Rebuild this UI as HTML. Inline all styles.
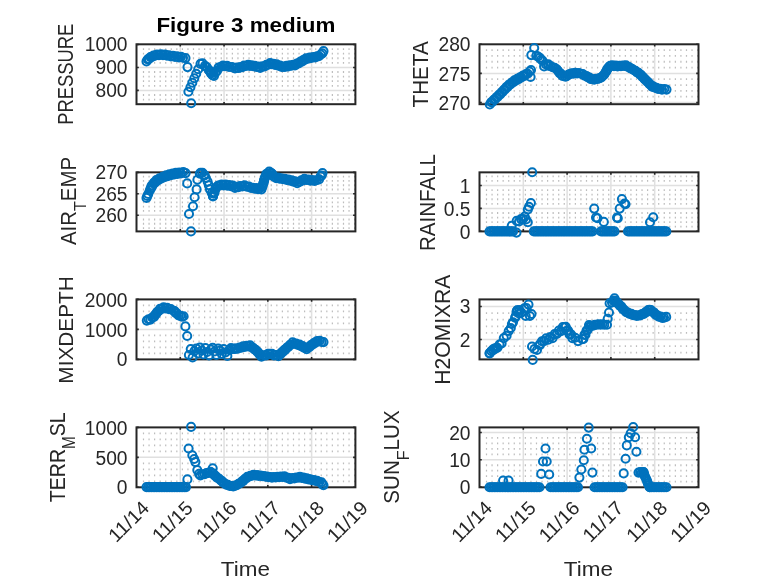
<!DOCTYPE html>
<html><head><meta charset="utf-8"><style>
html,body{margin:0;padding:0;background:#fff;}
svg{display:block;font-family:"Liberation Sans",sans-serif;will-change:transform;}
</style></head><body>
<svg width="778" height="583" viewBox="0 0 778 583">
<rect width="778" height="583" fill="#fff"/>
<g>
<path d="M142.90 94.09h1.2v1.8h-1.2zM142.90 98.69h1.2v1.8h-1.2zM142.90 84.91h1.2v1.8h-1.2zM142.90 80.31h1.2v1.8h-1.2zM142.90 75.72h1.2v1.8h-1.2zM142.90 71.12h1.2v1.8h-1.2zM142.90 61.93h1.2v1.8h-1.2zM142.90 57.34h1.2v1.8h-1.2zM142.90 52.74h1.2v1.8h-1.2zM142.90 48.15h1.2v1.8h-1.2zM148.46 94.09h1.2v1.8h-1.2zM148.46 98.69h1.2v1.8h-1.2zM148.46 84.91h1.2v1.8h-1.2zM148.46 80.31h1.2v1.8h-1.2zM148.46 75.72h1.2v1.8h-1.2zM148.46 71.12h1.2v1.8h-1.2zM148.46 61.93h1.2v1.8h-1.2zM148.46 57.34h1.2v1.8h-1.2zM148.46 52.74h1.2v1.8h-1.2zM148.46 48.15h1.2v1.8h-1.2zM154.01 94.09h1.2v1.8h-1.2zM154.01 98.69h1.2v1.8h-1.2zM154.01 84.91h1.2v1.8h-1.2zM154.01 80.31h1.2v1.8h-1.2zM154.01 75.72h1.2v1.8h-1.2zM154.01 71.12h1.2v1.8h-1.2zM154.01 61.93h1.2v1.8h-1.2zM154.01 57.34h1.2v1.8h-1.2zM154.01 52.74h1.2v1.8h-1.2zM154.01 48.15h1.2v1.8h-1.2zM159.57 94.09h1.2v1.8h-1.2zM159.57 98.69h1.2v1.8h-1.2zM159.57 84.91h1.2v1.8h-1.2zM159.57 80.31h1.2v1.8h-1.2zM159.57 75.72h1.2v1.8h-1.2zM159.57 71.12h1.2v1.8h-1.2zM159.57 61.93h1.2v1.8h-1.2zM159.57 57.34h1.2v1.8h-1.2zM159.57 52.74h1.2v1.8h-1.2zM159.57 48.15h1.2v1.8h-1.2zM165.12 94.09h1.2v1.8h-1.2zM165.12 98.69h1.2v1.8h-1.2zM165.12 84.91h1.2v1.8h-1.2zM165.12 80.31h1.2v1.8h-1.2zM165.12 75.72h1.2v1.8h-1.2zM165.12 71.12h1.2v1.8h-1.2zM165.12 61.93h1.2v1.8h-1.2zM165.12 57.34h1.2v1.8h-1.2zM165.12 52.74h1.2v1.8h-1.2zM165.12 48.15h1.2v1.8h-1.2zM170.68 94.09h1.2v1.8h-1.2zM170.68 98.69h1.2v1.8h-1.2zM170.68 84.91h1.2v1.8h-1.2zM170.68 80.31h1.2v1.8h-1.2zM170.68 75.72h1.2v1.8h-1.2zM170.68 71.12h1.2v1.8h-1.2zM170.68 61.93h1.2v1.8h-1.2zM170.68 57.34h1.2v1.8h-1.2zM170.68 52.74h1.2v1.8h-1.2zM170.68 48.15h1.2v1.8h-1.2zM176.23 94.09h1.2v1.8h-1.2zM176.23 98.69h1.2v1.8h-1.2zM176.23 84.91h1.2v1.8h-1.2zM176.23 80.31h1.2v1.8h-1.2zM176.23 75.72h1.2v1.8h-1.2zM176.23 71.12h1.2v1.8h-1.2zM176.23 61.93h1.2v1.8h-1.2zM176.23 57.34h1.2v1.8h-1.2zM176.23 52.74h1.2v1.8h-1.2zM176.23 48.15h1.2v1.8h-1.2zM181.79 94.09h1.2v1.8h-1.2zM181.79 98.69h1.2v1.8h-1.2zM181.79 84.91h1.2v1.8h-1.2zM181.79 80.31h1.2v1.8h-1.2zM181.79 75.72h1.2v1.8h-1.2zM181.79 71.12h1.2v1.8h-1.2zM181.79 61.93h1.2v1.8h-1.2zM181.79 57.34h1.2v1.8h-1.2zM181.79 52.74h1.2v1.8h-1.2zM181.79 48.15h1.2v1.8h-1.2zM187.34 94.09h1.2v1.8h-1.2zM187.34 98.69h1.2v1.8h-1.2zM187.34 84.91h1.2v1.8h-1.2zM187.34 80.31h1.2v1.8h-1.2zM187.34 75.72h1.2v1.8h-1.2zM187.34 71.12h1.2v1.8h-1.2zM187.34 61.93h1.2v1.8h-1.2zM187.34 57.34h1.2v1.8h-1.2zM187.34 52.74h1.2v1.8h-1.2zM187.34 48.15h1.2v1.8h-1.2zM192.90 94.09h1.2v1.8h-1.2zM192.90 98.69h1.2v1.8h-1.2zM192.90 84.91h1.2v1.8h-1.2zM192.90 80.31h1.2v1.8h-1.2zM192.90 75.72h1.2v1.8h-1.2zM192.90 71.12h1.2v1.8h-1.2zM192.90 61.93h1.2v1.8h-1.2zM192.90 57.34h1.2v1.8h-1.2zM192.90 52.74h1.2v1.8h-1.2zM192.90 48.15h1.2v1.8h-1.2zM198.45 94.09h1.2v1.8h-1.2zM198.45 98.69h1.2v1.8h-1.2zM198.45 84.91h1.2v1.8h-1.2zM198.45 80.31h1.2v1.8h-1.2zM198.45 75.72h1.2v1.8h-1.2zM198.45 71.12h1.2v1.8h-1.2zM198.45 61.93h1.2v1.8h-1.2zM198.45 57.34h1.2v1.8h-1.2zM198.45 52.74h1.2v1.8h-1.2zM198.45 48.15h1.2v1.8h-1.2zM204.01 94.09h1.2v1.8h-1.2zM204.01 98.69h1.2v1.8h-1.2zM204.01 84.91h1.2v1.8h-1.2zM204.01 80.31h1.2v1.8h-1.2zM204.01 75.72h1.2v1.8h-1.2zM204.01 71.12h1.2v1.8h-1.2zM204.01 61.93h1.2v1.8h-1.2zM204.01 57.34h1.2v1.8h-1.2zM204.01 52.74h1.2v1.8h-1.2zM204.01 48.15h1.2v1.8h-1.2zM209.56 94.09h1.2v1.8h-1.2zM209.56 98.69h1.2v1.8h-1.2zM209.56 84.91h1.2v1.8h-1.2zM209.56 80.31h1.2v1.8h-1.2zM209.56 75.72h1.2v1.8h-1.2zM209.56 71.12h1.2v1.8h-1.2zM209.56 61.93h1.2v1.8h-1.2zM209.56 57.34h1.2v1.8h-1.2zM209.56 52.74h1.2v1.8h-1.2zM209.56 48.15h1.2v1.8h-1.2zM215.12 94.09h1.2v1.8h-1.2zM215.12 98.69h1.2v1.8h-1.2zM215.12 84.91h1.2v1.8h-1.2zM215.12 80.31h1.2v1.8h-1.2zM215.12 75.72h1.2v1.8h-1.2zM215.12 71.12h1.2v1.8h-1.2zM215.12 61.93h1.2v1.8h-1.2zM215.12 57.34h1.2v1.8h-1.2zM215.12 52.74h1.2v1.8h-1.2zM215.12 48.15h1.2v1.8h-1.2zM220.67 94.09h1.2v1.8h-1.2zM220.67 98.69h1.2v1.8h-1.2zM220.67 84.91h1.2v1.8h-1.2zM220.67 80.31h1.2v1.8h-1.2zM220.67 75.72h1.2v1.8h-1.2zM220.67 71.12h1.2v1.8h-1.2zM220.67 61.93h1.2v1.8h-1.2zM220.67 57.34h1.2v1.8h-1.2zM220.67 52.74h1.2v1.8h-1.2zM220.67 48.15h1.2v1.8h-1.2zM226.23 94.09h1.2v1.8h-1.2zM226.23 98.69h1.2v1.8h-1.2zM226.23 84.91h1.2v1.8h-1.2zM226.23 80.31h1.2v1.8h-1.2zM226.23 75.72h1.2v1.8h-1.2zM226.23 71.12h1.2v1.8h-1.2zM226.23 61.93h1.2v1.8h-1.2zM226.23 57.34h1.2v1.8h-1.2zM226.23 52.74h1.2v1.8h-1.2zM226.23 48.15h1.2v1.8h-1.2zM231.78 94.09h1.2v1.8h-1.2zM231.78 98.69h1.2v1.8h-1.2zM231.78 84.91h1.2v1.8h-1.2zM231.78 80.31h1.2v1.8h-1.2zM231.78 75.72h1.2v1.8h-1.2zM231.78 71.12h1.2v1.8h-1.2zM231.78 61.93h1.2v1.8h-1.2zM231.78 57.34h1.2v1.8h-1.2zM231.78 52.74h1.2v1.8h-1.2zM231.78 48.15h1.2v1.8h-1.2zM237.34 94.09h1.2v1.8h-1.2zM237.34 98.69h1.2v1.8h-1.2zM237.34 84.91h1.2v1.8h-1.2zM237.34 80.31h1.2v1.8h-1.2zM237.34 75.72h1.2v1.8h-1.2zM237.34 71.12h1.2v1.8h-1.2zM237.34 61.93h1.2v1.8h-1.2zM237.34 57.34h1.2v1.8h-1.2zM237.34 52.74h1.2v1.8h-1.2zM237.34 48.15h1.2v1.8h-1.2zM242.89 94.09h1.2v1.8h-1.2zM242.89 98.69h1.2v1.8h-1.2zM242.89 84.91h1.2v1.8h-1.2zM242.89 80.31h1.2v1.8h-1.2zM242.89 75.72h1.2v1.8h-1.2zM242.89 71.12h1.2v1.8h-1.2zM242.89 61.93h1.2v1.8h-1.2zM242.89 57.34h1.2v1.8h-1.2zM242.89 52.74h1.2v1.8h-1.2zM242.89 48.15h1.2v1.8h-1.2zM248.45 94.09h1.2v1.8h-1.2zM248.45 98.69h1.2v1.8h-1.2zM248.45 84.91h1.2v1.8h-1.2zM248.45 80.31h1.2v1.8h-1.2zM248.45 75.72h1.2v1.8h-1.2zM248.45 71.12h1.2v1.8h-1.2zM248.45 61.93h1.2v1.8h-1.2zM248.45 57.34h1.2v1.8h-1.2zM248.45 52.74h1.2v1.8h-1.2zM248.45 48.15h1.2v1.8h-1.2zM254.00 94.09h1.2v1.8h-1.2zM254.00 98.69h1.2v1.8h-1.2zM254.00 84.91h1.2v1.8h-1.2zM254.00 80.31h1.2v1.8h-1.2zM254.00 75.72h1.2v1.8h-1.2zM254.00 71.12h1.2v1.8h-1.2zM254.00 61.93h1.2v1.8h-1.2zM254.00 57.34h1.2v1.8h-1.2zM254.00 52.74h1.2v1.8h-1.2zM254.00 48.15h1.2v1.8h-1.2zM259.56 94.09h1.2v1.8h-1.2zM259.56 98.69h1.2v1.8h-1.2zM259.56 84.91h1.2v1.8h-1.2zM259.56 80.31h1.2v1.8h-1.2zM259.56 75.72h1.2v1.8h-1.2zM259.56 71.12h1.2v1.8h-1.2zM259.56 61.93h1.2v1.8h-1.2zM259.56 57.34h1.2v1.8h-1.2zM259.56 52.74h1.2v1.8h-1.2zM259.56 48.15h1.2v1.8h-1.2zM265.11 94.09h1.2v1.8h-1.2zM265.11 98.69h1.2v1.8h-1.2zM265.11 84.91h1.2v1.8h-1.2zM265.11 80.31h1.2v1.8h-1.2zM265.11 75.72h1.2v1.8h-1.2zM265.11 71.12h1.2v1.8h-1.2zM265.11 61.93h1.2v1.8h-1.2zM265.11 57.34h1.2v1.8h-1.2zM265.11 52.74h1.2v1.8h-1.2zM265.11 48.15h1.2v1.8h-1.2zM270.67 94.09h1.2v1.8h-1.2zM270.67 98.69h1.2v1.8h-1.2zM270.67 84.91h1.2v1.8h-1.2zM270.67 80.31h1.2v1.8h-1.2zM270.67 75.72h1.2v1.8h-1.2zM270.67 71.12h1.2v1.8h-1.2zM270.67 61.93h1.2v1.8h-1.2zM270.67 57.34h1.2v1.8h-1.2zM270.67 52.74h1.2v1.8h-1.2zM270.67 48.15h1.2v1.8h-1.2zM276.22 94.09h1.2v1.8h-1.2zM276.22 98.69h1.2v1.8h-1.2zM276.22 84.91h1.2v1.8h-1.2zM276.22 80.31h1.2v1.8h-1.2zM276.22 75.72h1.2v1.8h-1.2zM276.22 71.12h1.2v1.8h-1.2zM276.22 61.93h1.2v1.8h-1.2zM276.22 57.34h1.2v1.8h-1.2zM276.22 52.74h1.2v1.8h-1.2zM276.22 48.15h1.2v1.8h-1.2zM281.78 94.09h1.2v1.8h-1.2zM281.78 98.69h1.2v1.8h-1.2zM281.78 84.91h1.2v1.8h-1.2zM281.78 80.31h1.2v1.8h-1.2zM281.78 75.72h1.2v1.8h-1.2zM281.78 71.12h1.2v1.8h-1.2zM281.78 61.93h1.2v1.8h-1.2zM281.78 57.34h1.2v1.8h-1.2zM281.78 52.74h1.2v1.8h-1.2zM281.78 48.15h1.2v1.8h-1.2zM287.33 94.09h1.2v1.8h-1.2zM287.33 98.69h1.2v1.8h-1.2zM287.33 84.91h1.2v1.8h-1.2zM287.33 80.31h1.2v1.8h-1.2zM287.33 75.72h1.2v1.8h-1.2zM287.33 71.12h1.2v1.8h-1.2zM287.33 61.93h1.2v1.8h-1.2zM287.33 57.34h1.2v1.8h-1.2zM287.33 52.74h1.2v1.8h-1.2zM287.33 48.15h1.2v1.8h-1.2zM292.89 94.09h1.2v1.8h-1.2zM292.89 98.69h1.2v1.8h-1.2zM292.89 84.91h1.2v1.8h-1.2zM292.89 80.31h1.2v1.8h-1.2zM292.89 75.72h1.2v1.8h-1.2zM292.89 71.12h1.2v1.8h-1.2zM292.89 61.93h1.2v1.8h-1.2zM292.89 57.34h1.2v1.8h-1.2zM292.89 52.74h1.2v1.8h-1.2zM292.89 48.15h1.2v1.8h-1.2zM298.44 94.09h1.2v1.8h-1.2zM298.44 98.69h1.2v1.8h-1.2zM298.44 84.91h1.2v1.8h-1.2zM298.44 80.31h1.2v1.8h-1.2zM298.44 75.72h1.2v1.8h-1.2zM298.44 71.12h1.2v1.8h-1.2zM298.44 61.93h1.2v1.8h-1.2zM298.44 57.34h1.2v1.8h-1.2zM298.44 52.74h1.2v1.8h-1.2zM298.44 48.15h1.2v1.8h-1.2zM304.00 94.09h1.2v1.8h-1.2zM304.00 98.69h1.2v1.8h-1.2zM304.00 84.91h1.2v1.8h-1.2zM304.00 80.31h1.2v1.8h-1.2zM304.00 75.72h1.2v1.8h-1.2zM304.00 71.12h1.2v1.8h-1.2zM304.00 61.93h1.2v1.8h-1.2zM304.00 57.34h1.2v1.8h-1.2zM304.00 52.74h1.2v1.8h-1.2zM304.00 48.15h1.2v1.8h-1.2zM309.55 94.09h1.2v1.8h-1.2zM309.55 98.69h1.2v1.8h-1.2zM309.55 84.91h1.2v1.8h-1.2zM309.55 80.31h1.2v1.8h-1.2zM309.55 75.72h1.2v1.8h-1.2zM309.55 71.12h1.2v1.8h-1.2zM309.55 61.93h1.2v1.8h-1.2zM309.55 57.34h1.2v1.8h-1.2zM309.55 52.74h1.2v1.8h-1.2zM309.55 48.15h1.2v1.8h-1.2zM315.11 94.09h1.2v1.8h-1.2zM315.11 98.69h1.2v1.8h-1.2zM315.11 84.91h1.2v1.8h-1.2zM315.11 80.31h1.2v1.8h-1.2zM315.11 75.72h1.2v1.8h-1.2zM315.11 71.12h1.2v1.8h-1.2zM315.11 61.93h1.2v1.8h-1.2zM315.11 57.34h1.2v1.8h-1.2zM315.11 52.74h1.2v1.8h-1.2zM315.11 48.15h1.2v1.8h-1.2zM320.66 94.09h1.2v1.8h-1.2zM320.66 98.69h1.2v1.8h-1.2zM320.66 84.91h1.2v1.8h-1.2zM320.66 80.31h1.2v1.8h-1.2zM320.66 75.72h1.2v1.8h-1.2zM320.66 71.12h1.2v1.8h-1.2zM320.66 61.93h1.2v1.8h-1.2zM320.66 57.34h1.2v1.8h-1.2zM320.66 52.74h1.2v1.8h-1.2zM320.66 48.15h1.2v1.8h-1.2zM326.22 94.09h1.2v1.8h-1.2zM326.22 98.69h1.2v1.8h-1.2zM326.22 84.91h1.2v1.8h-1.2zM326.22 80.31h1.2v1.8h-1.2zM326.22 75.72h1.2v1.8h-1.2zM326.22 71.12h1.2v1.8h-1.2zM326.22 61.93h1.2v1.8h-1.2zM326.22 57.34h1.2v1.8h-1.2zM326.22 52.74h1.2v1.8h-1.2zM326.22 48.15h1.2v1.8h-1.2zM331.77 94.09h1.2v1.8h-1.2zM331.77 98.69h1.2v1.8h-1.2zM331.77 84.91h1.2v1.8h-1.2zM331.77 80.31h1.2v1.8h-1.2zM331.77 75.72h1.2v1.8h-1.2zM331.77 71.12h1.2v1.8h-1.2zM331.77 61.93h1.2v1.8h-1.2zM331.77 57.34h1.2v1.8h-1.2zM331.77 52.74h1.2v1.8h-1.2zM331.77 48.15h1.2v1.8h-1.2zM337.33 94.09h1.2v1.8h-1.2zM337.33 98.69h1.2v1.8h-1.2zM337.33 84.91h1.2v1.8h-1.2zM337.33 80.31h1.2v1.8h-1.2zM337.33 75.72h1.2v1.8h-1.2zM337.33 71.12h1.2v1.8h-1.2zM337.33 61.93h1.2v1.8h-1.2zM337.33 57.34h1.2v1.8h-1.2zM337.33 52.74h1.2v1.8h-1.2zM337.33 48.15h1.2v1.8h-1.2zM342.88 94.09h1.2v1.8h-1.2zM342.88 98.69h1.2v1.8h-1.2zM342.88 84.91h1.2v1.8h-1.2zM342.88 80.31h1.2v1.8h-1.2zM342.88 75.72h1.2v1.8h-1.2zM342.88 71.12h1.2v1.8h-1.2zM342.88 61.93h1.2v1.8h-1.2zM342.88 57.34h1.2v1.8h-1.2zM342.88 52.74h1.2v1.8h-1.2zM342.88 48.15h1.2v1.8h-1.2zM348.44 94.09h1.2v1.8h-1.2zM348.44 98.69h1.2v1.8h-1.2zM348.44 84.91h1.2v1.8h-1.2zM348.44 80.31h1.2v1.8h-1.2zM348.44 75.72h1.2v1.8h-1.2zM348.44 71.12h1.2v1.8h-1.2zM348.44 61.93h1.2v1.8h-1.2zM348.44 57.34h1.2v1.8h-1.2zM348.44 52.74h1.2v1.8h-1.2zM348.44 48.15h1.2v1.8h-1.2zM353.99 94.09h1.2v1.8h-1.2zM353.99 98.69h1.2v1.8h-1.2zM353.99 84.91h1.2v1.8h-1.2zM353.99 80.31h1.2v1.8h-1.2zM353.99 75.72h1.2v1.8h-1.2zM353.99 71.12h1.2v1.8h-1.2zM353.99 61.93h1.2v1.8h-1.2zM353.99 57.34h1.2v1.8h-1.2zM353.99 52.74h1.2v1.8h-1.2zM353.99 48.15h1.2v1.8h-1.2z" fill="#262626" fill-opacity="0.3"/>
<path d="M180.28 44.30V104.20M224.06 44.30V104.20M267.84 44.30V104.20M311.62 44.30V104.20M136.50 90.40H355.40M136.50 67.43H355.40" stroke="#e0e0e0" stroke-width="1.5" fill="none"/>
<rect x="136.5" y="44.3" width="218.90" height="59.90" fill="none" stroke="#262626" stroke-width="2.0"/>
<path d="M180.28 44.30v2.3M180.28 104.20v-2.3M224.06 44.30v2.3M224.06 104.20v-2.3M267.84 44.30v2.3M267.84 104.20v-2.3M311.62 44.30v2.3M311.62 104.20v-2.3M136.50 90.40h2.3M355.40 90.40h-2.3M136.50 67.43h2.3M355.40 67.43h-2.3M136.50 44.45h2.3M355.40 44.45h-2.3" stroke="#262626" stroke-width="1.6" fill="none"/>
<path d="M148.97 58.53L149.00 58.50L152.00 56.50L155.00 55.20L159.00 54.80L163.00 54.80L167.00 55.20L171.00 56.00L175.00 56.50L179.00 57.00L182.28 57.25" fill="none" stroke="#0072BD" stroke-width="3.8" stroke-linecap="round" stroke-linejoin="round"/>
<path d="M203.72 64.63L205.00 65.50L207.00 67.80L209.00 70.00L211.00 73.00L212.50 75.50L214.00 75.50L215.50 73.00L217.00 70.50L218.50 68.00L221.00 66.30L225.00 65.70L229.00 66.50L232.00 67.50L235.00 68.00L240.50 67.50L244.00 66.00L248.20 65.20L254.70 66.10L260.20 67.50L264.60 66.10L270.10 63.40L276.70 64.80L283.30 67.00L289.80 65.60L295.00 65.00L300.50 62.00L306.00 58.70L311.50 57.60L317.00 56.80L320.70 54.90L321.28 54.21" fill="none" stroke="#0072BD" stroke-width="3.8" stroke-linecap="round" stroke-linejoin="round"/>
<g fill="none" stroke="#0072BD" stroke-width="2.0"><circle cx="146.50" cy="61.40" r="4.05"/><circle cx="147.75" cy="59.35" r="4.05"/><circle cx="149.00" cy="58.90" r="4.05"/><circle cx="150.50" cy="57.10" r="4.05"/><circle cx="152.00" cy="56.90" r="4.05"/><circle cx="153.50" cy="55.45" r="4.05"/><circle cx="155.00" cy="55.60" r="4.05"/><circle cx="157.00" cy="54.60" r="4.05"/><circle cx="159.00" cy="55.20" r="4.05"/><circle cx="161.00" cy="54.40" r="4.05"/><circle cx="163.00" cy="55.20" r="4.05"/><circle cx="165.00" cy="54.60" r="4.05"/><circle cx="167.00" cy="55.60" r="4.05"/><circle cx="169.00" cy="55.20" r="4.05"/><circle cx="171.00" cy="56.40" r="4.05"/><circle cx="173.00" cy="55.85" r="4.05"/><circle cx="175.00" cy="56.90" r="4.05"/><circle cx="177.00" cy="56.35" r="4.05"/><circle cx="179.00" cy="57.40" r="4.05"/><circle cx="181.00" cy="56.75" r="4.05"/><circle cx="183.00" cy="57.70" r="4.05"/><circle cx="185.50" cy="58.10" r="4.05"/><circle cx="187.50" cy="67.10" r="4.05"/><circle cx="191.20" cy="103.20" r="4.05"/><circle cx="188.40" cy="91.80" r="4.05"/><circle cx="190.40" cy="87.30" r="4.05"/><circle cx="192.30" cy="82.80" r="4.05"/><circle cx="194.30" cy="78.20" r="4.05"/><circle cx="196.20" cy="73.70" r="4.05"/><circle cx="198.20" cy="69.20" r="4.05"/><circle cx="200.50" cy="63.90" r="4.05"/><circle cx="202.50" cy="63.40" r="4.05"/><circle cx="205.00" cy="65.90" r="4.05"/><circle cx="207.00" cy="67.40" r="4.05"/><circle cx="209.00" cy="70.40" r="4.05"/><circle cx="210.00" cy="71.10" r="4.05"/><circle cx="211.00" cy="73.40" r="4.05"/><circle cx="212.50" cy="75.10" r="4.05"/><circle cx="214.00" cy="75.90" r="4.05"/><circle cx="215.50" cy="72.60" r="4.05"/><circle cx="217.00" cy="70.90" r="4.05"/><circle cx="218.50" cy="67.60" r="4.05"/><circle cx="221.00" cy="66.70" r="4.05"/><circle cx="223.00" cy="65.60" r="4.05"/><circle cx="225.00" cy="66.10" r="4.05"/><circle cx="227.00" cy="65.70" r="4.05"/><circle cx="229.00" cy="66.90" r="4.05"/><circle cx="232.00" cy="67.10" r="4.05"/><circle cx="235.00" cy="68.40" r="4.05"/><circle cx="236.83" cy="67.43" r="4.05"/><circle cx="238.67" cy="68.07" r="4.05"/><circle cx="240.50" cy="67.10" r="4.05"/><circle cx="242.25" cy="67.15" r="4.05"/><circle cx="244.00" cy="65.60" r="4.05"/><circle cx="246.10" cy="66.00" r="4.05"/><circle cx="248.20" cy="64.80" r="4.05"/><circle cx="249.82" cy="65.83" r="4.05"/><circle cx="251.45" cy="65.25" r="4.05"/><circle cx="253.07" cy="66.28" r="4.05"/><circle cx="254.70" cy="65.70" r="4.05"/><circle cx="256.53" cy="66.97" r="4.05"/><circle cx="258.37" cy="66.63" r="4.05"/><circle cx="260.20" cy="67.90" r="4.05"/><circle cx="262.40" cy="66.40" r="4.05"/><circle cx="264.60" cy="66.50" r="4.05"/><circle cx="266.43" cy="64.80" r="4.05"/><circle cx="268.27" cy="64.70" r="4.05"/><circle cx="270.10" cy="63.00" r="4.05"/><circle cx="271.75" cy="64.15" r="4.05"/><circle cx="273.40" cy="63.70" r="4.05"/><circle cx="275.05" cy="64.85" r="4.05"/><circle cx="276.70" cy="64.40" r="4.05"/><circle cx="278.35" cy="65.75" r="4.05"/><circle cx="280.00" cy="65.50" r="4.05"/><circle cx="281.65" cy="66.85" r="4.05"/><circle cx="283.30" cy="66.60" r="4.05"/><circle cx="284.93" cy="67.05" r="4.05"/><circle cx="286.55" cy="65.90" r="4.05"/><circle cx="288.18" cy="66.35" r="4.05"/><circle cx="289.80" cy="65.20" r="4.05"/><circle cx="291.53" cy="65.80" r="4.05"/><circle cx="293.27" cy="64.80" r="4.05"/><circle cx="295.00" cy="65.40" r="4.05"/><circle cx="296.83" cy="63.60" r="4.05"/><circle cx="298.67" cy="63.40" r="4.05"/><circle cx="300.50" cy="61.60" r="4.05"/><circle cx="301.88" cy="61.57" r="4.05"/><circle cx="303.25" cy="59.95" r="4.05"/><circle cx="304.62" cy="59.93" r="4.05"/><circle cx="306.00" cy="58.30" r="4.05"/><circle cx="307.83" cy="58.73" r="4.05"/><circle cx="309.67" cy="57.57" r="4.05"/><circle cx="311.50" cy="58.00" r="4.05"/><circle cx="313.33" cy="56.93" r="4.05"/><circle cx="315.17" cy="57.47" r="4.05"/><circle cx="317.00" cy="56.40" r="4.05"/><circle cx="318.85" cy="56.25" r="4.05"/><circle cx="320.70" cy="54.50" r="4.05"/><circle cx="322.30" cy="53.40" r="4.05"/><circle cx="323.50" cy="51.10" r="4.05"/></g>
<text transform="translate(127.50,96.99) scale(0.975,1)" text-anchor="end" font-size="19.7" fill="#262626">800</text>
<text transform="translate(127.50,73.94) scale(0.975,1)" text-anchor="end" font-size="19.7" fill="#262626">900</text>
<text transform="translate(127.50,51.09) scale(0.975,1)" text-anchor="end" font-size="19.7" fill="#262626">1000</text>
</g>
<g>
<path d="M142.90 218.58h1.2v1.8h-1.2zM142.90 222.86h1.2v1.8h-1.2zM142.90 227.14h1.2v1.8h-1.2zM142.90 210.02h1.2v1.8h-1.2zM142.90 205.74h1.2v1.8h-1.2zM142.90 201.46h1.2v1.8h-1.2zM142.90 197.18h1.2v1.8h-1.2zM142.90 188.62h1.2v1.8h-1.2zM142.90 184.34h1.2v1.8h-1.2zM142.90 180.06h1.2v1.8h-1.2zM142.90 175.78h1.2v1.8h-1.2zM148.46 218.58h1.2v1.8h-1.2zM148.46 222.86h1.2v1.8h-1.2zM148.46 227.14h1.2v1.8h-1.2zM148.46 210.02h1.2v1.8h-1.2zM148.46 205.74h1.2v1.8h-1.2zM148.46 201.46h1.2v1.8h-1.2zM148.46 197.18h1.2v1.8h-1.2zM148.46 188.62h1.2v1.8h-1.2zM148.46 184.34h1.2v1.8h-1.2zM148.46 180.06h1.2v1.8h-1.2zM148.46 175.78h1.2v1.8h-1.2zM154.01 218.58h1.2v1.8h-1.2zM154.01 222.86h1.2v1.8h-1.2zM154.01 227.14h1.2v1.8h-1.2zM154.01 210.02h1.2v1.8h-1.2zM154.01 205.74h1.2v1.8h-1.2zM154.01 201.46h1.2v1.8h-1.2zM154.01 197.18h1.2v1.8h-1.2zM154.01 188.62h1.2v1.8h-1.2zM154.01 184.34h1.2v1.8h-1.2zM154.01 180.06h1.2v1.8h-1.2zM154.01 175.78h1.2v1.8h-1.2zM159.57 218.58h1.2v1.8h-1.2zM159.57 222.86h1.2v1.8h-1.2zM159.57 227.14h1.2v1.8h-1.2zM159.57 210.02h1.2v1.8h-1.2zM159.57 205.74h1.2v1.8h-1.2zM159.57 201.46h1.2v1.8h-1.2zM159.57 197.18h1.2v1.8h-1.2zM159.57 188.62h1.2v1.8h-1.2zM159.57 184.34h1.2v1.8h-1.2zM159.57 180.06h1.2v1.8h-1.2zM159.57 175.78h1.2v1.8h-1.2zM165.12 218.58h1.2v1.8h-1.2zM165.12 222.86h1.2v1.8h-1.2zM165.12 227.14h1.2v1.8h-1.2zM165.12 210.02h1.2v1.8h-1.2zM165.12 205.74h1.2v1.8h-1.2zM165.12 201.46h1.2v1.8h-1.2zM165.12 197.18h1.2v1.8h-1.2zM165.12 188.62h1.2v1.8h-1.2zM165.12 184.34h1.2v1.8h-1.2zM165.12 180.06h1.2v1.8h-1.2zM165.12 175.78h1.2v1.8h-1.2zM170.68 218.58h1.2v1.8h-1.2zM170.68 222.86h1.2v1.8h-1.2zM170.68 227.14h1.2v1.8h-1.2zM170.68 210.02h1.2v1.8h-1.2zM170.68 205.74h1.2v1.8h-1.2zM170.68 201.46h1.2v1.8h-1.2zM170.68 197.18h1.2v1.8h-1.2zM170.68 188.62h1.2v1.8h-1.2zM170.68 184.34h1.2v1.8h-1.2zM170.68 180.06h1.2v1.8h-1.2zM170.68 175.78h1.2v1.8h-1.2zM176.23 218.58h1.2v1.8h-1.2zM176.23 222.86h1.2v1.8h-1.2zM176.23 227.14h1.2v1.8h-1.2zM176.23 210.02h1.2v1.8h-1.2zM176.23 205.74h1.2v1.8h-1.2zM176.23 201.46h1.2v1.8h-1.2zM176.23 197.18h1.2v1.8h-1.2zM176.23 188.62h1.2v1.8h-1.2zM176.23 184.34h1.2v1.8h-1.2zM176.23 180.06h1.2v1.8h-1.2zM176.23 175.78h1.2v1.8h-1.2zM181.79 218.58h1.2v1.8h-1.2zM181.79 222.86h1.2v1.8h-1.2zM181.79 227.14h1.2v1.8h-1.2zM181.79 210.02h1.2v1.8h-1.2zM181.79 205.74h1.2v1.8h-1.2zM181.79 201.46h1.2v1.8h-1.2zM181.79 197.18h1.2v1.8h-1.2zM181.79 188.62h1.2v1.8h-1.2zM181.79 184.34h1.2v1.8h-1.2zM181.79 180.06h1.2v1.8h-1.2zM181.79 175.78h1.2v1.8h-1.2zM187.34 218.58h1.2v1.8h-1.2zM187.34 222.86h1.2v1.8h-1.2zM187.34 227.14h1.2v1.8h-1.2zM187.34 210.02h1.2v1.8h-1.2zM187.34 205.74h1.2v1.8h-1.2zM187.34 201.46h1.2v1.8h-1.2zM187.34 197.18h1.2v1.8h-1.2zM187.34 188.62h1.2v1.8h-1.2zM187.34 184.34h1.2v1.8h-1.2zM187.34 180.06h1.2v1.8h-1.2zM187.34 175.78h1.2v1.8h-1.2zM192.90 218.58h1.2v1.8h-1.2zM192.90 222.86h1.2v1.8h-1.2zM192.90 227.14h1.2v1.8h-1.2zM192.90 210.02h1.2v1.8h-1.2zM192.90 205.74h1.2v1.8h-1.2zM192.90 201.46h1.2v1.8h-1.2zM192.90 197.18h1.2v1.8h-1.2zM192.90 188.62h1.2v1.8h-1.2zM192.90 184.34h1.2v1.8h-1.2zM192.90 180.06h1.2v1.8h-1.2zM192.90 175.78h1.2v1.8h-1.2zM198.45 218.58h1.2v1.8h-1.2zM198.45 222.86h1.2v1.8h-1.2zM198.45 227.14h1.2v1.8h-1.2zM198.45 210.02h1.2v1.8h-1.2zM198.45 205.74h1.2v1.8h-1.2zM198.45 201.46h1.2v1.8h-1.2zM198.45 197.18h1.2v1.8h-1.2zM198.45 188.62h1.2v1.8h-1.2zM198.45 184.34h1.2v1.8h-1.2zM198.45 180.06h1.2v1.8h-1.2zM198.45 175.78h1.2v1.8h-1.2zM204.01 218.58h1.2v1.8h-1.2zM204.01 222.86h1.2v1.8h-1.2zM204.01 227.14h1.2v1.8h-1.2zM204.01 210.02h1.2v1.8h-1.2zM204.01 205.74h1.2v1.8h-1.2zM204.01 201.46h1.2v1.8h-1.2zM204.01 197.18h1.2v1.8h-1.2zM204.01 188.62h1.2v1.8h-1.2zM204.01 184.34h1.2v1.8h-1.2zM204.01 180.06h1.2v1.8h-1.2zM204.01 175.78h1.2v1.8h-1.2zM209.56 218.58h1.2v1.8h-1.2zM209.56 222.86h1.2v1.8h-1.2zM209.56 227.14h1.2v1.8h-1.2zM209.56 210.02h1.2v1.8h-1.2zM209.56 205.74h1.2v1.8h-1.2zM209.56 201.46h1.2v1.8h-1.2zM209.56 197.18h1.2v1.8h-1.2zM209.56 188.62h1.2v1.8h-1.2zM209.56 184.34h1.2v1.8h-1.2zM209.56 180.06h1.2v1.8h-1.2zM209.56 175.78h1.2v1.8h-1.2zM215.12 218.58h1.2v1.8h-1.2zM215.12 222.86h1.2v1.8h-1.2zM215.12 227.14h1.2v1.8h-1.2zM215.12 210.02h1.2v1.8h-1.2zM215.12 205.74h1.2v1.8h-1.2zM215.12 201.46h1.2v1.8h-1.2zM215.12 197.18h1.2v1.8h-1.2zM215.12 188.62h1.2v1.8h-1.2zM215.12 184.34h1.2v1.8h-1.2zM215.12 180.06h1.2v1.8h-1.2zM215.12 175.78h1.2v1.8h-1.2zM220.67 218.58h1.2v1.8h-1.2zM220.67 222.86h1.2v1.8h-1.2zM220.67 227.14h1.2v1.8h-1.2zM220.67 210.02h1.2v1.8h-1.2zM220.67 205.74h1.2v1.8h-1.2zM220.67 201.46h1.2v1.8h-1.2zM220.67 197.18h1.2v1.8h-1.2zM220.67 188.62h1.2v1.8h-1.2zM220.67 184.34h1.2v1.8h-1.2zM220.67 180.06h1.2v1.8h-1.2zM220.67 175.78h1.2v1.8h-1.2zM226.23 218.58h1.2v1.8h-1.2zM226.23 222.86h1.2v1.8h-1.2zM226.23 227.14h1.2v1.8h-1.2zM226.23 210.02h1.2v1.8h-1.2zM226.23 205.74h1.2v1.8h-1.2zM226.23 201.46h1.2v1.8h-1.2zM226.23 197.18h1.2v1.8h-1.2zM226.23 188.62h1.2v1.8h-1.2zM226.23 184.34h1.2v1.8h-1.2zM226.23 180.06h1.2v1.8h-1.2zM226.23 175.78h1.2v1.8h-1.2zM231.78 218.58h1.2v1.8h-1.2zM231.78 222.86h1.2v1.8h-1.2zM231.78 227.14h1.2v1.8h-1.2zM231.78 210.02h1.2v1.8h-1.2zM231.78 205.74h1.2v1.8h-1.2zM231.78 201.46h1.2v1.8h-1.2zM231.78 197.18h1.2v1.8h-1.2zM231.78 188.62h1.2v1.8h-1.2zM231.78 184.34h1.2v1.8h-1.2zM231.78 180.06h1.2v1.8h-1.2zM231.78 175.78h1.2v1.8h-1.2zM237.34 218.58h1.2v1.8h-1.2zM237.34 222.86h1.2v1.8h-1.2zM237.34 227.14h1.2v1.8h-1.2zM237.34 210.02h1.2v1.8h-1.2zM237.34 205.74h1.2v1.8h-1.2zM237.34 201.46h1.2v1.8h-1.2zM237.34 197.18h1.2v1.8h-1.2zM237.34 188.62h1.2v1.8h-1.2zM237.34 184.34h1.2v1.8h-1.2zM237.34 180.06h1.2v1.8h-1.2zM237.34 175.78h1.2v1.8h-1.2zM242.89 218.58h1.2v1.8h-1.2zM242.89 222.86h1.2v1.8h-1.2zM242.89 227.14h1.2v1.8h-1.2zM242.89 210.02h1.2v1.8h-1.2zM242.89 205.74h1.2v1.8h-1.2zM242.89 201.46h1.2v1.8h-1.2zM242.89 197.18h1.2v1.8h-1.2zM242.89 188.62h1.2v1.8h-1.2zM242.89 184.34h1.2v1.8h-1.2zM242.89 180.06h1.2v1.8h-1.2zM242.89 175.78h1.2v1.8h-1.2zM248.45 218.58h1.2v1.8h-1.2zM248.45 222.86h1.2v1.8h-1.2zM248.45 227.14h1.2v1.8h-1.2zM248.45 210.02h1.2v1.8h-1.2zM248.45 205.74h1.2v1.8h-1.2zM248.45 201.46h1.2v1.8h-1.2zM248.45 197.18h1.2v1.8h-1.2zM248.45 188.62h1.2v1.8h-1.2zM248.45 184.34h1.2v1.8h-1.2zM248.45 180.06h1.2v1.8h-1.2zM248.45 175.78h1.2v1.8h-1.2zM254.00 218.58h1.2v1.8h-1.2zM254.00 222.86h1.2v1.8h-1.2zM254.00 227.14h1.2v1.8h-1.2zM254.00 210.02h1.2v1.8h-1.2zM254.00 205.74h1.2v1.8h-1.2zM254.00 201.46h1.2v1.8h-1.2zM254.00 197.18h1.2v1.8h-1.2zM254.00 188.62h1.2v1.8h-1.2zM254.00 184.34h1.2v1.8h-1.2zM254.00 180.06h1.2v1.8h-1.2zM254.00 175.78h1.2v1.8h-1.2zM259.56 218.58h1.2v1.8h-1.2zM259.56 222.86h1.2v1.8h-1.2zM259.56 227.14h1.2v1.8h-1.2zM259.56 210.02h1.2v1.8h-1.2zM259.56 205.74h1.2v1.8h-1.2zM259.56 201.46h1.2v1.8h-1.2zM259.56 197.18h1.2v1.8h-1.2zM259.56 188.62h1.2v1.8h-1.2zM259.56 184.34h1.2v1.8h-1.2zM259.56 180.06h1.2v1.8h-1.2zM259.56 175.78h1.2v1.8h-1.2zM265.11 218.58h1.2v1.8h-1.2zM265.11 222.86h1.2v1.8h-1.2zM265.11 227.14h1.2v1.8h-1.2zM265.11 210.02h1.2v1.8h-1.2zM265.11 205.74h1.2v1.8h-1.2zM265.11 201.46h1.2v1.8h-1.2zM265.11 197.18h1.2v1.8h-1.2zM265.11 188.62h1.2v1.8h-1.2zM265.11 184.34h1.2v1.8h-1.2zM265.11 180.06h1.2v1.8h-1.2zM265.11 175.78h1.2v1.8h-1.2zM270.67 218.58h1.2v1.8h-1.2zM270.67 222.86h1.2v1.8h-1.2zM270.67 227.14h1.2v1.8h-1.2zM270.67 210.02h1.2v1.8h-1.2zM270.67 205.74h1.2v1.8h-1.2zM270.67 201.46h1.2v1.8h-1.2zM270.67 197.18h1.2v1.8h-1.2zM270.67 188.62h1.2v1.8h-1.2zM270.67 184.34h1.2v1.8h-1.2zM270.67 180.06h1.2v1.8h-1.2zM270.67 175.78h1.2v1.8h-1.2zM276.22 218.58h1.2v1.8h-1.2zM276.22 222.86h1.2v1.8h-1.2zM276.22 227.14h1.2v1.8h-1.2zM276.22 210.02h1.2v1.8h-1.2zM276.22 205.74h1.2v1.8h-1.2zM276.22 201.46h1.2v1.8h-1.2zM276.22 197.18h1.2v1.8h-1.2zM276.22 188.62h1.2v1.8h-1.2zM276.22 184.34h1.2v1.8h-1.2zM276.22 180.06h1.2v1.8h-1.2zM276.22 175.78h1.2v1.8h-1.2zM281.78 218.58h1.2v1.8h-1.2zM281.78 222.86h1.2v1.8h-1.2zM281.78 227.14h1.2v1.8h-1.2zM281.78 210.02h1.2v1.8h-1.2zM281.78 205.74h1.2v1.8h-1.2zM281.78 201.46h1.2v1.8h-1.2zM281.78 197.18h1.2v1.8h-1.2zM281.78 188.62h1.2v1.8h-1.2zM281.78 184.34h1.2v1.8h-1.2zM281.78 180.06h1.2v1.8h-1.2zM281.78 175.78h1.2v1.8h-1.2zM287.33 218.58h1.2v1.8h-1.2zM287.33 222.86h1.2v1.8h-1.2zM287.33 227.14h1.2v1.8h-1.2zM287.33 210.02h1.2v1.8h-1.2zM287.33 205.74h1.2v1.8h-1.2zM287.33 201.46h1.2v1.8h-1.2zM287.33 197.18h1.2v1.8h-1.2zM287.33 188.62h1.2v1.8h-1.2zM287.33 184.34h1.2v1.8h-1.2zM287.33 180.06h1.2v1.8h-1.2zM287.33 175.78h1.2v1.8h-1.2zM292.89 218.58h1.2v1.8h-1.2zM292.89 222.86h1.2v1.8h-1.2zM292.89 227.14h1.2v1.8h-1.2zM292.89 210.02h1.2v1.8h-1.2zM292.89 205.74h1.2v1.8h-1.2zM292.89 201.46h1.2v1.8h-1.2zM292.89 197.18h1.2v1.8h-1.2zM292.89 188.62h1.2v1.8h-1.2zM292.89 184.34h1.2v1.8h-1.2zM292.89 180.06h1.2v1.8h-1.2zM292.89 175.78h1.2v1.8h-1.2zM298.44 218.58h1.2v1.8h-1.2zM298.44 222.86h1.2v1.8h-1.2zM298.44 227.14h1.2v1.8h-1.2zM298.44 210.02h1.2v1.8h-1.2zM298.44 205.74h1.2v1.8h-1.2zM298.44 201.46h1.2v1.8h-1.2zM298.44 197.18h1.2v1.8h-1.2zM298.44 188.62h1.2v1.8h-1.2zM298.44 184.34h1.2v1.8h-1.2zM298.44 180.06h1.2v1.8h-1.2zM298.44 175.78h1.2v1.8h-1.2zM304.00 218.58h1.2v1.8h-1.2zM304.00 222.86h1.2v1.8h-1.2zM304.00 227.14h1.2v1.8h-1.2zM304.00 210.02h1.2v1.8h-1.2zM304.00 205.74h1.2v1.8h-1.2zM304.00 201.46h1.2v1.8h-1.2zM304.00 197.18h1.2v1.8h-1.2zM304.00 188.62h1.2v1.8h-1.2zM304.00 184.34h1.2v1.8h-1.2zM304.00 180.06h1.2v1.8h-1.2zM304.00 175.78h1.2v1.8h-1.2zM309.55 218.58h1.2v1.8h-1.2zM309.55 222.86h1.2v1.8h-1.2zM309.55 227.14h1.2v1.8h-1.2zM309.55 210.02h1.2v1.8h-1.2zM309.55 205.74h1.2v1.8h-1.2zM309.55 201.46h1.2v1.8h-1.2zM309.55 197.18h1.2v1.8h-1.2zM309.55 188.62h1.2v1.8h-1.2zM309.55 184.34h1.2v1.8h-1.2zM309.55 180.06h1.2v1.8h-1.2zM309.55 175.78h1.2v1.8h-1.2zM315.11 218.58h1.2v1.8h-1.2zM315.11 222.86h1.2v1.8h-1.2zM315.11 227.14h1.2v1.8h-1.2zM315.11 210.02h1.2v1.8h-1.2zM315.11 205.74h1.2v1.8h-1.2zM315.11 201.46h1.2v1.8h-1.2zM315.11 197.18h1.2v1.8h-1.2zM315.11 188.62h1.2v1.8h-1.2zM315.11 184.34h1.2v1.8h-1.2zM315.11 180.06h1.2v1.8h-1.2zM315.11 175.78h1.2v1.8h-1.2zM320.66 218.58h1.2v1.8h-1.2zM320.66 222.86h1.2v1.8h-1.2zM320.66 227.14h1.2v1.8h-1.2zM320.66 210.02h1.2v1.8h-1.2zM320.66 205.74h1.2v1.8h-1.2zM320.66 201.46h1.2v1.8h-1.2zM320.66 197.18h1.2v1.8h-1.2zM320.66 188.62h1.2v1.8h-1.2zM320.66 184.34h1.2v1.8h-1.2zM320.66 180.06h1.2v1.8h-1.2zM320.66 175.78h1.2v1.8h-1.2zM326.22 218.58h1.2v1.8h-1.2zM326.22 222.86h1.2v1.8h-1.2zM326.22 227.14h1.2v1.8h-1.2zM326.22 210.02h1.2v1.8h-1.2zM326.22 205.74h1.2v1.8h-1.2zM326.22 201.46h1.2v1.8h-1.2zM326.22 197.18h1.2v1.8h-1.2zM326.22 188.62h1.2v1.8h-1.2zM326.22 184.34h1.2v1.8h-1.2zM326.22 180.06h1.2v1.8h-1.2zM326.22 175.78h1.2v1.8h-1.2zM331.77 218.58h1.2v1.8h-1.2zM331.77 222.86h1.2v1.8h-1.2zM331.77 227.14h1.2v1.8h-1.2zM331.77 210.02h1.2v1.8h-1.2zM331.77 205.74h1.2v1.8h-1.2zM331.77 201.46h1.2v1.8h-1.2zM331.77 197.18h1.2v1.8h-1.2zM331.77 188.62h1.2v1.8h-1.2zM331.77 184.34h1.2v1.8h-1.2zM331.77 180.06h1.2v1.8h-1.2zM331.77 175.78h1.2v1.8h-1.2zM337.33 218.58h1.2v1.8h-1.2zM337.33 222.86h1.2v1.8h-1.2zM337.33 227.14h1.2v1.8h-1.2zM337.33 210.02h1.2v1.8h-1.2zM337.33 205.74h1.2v1.8h-1.2zM337.33 201.46h1.2v1.8h-1.2zM337.33 197.18h1.2v1.8h-1.2zM337.33 188.62h1.2v1.8h-1.2zM337.33 184.34h1.2v1.8h-1.2zM337.33 180.06h1.2v1.8h-1.2zM337.33 175.78h1.2v1.8h-1.2zM342.88 218.58h1.2v1.8h-1.2zM342.88 222.86h1.2v1.8h-1.2zM342.88 227.14h1.2v1.8h-1.2zM342.88 210.02h1.2v1.8h-1.2zM342.88 205.74h1.2v1.8h-1.2zM342.88 201.46h1.2v1.8h-1.2zM342.88 197.18h1.2v1.8h-1.2zM342.88 188.62h1.2v1.8h-1.2zM342.88 184.34h1.2v1.8h-1.2zM342.88 180.06h1.2v1.8h-1.2zM342.88 175.78h1.2v1.8h-1.2zM348.44 218.58h1.2v1.8h-1.2zM348.44 222.86h1.2v1.8h-1.2zM348.44 227.14h1.2v1.8h-1.2zM348.44 210.02h1.2v1.8h-1.2zM348.44 205.74h1.2v1.8h-1.2zM348.44 201.46h1.2v1.8h-1.2zM348.44 197.18h1.2v1.8h-1.2zM348.44 188.62h1.2v1.8h-1.2zM348.44 184.34h1.2v1.8h-1.2zM348.44 180.06h1.2v1.8h-1.2zM348.44 175.78h1.2v1.8h-1.2zM353.99 218.58h1.2v1.8h-1.2zM353.99 222.86h1.2v1.8h-1.2zM353.99 227.14h1.2v1.8h-1.2zM353.99 210.02h1.2v1.8h-1.2zM353.99 205.74h1.2v1.8h-1.2zM353.99 201.46h1.2v1.8h-1.2zM353.99 197.18h1.2v1.8h-1.2zM353.99 188.62h1.2v1.8h-1.2zM353.99 184.34h1.2v1.8h-1.2zM353.99 180.06h1.2v1.8h-1.2zM353.99 175.78h1.2v1.8h-1.2z" fill="#262626" fill-opacity="0.3"/>
<path d="M180.28 172.35V231.40M224.06 172.35V231.40M267.84 172.35V231.40M311.62 172.35V231.40M136.50 215.20H355.40M136.50 193.80H355.40" stroke="#e0e0e0" stroke-width="1.5" fill="none"/>
<rect x="136.5" y="172.35" width="218.90" height="59.05" fill="none" stroke="#262626" stroke-width="2.0"/>
<path d="M180.28 172.35v2.3M180.28 231.40v-2.3M224.06 172.35v2.3M224.06 231.40v-2.3M267.84 172.35v2.3M267.84 231.40v-2.3M311.62 172.35v2.3M311.62 231.40v-2.3M136.50 215.20h2.3M355.40 215.20h-2.3M136.50 193.80h2.3M355.40 193.80h-2.3M136.50 172.40h2.3M355.40 172.40h-2.3" stroke="#262626" stroke-width="1.6" fill="none"/>
<path d="M152.35 185.03L152.50 184.80L156.30 180.70L161.00 178.00L166.10 176.00L171.00 174.50L175.90 173.50L181.00 172.80L182.11 172.73" fill="none" stroke="#0072BD" stroke-width="4.2" stroke-linecap="round" stroke-linejoin="round"/>
<path d="M202.50 173.75h0.01" fill="none" stroke="#0072BD" stroke-width="3.8" stroke-linecap="round" stroke-linejoin="round"/>
<path d="M214.23 192.72L214.50 192.00L216.00 187.50L219.60 185.00L225.60 185.00L232.80 186.00L235.00 187.50L240.00 186.50L244.60 185.80L249.00 187.00L253.00 188.20L261.40 189.10L263.20 184.00L264.40 179.20L266.20 174.40L269.20 172.00L271.00 172.50L274.60 177.40L283.00 178.90L290.20 180.40L295.00 181.60L297.20 182.80L304.40 179.20L310.40 180.40L316.40 180.70L319.00 179.00L320.60 176.80L320.75 176.53" fill="none" stroke="#0072BD" stroke-width="3.8" stroke-linecap="round" stroke-linejoin="round"/>
<g fill="none" stroke="#0072BD" stroke-width="2.0"><circle cx="150.50" cy="188.60" r="4.05"/><circle cx="151.50" cy="185.80" r="4.05"/><circle cx="152.50" cy="185.40" r="4.05"/><circle cx="153.77" cy="182.83" r="4.05"/><circle cx="155.03" cy="182.67" r="4.05"/><circle cx="156.30" cy="180.10" r="4.05"/><circle cx="157.87" cy="180.40" r="4.05"/><circle cx="159.43" cy="178.30" r="4.05"/><circle cx="161.00" cy="178.60" r="4.05"/><circle cx="162.70" cy="176.73" r="4.05"/><circle cx="164.40" cy="177.27" r="4.05"/><circle cx="166.10" cy="175.40" r="4.05"/><circle cx="167.73" cy="176.10" r="4.05"/><circle cx="169.37" cy="174.40" r="4.05"/><circle cx="171.00" cy="175.10" r="4.05"/><circle cx="172.63" cy="173.57" r="4.05"/><circle cx="174.27" cy="174.43" r="4.05"/><circle cx="175.90" cy="172.90" r="4.05"/><circle cx="177.60" cy="173.87" r="4.05"/><circle cx="179.30" cy="172.43" r="4.05"/><circle cx="181.00" cy="173.40" r="4.05"/><circle cx="183.30" cy="172.05" r="4.05"/><circle cx="185.60" cy="173.10" r="4.05"/><circle cx="146.50" cy="197.90" r="4.05"/><circle cx="147.35" cy="195.95" r="4.05"/><circle cx="148.20" cy="194.00" r="4.05"/><circle cx="149.80" cy="190.50" r="4.05"/><circle cx="151.50" cy="187.50" r="4.05"/><circle cx="187.20" cy="183.40" r="4.05"/><circle cx="189.00" cy="214.00" r="4.05"/><circle cx="191.00" cy="231.40" r="4.05"/><circle cx="193.00" cy="206.20" r="4.05"/><circle cx="194.60" cy="197.20" r="4.05"/><circle cx="196.60" cy="189.40" r="4.05"/><circle cx="197.40" cy="179.80" r="4.05"/><circle cx="199.80" cy="173.80" r="4.05"/><circle cx="200.50" cy="172.90" r="4.05"/><circle cx="202.50" cy="172.80" r="4.05"/><circle cx="204.50" cy="175.40" r="4.05"/><circle cx="204.50" cy="175.00" r="4.05"/><circle cx="205.80" cy="178.00" r="4.05"/><circle cx="207.60" cy="181.60" r="4.05"/><circle cx="208.80" cy="185.20" r="4.05"/><circle cx="210.00" cy="189.40" r="4.05"/><circle cx="211.80" cy="193.00" r="4.05"/><circle cx="213.00" cy="196.00" r="4.05"/><circle cx="213.00" cy="196.40" r="4.05"/><circle cx="213.75" cy="193.60" r="4.05"/><circle cx="214.50" cy="192.40" r="4.05"/><circle cx="215.25" cy="189.35" r="4.05"/><circle cx="216.00" cy="187.90" r="4.05"/><circle cx="217.80" cy="185.85" r="4.05"/><circle cx="219.60" cy="185.40" r="4.05"/><circle cx="221.60" cy="184.60" r="4.05"/><circle cx="223.60" cy="185.40" r="4.05"/><circle cx="225.60" cy="184.60" r="4.05"/><circle cx="227.40" cy="185.65" r="4.05"/><circle cx="229.20" cy="185.10" r="4.05"/><circle cx="231.00" cy="186.15" r="4.05"/><circle cx="232.80" cy="185.60" r="4.05"/><circle cx="235.00" cy="187.90" r="4.05"/><circle cx="236.67" cy="186.77" r="4.05"/><circle cx="238.33" cy="187.23" r="4.05"/><circle cx="240.00" cy="186.10" r="4.05"/><circle cx="242.30" cy="186.55" r="4.05"/><circle cx="244.60" cy="185.40" r="4.05"/><circle cx="246.80" cy="186.80" r="4.05"/><circle cx="249.00" cy="186.60" r="4.05"/><circle cx="251.00" cy="188.00" r="4.05"/><circle cx="253.00" cy="187.80" r="4.05"/><circle cx="254.68" cy="188.78" r="4.05"/><circle cx="256.36" cy="188.16" r="4.05"/><circle cx="258.04" cy="189.14" r="4.05"/><circle cx="259.72" cy="188.52" r="4.05"/><circle cx="261.40" cy="189.50" r="4.05"/><circle cx="262.00" cy="187.00" r="4.05"/><circle cx="262.60" cy="186.10" r="4.05"/><circle cx="263.20" cy="183.60" r="4.05"/><circle cx="263.60" cy="182.80" r="4.05"/><circle cx="264.00" cy="180.40" r="4.05"/><circle cx="264.40" cy="179.60" r="4.05"/><circle cx="265.00" cy="177.20" r="4.05"/><circle cx="265.60" cy="176.40" r="4.05"/><circle cx="266.20" cy="174.00" r="4.05"/><circle cx="267.70" cy="173.60" r="4.05"/><circle cx="269.20" cy="171.60" r="4.05"/><circle cx="271.00" cy="172.90" r="4.05"/><circle cx="272.20" cy="173.73" r="4.05"/><circle cx="273.40" cy="176.17" r="4.05"/><circle cx="274.60" cy="177.00" r="4.05"/><circle cx="276.28" cy="178.10" r="4.05"/><circle cx="277.96" cy="177.60" r="4.05"/><circle cx="279.64" cy="178.70" r="4.05"/><circle cx="281.32" cy="178.20" r="4.05"/><circle cx="283.00" cy="179.30" r="4.05"/><circle cx="284.80" cy="178.88" r="4.05"/><circle cx="286.60" cy="180.05" r="4.05"/><circle cx="288.40" cy="179.62" r="4.05"/><circle cx="290.20" cy="180.80" r="4.05"/><circle cx="291.80" cy="180.40" r="4.05"/><circle cx="293.40" cy="181.60" r="4.05"/><circle cx="295.00" cy="181.20" r="4.05"/><circle cx="297.20" cy="183.20" r="4.05"/><circle cx="298.64" cy="181.68" r="4.05"/><circle cx="300.08" cy="181.76" r="4.05"/><circle cx="301.52" cy="180.24" r="4.05"/><circle cx="302.96" cy="180.32" r="4.05"/><circle cx="304.40" cy="178.80" r="4.05"/><circle cx="306.40" cy="180.00" r="4.05"/><circle cx="308.40" cy="179.60" r="4.05"/><circle cx="310.40" cy="180.80" r="4.05"/><circle cx="312.40" cy="180.10" r="4.05"/><circle cx="314.40" cy="181.00" r="4.05"/><circle cx="316.40" cy="180.30" r="4.05"/><circle cx="319.00" cy="179.40" r="4.05"/><circle cx="320.60" cy="176.40" r="4.05"/><circle cx="321.55" cy="175.55" r="4.05"/><circle cx="322.50" cy="173.10" r="4.05"/></g>
<text transform="translate(127.50,222.09) scale(0.975,1)" text-anchor="end" font-size="19.7" fill="#262626">260</text>
<text transform="translate(127.50,201.09) scale(0.975,1)" text-anchor="end" font-size="19.7" fill="#262626">265</text>
<text transform="translate(127.50,178.90) scale(0.975,1)" text-anchor="end" font-size="19.7" fill="#262626">270</text>
</g>
<g>
<path d="M142.90 352.50h1.2v1.8h-1.2zM142.90 346.50h1.2v1.8h-1.2zM142.90 340.50h1.2v1.8h-1.2zM142.90 334.50h1.2v1.8h-1.2zM142.90 322.50h1.2v1.8h-1.2zM142.90 316.50h1.2v1.8h-1.2zM142.90 310.50h1.2v1.8h-1.2zM142.90 304.50h1.2v1.8h-1.2zM148.46 352.50h1.2v1.8h-1.2zM148.46 346.50h1.2v1.8h-1.2zM148.46 340.50h1.2v1.8h-1.2zM148.46 334.50h1.2v1.8h-1.2zM148.46 322.50h1.2v1.8h-1.2zM148.46 316.50h1.2v1.8h-1.2zM148.46 310.50h1.2v1.8h-1.2zM148.46 304.50h1.2v1.8h-1.2zM154.01 352.50h1.2v1.8h-1.2zM154.01 346.50h1.2v1.8h-1.2zM154.01 340.50h1.2v1.8h-1.2zM154.01 334.50h1.2v1.8h-1.2zM154.01 322.50h1.2v1.8h-1.2zM154.01 316.50h1.2v1.8h-1.2zM154.01 310.50h1.2v1.8h-1.2zM154.01 304.50h1.2v1.8h-1.2zM159.57 352.50h1.2v1.8h-1.2zM159.57 346.50h1.2v1.8h-1.2zM159.57 340.50h1.2v1.8h-1.2zM159.57 334.50h1.2v1.8h-1.2zM159.57 322.50h1.2v1.8h-1.2zM159.57 316.50h1.2v1.8h-1.2zM159.57 310.50h1.2v1.8h-1.2zM159.57 304.50h1.2v1.8h-1.2zM165.12 352.50h1.2v1.8h-1.2zM165.12 346.50h1.2v1.8h-1.2zM165.12 340.50h1.2v1.8h-1.2zM165.12 334.50h1.2v1.8h-1.2zM165.12 322.50h1.2v1.8h-1.2zM165.12 316.50h1.2v1.8h-1.2zM165.12 310.50h1.2v1.8h-1.2zM165.12 304.50h1.2v1.8h-1.2zM170.68 352.50h1.2v1.8h-1.2zM170.68 346.50h1.2v1.8h-1.2zM170.68 340.50h1.2v1.8h-1.2zM170.68 334.50h1.2v1.8h-1.2zM170.68 322.50h1.2v1.8h-1.2zM170.68 316.50h1.2v1.8h-1.2zM170.68 310.50h1.2v1.8h-1.2zM170.68 304.50h1.2v1.8h-1.2zM176.23 352.50h1.2v1.8h-1.2zM176.23 346.50h1.2v1.8h-1.2zM176.23 340.50h1.2v1.8h-1.2zM176.23 334.50h1.2v1.8h-1.2zM176.23 322.50h1.2v1.8h-1.2zM176.23 316.50h1.2v1.8h-1.2zM176.23 310.50h1.2v1.8h-1.2zM176.23 304.50h1.2v1.8h-1.2zM181.79 352.50h1.2v1.8h-1.2zM181.79 346.50h1.2v1.8h-1.2zM181.79 340.50h1.2v1.8h-1.2zM181.79 334.50h1.2v1.8h-1.2zM181.79 322.50h1.2v1.8h-1.2zM181.79 316.50h1.2v1.8h-1.2zM181.79 310.50h1.2v1.8h-1.2zM181.79 304.50h1.2v1.8h-1.2zM187.34 352.50h1.2v1.8h-1.2zM187.34 346.50h1.2v1.8h-1.2zM187.34 340.50h1.2v1.8h-1.2zM187.34 334.50h1.2v1.8h-1.2zM187.34 322.50h1.2v1.8h-1.2zM187.34 316.50h1.2v1.8h-1.2zM187.34 310.50h1.2v1.8h-1.2zM187.34 304.50h1.2v1.8h-1.2zM192.90 352.50h1.2v1.8h-1.2zM192.90 346.50h1.2v1.8h-1.2zM192.90 340.50h1.2v1.8h-1.2zM192.90 334.50h1.2v1.8h-1.2zM192.90 322.50h1.2v1.8h-1.2zM192.90 316.50h1.2v1.8h-1.2zM192.90 310.50h1.2v1.8h-1.2zM192.90 304.50h1.2v1.8h-1.2zM198.45 352.50h1.2v1.8h-1.2zM198.45 346.50h1.2v1.8h-1.2zM198.45 340.50h1.2v1.8h-1.2zM198.45 334.50h1.2v1.8h-1.2zM198.45 322.50h1.2v1.8h-1.2zM198.45 316.50h1.2v1.8h-1.2zM198.45 310.50h1.2v1.8h-1.2zM198.45 304.50h1.2v1.8h-1.2zM204.01 352.50h1.2v1.8h-1.2zM204.01 346.50h1.2v1.8h-1.2zM204.01 340.50h1.2v1.8h-1.2zM204.01 334.50h1.2v1.8h-1.2zM204.01 322.50h1.2v1.8h-1.2zM204.01 316.50h1.2v1.8h-1.2zM204.01 310.50h1.2v1.8h-1.2zM204.01 304.50h1.2v1.8h-1.2zM209.56 352.50h1.2v1.8h-1.2zM209.56 346.50h1.2v1.8h-1.2zM209.56 340.50h1.2v1.8h-1.2zM209.56 334.50h1.2v1.8h-1.2zM209.56 322.50h1.2v1.8h-1.2zM209.56 316.50h1.2v1.8h-1.2zM209.56 310.50h1.2v1.8h-1.2zM209.56 304.50h1.2v1.8h-1.2zM215.12 352.50h1.2v1.8h-1.2zM215.12 346.50h1.2v1.8h-1.2zM215.12 340.50h1.2v1.8h-1.2zM215.12 334.50h1.2v1.8h-1.2zM215.12 322.50h1.2v1.8h-1.2zM215.12 316.50h1.2v1.8h-1.2zM215.12 310.50h1.2v1.8h-1.2zM215.12 304.50h1.2v1.8h-1.2zM220.67 352.50h1.2v1.8h-1.2zM220.67 346.50h1.2v1.8h-1.2zM220.67 340.50h1.2v1.8h-1.2zM220.67 334.50h1.2v1.8h-1.2zM220.67 322.50h1.2v1.8h-1.2zM220.67 316.50h1.2v1.8h-1.2zM220.67 310.50h1.2v1.8h-1.2zM220.67 304.50h1.2v1.8h-1.2zM226.23 352.50h1.2v1.8h-1.2zM226.23 346.50h1.2v1.8h-1.2zM226.23 340.50h1.2v1.8h-1.2zM226.23 334.50h1.2v1.8h-1.2zM226.23 322.50h1.2v1.8h-1.2zM226.23 316.50h1.2v1.8h-1.2zM226.23 310.50h1.2v1.8h-1.2zM226.23 304.50h1.2v1.8h-1.2zM231.78 352.50h1.2v1.8h-1.2zM231.78 346.50h1.2v1.8h-1.2zM231.78 340.50h1.2v1.8h-1.2zM231.78 334.50h1.2v1.8h-1.2zM231.78 322.50h1.2v1.8h-1.2zM231.78 316.50h1.2v1.8h-1.2zM231.78 310.50h1.2v1.8h-1.2zM231.78 304.50h1.2v1.8h-1.2zM237.34 352.50h1.2v1.8h-1.2zM237.34 346.50h1.2v1.8h-1.2zM237.34 340.50h1.2v1.8h-1.2zM237.34 334.50h1.2v1.8h-1.2zM237.34 322.50h1.2v1.8h-1.2zM237.34 316.50h1.2v1.8h-1.2zM237.34 310.50h1.2v1.8h-1.2zM237.34 304.50h1.2v1.8h-1.2zM242.89 352.50h1.2v1.8h-1.2zM242.89 346.50h1.2v1.8h-1.2zM242.89 340.50h1.2v1.8h-1.2zM242.89 334.50h1.2v1.8h-1.2zM242.89 322.50h1.2v1.8h-1.2zM242.89 316.50h1.2v1.8h-1.2zM242.89 310.50h1.2v1.8h-1.2zM242.89 304.50h1.2v1.8h-1.2zM248.45 352.50h1.2v1.8h-1.2zM248.45 346.50h1.2v1.8h-1.2zM248.45 340.50h1.2v1.8h-1.2zM248.45 334.50h1.2v1.8h-1.2zM248.45 322.50h1.2v1.8h-1.2zM248.45 316.50h1.2v1.8h-1.2zM248.45 310.50h1.2v1.8h-1.2zM248.45 304.50h1.2v1.8h-1.2zM254.00 352.50h1.2v1.8h-1.2zM254.00 346.50h1.2v1.8h-1.2zM254.00 340.50h1.2v1.8h-1.2zM254.00 334.50h1.2v1.8h-1.2zM254.00 322.50h1.2v1.8h-1.2zM254.00 316.50h1.2v1.8h-1.2zM254.00 310.50h1.2v1.8h-1.2zM254.00 304.50h1.2v1.8h-1.2zM259.56 352.50h1.2v1.8h-1.2zM259.56 346.50h1.2v1.8h-1.2zM259.56 340.50h1.2v1.8h-1.2zM259.56 334.50h1.2v1.8h-1.2zM259.56 322.50h1.2v1.8h-1.2zM259.56 316.50h1.2v1.8h-1.2zM259.56 310.50h1.2v1.8h-1.2zM259.56 304.50h1.2v1.8h-1.2zM265.11 352.50h1.2v1.8h-1.2zM265.11 346.50h1.2v1.8h-1.2zM265.11 340.50h1.2v1.8h-1.2zM265.11 334.50h1.2v1.8h-1.2zM265.11 322.50h1.2v1.8h-1.2zM265.11 316.50h1.2v1.8h-1.2zM265.11 310.50h1.2v1.8h-1.2zM265.11 304.50h1.2v1.8h-1.2zM270.67 352.50h1.2v1.8h-1.2zM270.67 346.50h1.2v1.8h-1.2zM270.67 340.50h1.2v1.8h-1.2zM270.67 334.50h1.2v1.8h-1.2zM270.67 322.50h1.2v1.8h-1.2zM270.67 316.50h1.2v1.8h-1.2zM270.67 310.50h1.2v1.8h-1.2zM270.67 304.50h1.2v1.8h-1.2zM276.22 352.50h1.2v1.8h-1.2zM276.22 346.50h1.2v1.8h-1.2zM276.22 340.50h1.2v1.8h-1.2zM276.22 334.50h1.2v1.8h-1.2zM276.22 322.50h1.2v1.8h-1.2zM276.22 316.50h1.2v1.8h-1.2zM276.22 310.50h1.2v1.8h-1.2zM276.22 304.50h1.2v1.8h-1.2zM281.78 352.50h1.2v1.8h-1.2zM281.78 346.50h1.2v1.8h-1.2zM281.78 340.50h1.2v1.8h-1.2zM281.78 334.50h1.2v1.8h-1.2zM281.78 322.50h1.2v1.8h-1.2zM281.78 316.50h1.2v1.8h-1.2zM281.78 310.50h1.2v1.8h-1.2zM281.78 304.50h1.2v1.8h-1.2zM287.33 352.50h1.2v1.8h-1.2zM287.33 346.50h1.2v1.8h-1.2zM287.33 340.50h1.2v1.8h-1.2zM287.33 334.50h1.2v1.8h-1.2zM287.33 322.50h1.2v1.8h-1.2zM287.33 316.50h1.2v1.8h-1.2zM287.33 310.50h1.2v1.8h-1.2zM287.33 304.50h1.2v1.8h-1.2zM292.89 352.50h1.2v1.8h-1.2zM292.89 346.50h1.2v1.8h-1.2zM292.89 340.50h1.2v1.8h-1.2zM292.89 334.50h1.2v1.8h-1.2zM292.89 322.50h1.2v1.8h-1.2zM292.89 316.50h1.2v1.8h-1.2zM292.89 310.50h1.2v1.8h-1.2zM292.89 304.50h1.2v1.8h-1.2zM298.44 352.50h1.2v1.8h-1.2zM298.44 346.50h1.2v1.8h-1.2zM298.44 340.50h1.2v1.8h-1.2zM298.44 334.50h1.2v1.8h-1.2zM298.44 322.50h1.2v1.8h-1.2zM298.44 316.50h1.2v1.8h-1.2zM298.44 310.50h1.2v1.8h-1.2zM298.44 304.50h1.2v1.8h-1.2zM304.00 352.50h1.2v1.8h-1.2zM304.00 346.50h1.2v1.8h-1.2zM304.00 340.50h1.2v1.8h-1.2zM304.00 334.50h1.2v1.8h-1.2zM304.00 322.50h1.2v1.8h-1.2zM304.00 316.50h1.2v1.8h-1.2zM304.00 310.50h1.2v1.8h-1.2zM304.00 304.50h1.2v1.8h-1.2zM309.55 352.50h1.2v1.8h-1.2zM309.55 346.50h1.2v1.8h-1.2zM309.55 340.50h1.2v1.8h-1.2zM309.55 334.50h1.2v1.8h-1.2zM309.55 322.50h1.2v1.8h-1.2zM309.55 316.50h1.2v1.8h-1.2zM309.55 310.50h1.2v1.8h-1.2zM309.55 304.50h1.2v1.8h-1.2zM315.11 352.50h1.2v1.8h-1.2zM315.11 346.50h1.2v1.8h-1.2zM315.11 340.50h1.2v1.8h-1.2zM315.11 334.50h1.2v1.8h-1.2zM315.11 322.50h1.2v1.8h-1.2zM315.11 316.50h1.2v1.8h-1.2zM315.11 310.50h1.2v1.8h-1.2zM315.11 304.50h1.2v1.8h-1.2zM320.66 352.50h1.2v1.8h-1.2zM320.66 346.50h1.2v1.8h-1.2zM320.66 340.50h1.2v1.8h-1.2zM320.66 334.50h1.2v1.8h-1.2zM320.66 322.50h1.2v1.8h-1.2zM320.66 316.50h1.2v1.8h-1.2zM320.66 310.50h1.2v1.8h-1.2zM320.66 304.50h1.2v1.8h-1.2zM326.22 352.50h1.2v1.8h-1.2zM326.22 346.50h1.2v1.8h-1.2zM326.22 340.50h1.2v1.8h-1.2zM326.22 334.50h1.2v1.8h-1.2zM326.22 322.50h1.2v1.8h-1.2zM326.22 316.50h1.2v1.8h-1.2zM326.22 310.50h1.2v1.8h-1.2zM326.22 304.50h1.2v1.8h-1.2zM331.77 352.50h1.2v1.8h-1.2zM331.77 346.50h1.2v1.8h-1.2zM331.77 340.50h1.2v1.8h-1.2zM331.77 334.50h1.2v1.8h-1.2zM331.77 322.50h1.2v1.8h-1.2zM331.77 316.50h1.2v1.8h-1.2zM331.77 310.50h1.2v1.8h-1.2zM331.77 304.50h1.2v1.8h-1.2zM337.33 352.50h1.2v1.8h-1.2zM337.33 346.50h1.2v1.8h-1.2zM337.33 340.50h1.2v1.8h-1.2zM337.33 334.50h1.2v1.8h-1.2zM337.33 322.50h1.2v1.8h-1.2zM337.33 316.50h1.2v1.8h-1.2zM337.33 310.50h1.2v1.8h-1.2zM337.33 304.50h1.2v1.8h-1.2zM342.88 352.50h1.2v1.8h-1.2zM342.88 346.50h1.2v1.8h-1.2zM342.88 340.50h1.2v1.8h-1.2zM342.88 334.50h1.2v1.8h-1.2zM342.88 322.50h1.2v1.8h-1.2zM342.88 316.50h1.2v1.8h-1.2zM342.88 310.50h1.2v1.8h-1.2zM342.88 304.50h1.2v1.8h-1.2zM348.44 352.50h1.2v1.8h-1.2zM348.44 346.50h1.2v1.8h-1.2zM348.44 340.50h1.2v1.8h-1.2zM348.44 334.50h1.2v1.8h-1.2zM348.44 322.50h1.2v1.8h-1.2zM348.44 316.50h1.2v1.8h-1.2zM348.44 310.50h1.2v1.8h-1.2zM348.44 304.50h1.2v1.8h-1.2zM353.99 352.50h1.2v1.8h-1.2zM353.99 346.50h1.2v1.8h-1.2zM353.99 340.50h1.2v1.8h-1.2zM353.99 334.50h1.2v1.8h-1.2zM353.99 322.50h1.2v1.8h-1.2zM353.99 316.50h1.2v1.8h-1.2zM353.99 310.50h1.2v1.8h-1.2zM353.99 304.50h1.2v1.8h-1.2z" fill="#262626" fill-opacity="0.3"/>
<path d="M180.28 299.40V359.40M224.06 299.40V359.40M267.84 299.40V359.40M311.62 299.40V359.40M136.50 329.40H355.40" stroke="#e0e0e0" stroke-width="1.5" fill="none"/>
<rect x="136.5" y="299.4" width="218.90" height="60.00" fill="none" stroke="#262626" stroke-width="2.0"/>
<path d="M180.28 299.40v2.3M180.28 359.40v-2.3M224.06 299.40v2.3M224.06 359.40v-2.3M267.84 299.40v2.3M267.84 359.40v-2.3M311.62 299.40v2.3M311.62 359.40v-2.3M136.50 359.40h2.3M355.40 359.40h-2.3M136.50 329.40h2.3M355.40 329.40h-2.3M136.50 299.40h2.3M355.40 299.40h-2.3" stroke="#262626" stroke-width="1.6" fill="none"/>
<path d="M150.17 319.26L150.40 319.20L154.00 316.50L157.00 312.50L160.00 309.20L163.60 307.80L167.20 308.30L170.80 309.50L173.50 310.30L176.80 313.80L180.17 316.05" fill="none" stroke="#0072BD" stroke-width="3.8" stroke-linecap="round" stroke-linejoin="round"/>
<path d="M193.00 351.50L230.00 351.00" fill="none" stroke="#0072BD" stroke-width="4.0" stroke-linecap="round" stroke-linejoin="round"/>
<path d="M237.98 348.31L243.00 346.80L250.10 345.70L257.20 351.40L261.50 356.30L266.00 355.00L270.00 353.50L274.00 355.00L278.40 355.70L285.50 349.20L292.60 342.80L299.60 345.00L306.70 348.90L312.40 344.30L318.00 340.70L320.27 341.22" fill="none" stroke="#0072BD" stroke-width="3.8" stroke-linecap="round" stroke-linejoin="round"/>
<g fill="none" stroke="#0072BD" stroke-width="2.0"><circle cx="146.80" cy="320.60" r="4.05"/><circle cx="148.60" cy="319.30" r="4.05"/><circle cx="150.40" cy="319.60" r="4.05"/><circle cx="152.20" cy="317.45" r="4.05"/><circle cx="154.00" cy="316.90" r="4.05"/><circle cx="155.00" cy="314.77" r="4.05"/><circle cx="156.00" cy="314.23" r="4.05"/><circle cx="157.00" cy="312.10" r="4.05"/><circle cx="158.50" cy="311.25" r="4.05"/><circle cx="160.00" cy="308.80" r="4.05"/><circle cx="161.80" cy="308.90" r="4.05"/><circle cx="163.60" cy="307.40" r="4.05"/><circle cx="165.40" cy="308.45" r="4.05"/><circle cx="167.20" cy="307.90" r="4.05"/><circle cx="169.00" cy="309.30" r="4.05"/><circle cx="170.80" cy="309.10" r="4.05"/><circle cx="173.50" cy="310.70" r="4.05"/><circle cx="174.60" cy="311.07" r="4.05"/><circle cx="175.70" cy="313.03" r="4.05"/><circle cx="176.80" cy="313.40" r="4.05"/><circle cx="178.60" cy="315.40" r="4.05"/><circle cx="180.40" cy="315.80" r="4.05"/><circle cx="182.00" cy="316.80" r="4.05"/><circle cx="183.60" cy="316.20" r="4.05"/><circle cx="185.40" cy="326.40" r="4.05"/><circle cx="187.20" cy="336.00" r="4.05"/><circle cx="188.90" cy="355.00" r="4.05"/><circle cx="190.73" cy="349.00" r="4.05"/><circle cx="192.56" cy="357.50" r="4.05"/><circle cx="194.39" cy="351.00" r="4.05"/><circle cx="196.22" cy="348.50" r="4.05"/><circle cx="198.05" cy="353.50" r="4.05"/><circle cx="199.88" cy="347.50" r="4.05"/><circle cx="201.71" cy="350.50" r="4.05"/><circle cx="203.54" cy="354.50" r="4.05"/><circle cx="205.37" cy="348.00" r="4.05"/><circle cx="207.20" cy="352.00" r="4.05"/><circle cx="209.03" cy="355.50" r="4.05"/><circle cx="210.86" cy="349.50" r="4.05"/><circle cx="212.69" cy="347.80" r="4.05"/><circle cx="214.52" cy="351.50" r="4.05"/><circle cx="216.35" cy="355.00" r="4.05"/><circle cx="218.18" cy="348.50" r="4.05"/><circle cx="220.01" cy="350.50" r="4.05"/><circle cx="221.84" cy="354.00" r="4.05"/><circle cx="223.67" cy="349.00" r="4.05"/><circle cx="225.50" cy="352.50" r="4.05"/><circle cx="227.33" cy="356.00" r="4.05"/><circle cx="229.16" cy="350.00" r="4.05"/><circle cx="230.99" cy="348.00" r="4.05"/><circle cx="232.82" cy="349.00" r="4.05"/><circle cx="234.65" cy="348.60" r="4.05"/><circle cx="234.60" cy="349.00" r="4.05"/><circle cx="236.00" cy="348.50" r="4.05"/><circle cx="237.75" cy="348.77" r="4.05"/><circle cx="239.50" cy="347.45" r="4.05"/><circle cx="241.25" cy="347.72" r="4.05"/><circle cx="243.00" cy="346.40" r="4.05"/><circle cx="244.78" cy="346.92" r="4.05"/><circle cx="246.55" cy="345.85" r="4.05"/><circle cx="248.32" cy="346.38" r="4.05"/><circle cx="250.10" cy="345.30" r="4.05"/><circle cx="251.52" cy="347.24" r="4.05"/><circle cx="252.94" cy="347.58" r="4.05"/><circle cx="254.36" cy="349.52" r="4.05"/><circle cx="255.78" cy="349.86" r="4.05"/><circle cx="257.20" cy="351.80" r="4.05"/><circle cx="258.27" cy="352.23" r="4.05"/><circle cx="259.35" cy="354.25" r="4.05"/><circle cx="260.43" cy="354.68" r="4.05"/><circle cx="261.50" cy="356.70" r="4.05"/><circle cx="263.75" cy="355.25" r="4.05"/><circle cx="266.00" cy="355.40" r="4.05"/><circle cx="268.00" cy="353.85" r="4.05"/><circle cx="270.00" cy="353.90" r="4.05"/><circle cx="272.00" cy="353.85" r="4.05"/><circle cx="274.00" cy="355.40" r="4.05"/><circle cx="276.20" cy="354.95" r="4.05"/><circle cx="278.40" cy="356.10" r="4.05"/><circle cx="279.58" cy="354.22" r="4.05"/><circle cx="280.77" cy="353.93" r="4.05"/><circle cx="281.95" cy="352.05" r="4.05"/><circle cx="283.13" cy="351.77" r="4.05"/><circle cx="284.32" cy="349.88" r="4.05"/><circle cx="285.50" cy="349.60" r="4.05"/><circle cx="286.92" cy="347.52" r="4.05"/><circle cx="288.34" cy="347.04" r="4.05"/><circle cx="289.76" cy="344.96" r="4.05"/><circle cx="291.18" cy="344.48" r="4.05"/><circle cx="292.60" cy="342.40" r="4.05"/><circle cx="294.35" cy="343.75" r="4.05"/><circle cx="296.10" cy="343.50" r="4.05"/><circle cx="297.85" cy="344.85" r="4.05"/><circle cx="299.60" cy="344.60" r="4.05"/><circle cx="301.02" cy="346.18" r="4.05"/><circle cx="302.44" cy="346.16" r="4.05"/><circle cx="303.86" cy="347.74" r="4.05"/><circle cx="305.28" cy="347.72" r="4.05"/><circle cx="306.70" cy="349.30" r="4.05"/><circle cx="308.12" cy="347.35" r="4.05"/><circle cx="309.55" cy="347.00" r="4.05"/><circle cx="310.97" cy="345.05" r="4.05"/><circle cx="312.40" cy="344.70" r="4.05"/><circle cx="313.80" cy="343.00" r="4.05"/><circle cx="315.20" cy="342.90" r="4.05"/><circle cx="316.60" cy="341.20" r="4.05"/><circle cx="318.00" cy="341.10" r="4.05"/><circle cx="319.75" cy="340.70" r="4.05"/><circle cx="321.50" cy="341.90" r="4.05"/><circle cx="323.50" cy="342.10" r="4.05"/></g>
<text transform="translate(127.50,365.89) scale(0.975,1)" text-anchor="end" font-size="19.7" fill="#262626">0</text>
<text transform="translate(127.50,337.09) scale(0.975,1)" text-anchor="end" font-size="19.7" fill="#262626">1000</text>
<text transform="translate(127.50,307.00) scale(0.975,1)" text-anchor="end" font-size="19.7" fill="#262626">2000</text>
</g>
<g>
<path d="M142.90 480.41h1.2v1.8h-1.2zM142.90 474.42h1.2v1.8h-1.2zM142.90 468.43h1.2v1.8h-1.2zM142.90 462.44h1.2v1.8h-1.2zM142.90 450.46h1.2v1.8h-1.2zM142.90 444.47h1.2v1.8h-1.2zM142.90 438.48h1.2v1.8h-1.2zM142.90 432.49h1.2v1.8h-1.2zM148.46 480.41h1.2v1.8h-1.2zM148.46 474.42h1.2v1.8h-1.2zM148.46 468.43h1.2v1.8h-1.2zM148.46 462.44h1.2v1.8h-1.2zM148.46 450.46h1.2v1.8h-1.2zM148.46 444.47h1.2v1.8h-1.2zM148.46 438.48h1.2v1.8h-1.2zM148.46 432.49h1.2v1.8h-1.2zM154.01 480.41h1.2v1.8h-1.2zM154.01 474.42h1.2v1.8h-1.2zM154.01 468.43h1.2v1.8h-1.2zM154.01 462.44h1.2v1.8h-1.2zM154.01 450.46h1.2v1.8h-1.2zM154.01 444.47h1.2v1.8h-1.2zM154.01 438.48h1.2v1.8h-1.2zM154.01 432.49h1.2v1.8h-1.2zM159.57 480.41h1.2v1.8h-1.2zM159.57 474.42h1.2v1.8h-1.2zM159.57 468.43h1.2v1.8h-1.2zM159.57 462.44h1.2v1.8h-1.2zM159.57 450.46h1.2v1.8h-1.2zM159.57 444.47h1.2v1.8h-1.2zM159.57 438.48h1.2v1.8h-1.2zM159.57 432.49h1.2v1.8h-1.2zM165.12 480.41h1.2v1.8h-1.2zM165.12 474.42h1.2v1.8h-1.2zM165.12 468.43h1.2v1.8h-1.2zM165.12 462.44h1.2v1.8h-1.2zM165.12 450.46h1.2v1.8h-1.2zM165.12 444.47h1.2v1.8h-1.2zM165.12 438.48h1.2v1.8h-1.2zM165.12 432.49h1.2v1.8h-1.2zM170.68 480.41h1.2v1.8h-1.2zM170.68 474.42h1.2v1.8h-1.2zM170.68 468.43h1.2v1.8h-1.2zM170.68 462.44h1.2v1.8h-1.2zM170.68 450.46h1.2v1.8h-1.2zM170.68 444.47h1.2v1.8h-1.2zM170.68 438.48h1.2v1.8h-1.2zM170.68 432.49h1.2v1.8h-1.2zM176.23 480.41h1.2v1.8h-1.2zM176.23 474.42h1.2v1.8h-1.2zM176.23 468.43h1.2v1.8h-1.2zM176.23 462.44h1.2v1.8h-1.2zM176.23 450.46h1.2v1.8h-1.2zM176.23 444.47h1.2v1.8h-1.2zM176.23 438.48h1.2v1.8h-1.2zM176.23 432.49h1.2v1.8h-1.2zM181.79 480.41h1.2v1.8h-1.2zM181.79 474.42h1.2v1.8h-1.2zM181.79 468.43h1.2v1.8h-1.2zM181.79 462.44h1.2v1.8h-1.2zM181.79 450.46h1.2v1.8h-1.2zM181.79 444.47h1.2v1.8h-1.2zM181.79 438.48h1.2v1.8h-1.2zM181.79 432.49h1.2v1.8h-1.2zM187.34 480.41h1.2v1.8h-1.2zM187.34 474.42h1.2v1.8h-1.2zM187.34 468.43h1.2v1.8h-1.2zM187.34 462.44h1.2v1.8h-1.2zM187.34 450.46h1.2v1.8h-1.2zM187.34 444.47h1.2v1.8h-1.2zM187.34 438.48h1.2v1.8h-1.2zM187.34 432.49h1.2v1.8h-1.2zM192.90 480.41h1.2v1.8h-1.2zM192.90 474.42h1.2v1.8h-1.2zM192.90 468.43h1.2v1.8h-1.2zM192.90 462.44h1.2v1.8h-1.2zM192.90 450.46h1.2v1.8h-1.2zM192.90 444.47h1.2v1.8h-1.2zM192.90 438.48h1.2v1.8h-1.2zM192.90 432.49h1.2v1.8h-1.2zM198.45 480.41h1.2v1.8h-1.2zM198.45 474.42h1.2v1.8h-1.2zM198.45 468.43h1.2v1.8h-1.2zM198.45 462.44h1.2v1.8h-1.2zM198.45 450.46h1.2v1.8h-1.2zM198.45 444.47h1.2v1.8h-1.2zM198.45 438.48h1.2v1.8h-1.2zM198.45 432.49h1.2v1.8h-1.2zM204.01 480.41h1.2v1.8h-1.2zM204.01 474.42h1.2v1.8h-1.2zM204.01 468.43h1.2v1.8h-1.2zM204.01 462.44h1.2v1.8h-1.2zM204.01 450.46h1.2v1.8h-1.2zM204.01 444.47h1.2v1.8h-1.2zM204.01 438.48h1.2v1.8h-1.2zM204.01 432.49h1.2v1.8h-1.2zM209.56 480.41h1.2v1.8h-1.2zM209.56 474.42h1.2v1.8h-1.2zM209.56 468.43h1.2v1.8h-1.2zM209.56 462.44h1.2v1.8h-1.2zM209.56 450.46h1.2v1.8h-1.2zM209.56 444.47h1.2v1.8h-1.2zM209.56 438.48h1.2v1.8h-1.2zM209.56 432.49h1.2v1.8h-1.2zM215.12 480.41h1.2v1.8h-1.2zM215.12 474.42h1.2v1.8h-1.2zM215.12 468.43h1.2v1.8h-1.2zM215.12 462.44h1.2v1.8h-1.2zM215.12 450.46h1.2v1.8h-1.2zM215.12 444.47h1.2v1.8h-1.2zM215.12 438.48h1.2v1.8h-1.2zM215.12 432.49h1.2v1.8h-1.2zM220.67 480.41h1.2v1.8h-1.2zM220.67 474.42h1.2v1.8h-1.2zM220.67 468.43h1.2v1.8h-1.2zM220.67 462.44h1.2v1.8h-1.2zM220.67 450.46h1.2v1.8h-1.2zM220.67 444.47h1.2v1.8h-1.2zM220.67 438.48h1.2v1.8h-1.2zM220.67 432.49h1.2v1.8h-1.2zM226.23 480.41h1.2v1.8h-1.2zM226.23 474.42h1.2v1.8h-1.2zM226.23 468.43h1.2v1.8h-1.2zM226.23 462.44h1.2v1.8h-1.2zM226.23 450.46h1.2v1.8h-1.2zM226.23 444.47h1.2v1.8h-1.2zM226.23 438.48h1.2v1.8h-1.2zM226.23 432.49h1.2v1.8h-1.2zM231.78 480.41h1.2v1.8h-1.2zM231.78 474.42h1.2v1.8h-1.2zM231.78 468.43h1.2v1.8h-1.2zM231.78 462.44h1.2v1.8h-1.2zM231.78 450.46h1.2v1.8h-1.2zM231.78 444.47h1.2v1.8h-1.2zM231.78 438.48h1.2v1.8h-1.2zM231.78 432.49h1.2v1.8h-1.2zM237.34 480.41h1.2v1.8h-1.2zM237.34 474.42h1.2v1.8h-1.2zM237.34 468.43h1.2v1.8h-1.2zM237.34 462.44h1.2v1.8h-1.2zM237.34 450.46h1.2v1.8h-1.2zM237.34 444.47h1.2v1.8h-1.2zM237.34 438.48h1.2v1.8h-1.2zM237.34 432.49h1.2v1.8h-1.2zM242.89 480.41h1.2v1.8h-1.2zM242.89 474.42h1.2v1.8h-1.2zM242.89 468.43h1.2v1.8h-1.2zM242.89 462.44h1.2v1.8h-1.2zM242.89 450.46h1.2v1.8h-1.2zM242.89 444.47h1.2v1.8h-1.2zM242.89 438.48h1.2v1.8h-1.2zM242.89 432.49h1.2v1.8h-1.2zM248.45 480.41h1.2v1.8h-1.2zM248.45 474.42h1.2v1.8h-1.2zM248.45 468.43h1.2v1.8h-1.2zM248.45 462.44h1.2v1.8h-1.2zM248.45 450.46h1.2v1.8h-1.2zM248.45 444.47h1.2v1.8h-1.2zM248.45 438.48h1.2v1.8h-1.2zM248.45 432.49h1.2v1.8h-1.2zM254.00 480.41h1.2v1.8h-1.2zM254.00 474.42h1.2v1.8h-1.2zM254.00 468.43h1.2v1.8h-1.2zM254.00 462.44h1.2v1.8h-1.2zM254.00 450.46h1.2v1.8h-1.2zM254.00 444.47h1.2v1.8h-1.2zM254.00 438.48h1.2v1.8h-1.2zM254.00 432.49h1.2v1.8h-1.2zM259.56 480.41h1.2v1.8h-1.2zM259.56 474.42h1.2v1.8h-1.2zM259.56 468.43h1.2v1.8h-1.2zM259.56 462.44h1.2v1.8h-1.2zM259.56 450.46h1.2v1.8h-1.2zM259.56 444.47h1.2v1.8h-1.2zM259.56 438.48h1.2v1.8h-1.2zM259.56 432.49h1.2v1.8h-1.2zM265.11 480.41h1.2v1.8h-1.2zM265.11 474.42h1.2v1.8h-1.2zM265.11 468.43h1.2v1.8h-1.2zM265.11 462.44h1.2v1.8h-1.2zM265.11 450.46h1.2v1.8h-1.2zM265.11 444.47h1.2v1.8h-1.2zM265.11 438.48h1.2v1.8h-1.2zM265.11 432.49h1.2v1.8h-1.2zM270.67 480.41h1.2v1.8h-1.2zM270.67 474.42h1.2v1.8h-1.2zM270.67 468.43h1.2v1.8h-1.2zM270.67 462.44h1.2v1.8h-1.2zM270.67 450.46h1.2v1.8h-1.2zM270.67 444.47h1.2v1.8h-1.2zM270.67 438.48h1.2v1.8h-1.2zM270.67 432.49h1.2v1.8h-1.2zM276.22 480.41h1.2v1.8h-1.2zM276.22 474.42h1.2v1.8h-1.2zM276.22 468.43h1.2v1.8h-1.2zM276.22 462.44h1.2v1.8h-1.2zM276.22 450.46h1.2v1.8h-1.2zM276.22 444.47h1.2v1.8h-1.2zM276.22 438.48h1.2v1.8h-1.2zM276.22 432.49h1.2v1.8h-1.2zM281.78 480.41h1.2v1.8h-1.2zM281.78 474.42h1.2v1.8h-1.2zM281.78 468.43h1.2v1.8h-1.2zM281.78 462.44h1.2v1.8h-1.2zM281.78 450.46h1.2v1.8h-1.2zM281.78 444.47h1.2v1.8h-1.2zM281.78 438.48h1.2v1.8h-1.2zM281.78 432.49h1.2v1.8h-1.2zM287.33 480.41h1.2v1.8h-1.2zM287.33 474.42h1.2v1.8h-1.2zM287.33 468.43h1.2v1.8h-1.2zM287.33 462.44h1.2v1.8h-1.2zM287.33 450.46h1.2v1.8h-1.2zM287.33 444.47h1.2v1.8h-1.2zM287.33 438.48h1.2v1.8h-1.2zM287.33 432.49h1.2v1.8h-1.2zM292.89 480.41h1.2v1.8h-1.2zM292.89 474.42h1.2v1.8h-1.2zM292.89 468.43h1.2v1.8h-1.2zM292.89 462.44h1.2v1.8h-1.2zM292.89 450.46h1.2v1.8h-1.2zM292.89 444.47h1.2v1.8h-1.2zM292.89 438.48h1.2v1.8h-1.2zM292.89 432.49h1.2v1.8h-1.2zM298.44 480.41h1.2v1.8h-1.2zM298.44 474.42h1.2v1.8h-1.2zM298.44 468.43h1.2v1.8h-1.2zM298.44 462.44h1.2v1.8h-1.2zM298.44 450.46h1.2v1.8h-1.2zM298.44 444.47h1.2v1.8h-1.2zM298.44 438.48h1.2v1.8h-1.2zM298.44 432.49h1.2v1.8h-1.2zM304.00 480.41h1.2v1.8h-1.2zM304.00 474.42h1.2v1.8h-1.2zM304.00 468.43h1.2v1.8h-1.2zM304.00 462.44h1.2v1.8h-1.2zM304.00 450.46h1.2v1.8h-1.2zM304.00 444.47h1.2v1.8h-1.2zM304.00 438.48h1.2v1.8h-1.2zM304.00 432.49h1.2v1.8h-1.2zM309.55 480.41h1.2v1.8h-1.2zM309.55 474.42h1.2v1.8h-1.2zM309.55 468.43h1.2v1.8h-1.2zM309.55 462.44h1.2v1.8h-1.2zM309.55 450.46h1.2v1.8h-1.2zM309.55 444.47h1.2v1.8h-1.2zM309.55 438.48h1.2v1.8h-1.2zM309.55 432.49h1.2v1.8h-1.2zM315.11 480.41h1.2v1.8h-1.2zM315.11 474.42h1.2v1.8h-1.2zM315.11 468.43h1.2v1.8h-1.2zM315.11 462.44h1.2v1.8h-1.2zM315.11 450.46h1.2v1.8h-1.2zM315.11 444.47h1.2v1.8h-1.2zM315.11 438.48h1.2v1.8h-1.2zM315.11 432.49h1.2v1.8h-1.2zM320.66 480.41h1.2v1.8h-1.2zM320.66 474.42h1.2v1.8h-1.2zM320.66 468.43h1.2v1.8h-1.2zM320.66 462.44h1.2v1.8h-1.2zM320.66 450.46h1.2v1.8h-1.2zM320.66 444.47h1.2v1.8h-1.2zM320.66 438.48h1.2v1.8h-1.2zM320.66 432.49h1.2v1.8h-1.2zM326.22 480.41h1.2v1.8h-1.2zM326.22 474.42h1.2v1.8h-1.2zM326.22 468.43h1.2v1.8h-1.2zM326.22 462.44h1.2v1.8h-1.2zM326.22 450.46h1.2v1.8h-1.2zM326.22 444.47h1.2v1.8h-1.2zM326.22 438.48h1.2v1.8h-1.2zM326.22 432.49h1.2v1.8h-1.2zM331.77 480.41h1.2v1.8h-1.2zM331.77 474.42h1.2v1.8h-1.2zM331.77 468.43h1.2v1.8h-1.2zM331.77 462.44h1.2v1.8h-1.2zM331.77 450.46h1.2v1.8h-1.2zM331.77 444.47h1.2v1.8h-1.2zM331.77 438.48h1.2v1.8h-1.2zM331.77 432.49h1.2v1.8h-1.2zM337.33 480.41h1.2v1.8h-1.2zM337.33 474.42h1.2v1.8h-1.2zM337.33 468.43h1.2v1.8h-1.2zM337.33 462.44h1.2v1.8h-1.2zM337.33 450.46h1.2v1.8h-1.2zM337.33 444.47h1.2v1.8h-1.2zM337.33 438.48h1.2v1.8h-1.2zM337.33 432.49h1.2v1.8h-1.2zM342.88 480.41h1.2v1.8h-1.2zM342.88 474.42h1.2v1.8h-1.2zM342.88 468.43h1.2v1.8h-1.2zM342.88 462.44h1.2v1.8h-1.2zM342.88 450.46h1.2v1.8h-1.2zM342.88 444.47h1.2v1.8h-1.2zM342.88 438.48h1.2v1.8h-1.2zM342.88 432.49h1.2v1.8h-1.2zM348.44 480.41h1.2v1.8h-1.2zM348.44 474.42h1.2v1.8h-1.2zM348.44 468.43h1.2v1.8h-1.2zM348.44 462.44h1.2v1.8h-1.2zM348.44 450.46h1.2v1.8h-1.2zM348.44 444.47h1.2v1.8h-1.2zM348.44 438.48h1.2v1.8h-1.2zM348.44 432.49h1.2v1.8h-1.2zM353.99 480.41h1.2v1.8h-1.2zM353.99 474.42h1.2v1.8h-1.2zM353.99 468.43h1.2v1.8h-1.2zM353.99 462.44h1.2v1.8h-1.2zM353.99 450.46h1.2v1.8h-1.2zM353.99 444.47h1.2v1.8h-1.2zM353.99 438.48h1.2v1.8h-1.2zM353.99 432.49h1.2v1.8h-1.2z" fill="#262626" fill-opacity="0.3"/>
<path d="M180.28 427.40V487.30M224.06 427.40V487.30M267.84 427.40V487.30M311.62 427.40V487.30M136.50 457.35H355.40" stroke="#e0e0e0" stroke-width="1.5" fill="none"/>
<rect x="136.5" y="427.4" width="218.90" height="59.90" fill="none" stroke="#262626" stroke-width="2.0"/>
<path d="M180.28 427.40v2.3M180.28 487.30v-2.3M224.06 427.40v2.3M224.06 487.30v-2.3M267.84 427.40v2.3M267.84 487.30v-2.3M311.62 427.40v2.3M311.62 487.30v-2.3M136.50 487.30h2.3M355.40 487.30h-2.3M136.50 457.35h2.3M355.40 457.35h-2.3M136.50 427.40h2.3M355.40 427.40h-2.3" stroke="#262626" stroke-width="1.6" fill="none"/>
<path d="M150.00 487.10L182.50 487.10" fill="none" stroke="#0072BD" stroke-width="3.0" stroke-linecap="round" stroke-linejoin="round"/>
<path d="M203.77 474.16L204.70 473.90L208.40 472.60L210.50 472.00L213.30 473.90L217.00 477.50L220.80 480.20L224.50 483.50L227.90 485.20L231.50 486.30L235.00 485.90L238.50 484.00L242.00 481.70L247.30 477.00L253.50 475.00L262.20 476.00L272.00 477.50L284.40 476.60L290.00 478.80L294.30 478.10L299.90 477.20L308.50 479.10L317.20 481.00L321.50 482.50L321.60 482.66" fill="none" stroke="#0072BD" stroke-width="3.6" stroke-linecap="round" stroke-linejoin="round"/>
<g fill="none" stroke="#0072BD" stroke-width="2.0"><circle cx="146.50" cy="487.10" r="4.05"/><circle cx="148.15" cy="487.10" r="4.05"/><circle cx="149.79" cy="487.10" r="4.05"/><circle cx="151.44" cy="487.10" r="4.05"/><circle cx="153.08" cy="487.10" r="4.05"/><circle cx="154.73" cy="487.10" r="4.05"/><circle cx="156.38" cy="487.10" r="4.05"/><circle cx="158.02" cy="487.10" r="4.05"/><circle cx="159.67" cy="487.10" r="4.05"/><circle cx="161.31" cy="487.10" r="4.05"/><circle cx="162.96" cy="487.10" r="4.05"/><circle cx="164.60" cy="487.10" r="4.05"/><circle cx="166.25" cy="487.10" r="4.05"/><circle cx="167.90" cy="487.10" r="4.05"/><circle cx="169.54" cy="487.10" r="4.05"/><circle cx="171.19" cy="487.10" r="4.05"/><circle cx="172.83" cy="487.10" r="4.05"/><circle cx="174.48" cy="487.10" r="4.05"/><circle cx="176.12" cy="487.10" r="4.05"/><circle cx="177.77" cy="487.10" r="4.05"/><circle cx="179.42" cy="487.10" r="4.05"/><circle cx="181.06" cy="487.10" r="4.05"/><circle cx="182.71" cy="487.10" r="4.05"/><circle cx="184.35" cy="487.10" r="4.05"/><circle cx="186.00" cy="487.10" r="4.05"/><circle cx="187.40" cy="479.40" r="4.05"/><circle cx="188.60" cy="448.50" r="4.05"/><circle cx="191.10" cy="426.90" r="4.05"/><circle cx="192.30" cy="455.30" r="4.05"/><circle cx="194.20" cy="459.00" r="4.05"/><circle cx="195.40" cy="462.10" r="4.05"/><circle cx="197.30" cy="470.10" r="4.05"/><circle cx="199.10" cy="473.90" r="4.05"/><circle cx="212.70" cy="468.30" r="4.05"/><circle cx="200.40" cy="475.40" r="4.05"/><circle cx="202.55" cy="474.20" r="4.05"/><circle cx="204.70" cy="474.20" r="4.05"/><circle cx="206.55" cy="472.95" r="4.05"/><circle cx="208.40" cy="472.90" r="4.05"/><circle cx="210.50" cy="471.70" r="4.05"/><circle cx="211.90" cy="473.25" r="4.05"/><circle cx="213.30" cy="473.60" r="4.05"/><circle cx="214.53" cy="475.40" r="4.05"/><circle cx="215.77" cy="476.00" r="4.05"/><circle cx="217.00" cy="477.80" r="4.05"/><circle cx="218.90" cy="478.55" r="4.05"/><circle cx="220.80" cy="480.50" r="4.05"/><circle cx="222.03" cy="481.00" r="4.05"/><circle cx="223.27" cy="482.70" r="4.05"/><circle cx="224.50" cy="483.20" r="4.05"/><circle cx="226.20" cy="484.65" r="4.05"/><circle cx="227.90" cy="484.90" r="4.05"/><circle cx="229.70" cy="486.05" r="4.05"/><circle cx="231.50" cy="486.00" r="4.05"/><circle cx="233.25" cy="486.40" r="4.05"/><circle cx="235.00" cy="485.60" r="4.05"/><circle cx="236.75" cy="485.25" r="4.05"/><circle cx="238.50" cy="483.70" r="4.05"/><circle cx="240.25" cy="483.15" r="4.05"/><circle cx="242.00" cy="481.40" r="4.05"/><circle cx="243.32" cy="480.82" r="4.05"/><circle cx="244.65" cy="479.05" r="4.05"/><circle cx="245.98" cy="478.48" r="4.05"/><circle cx="247.30" cy="476.70" r="4.05"/><circle cx="248.85" cy="476.80" r="4.05"/><circle cx="250.40" cy="475.70" r="4.05"/><circle cx="251.95" cy="475.80" r="4.05"/><circle cx="253.50" cy="474.70" r="4.05"/><circle cx="255.24" cy="475.50" r="4.05"/><circle cx="256.98" cy="475.10" r="4.05"/><circle cx="258.72" cy="475.90" r="4.05"/><circle cx="260.46" cy="475.50" r="4.05"/><circle cx="262.20" cy="476.30" r="4.05"/><circle cx="263.83" cy="475.95" r="4.05"/><circle cx="265.47" cy="476.80" r="4.05"/><circle cx="267.10" cy="476.45" r="4.05"/><circle cx="268.73" cy="477.30" r="4.05"/><circle cx="270.37" cy="476.95" r="4.05"/><circle cx="272.00" cy="477.80" r="4.05"/><circle cx="273.77" cy="477.07" r="4.05"/><circle cx="275.54" cy="477.54" r="4.05"/><circle cx="277.31" cy="476.81" r="4.05"/><circle cx="279.09" cy="477.29" r="4.05"/><circle cx="280.86" cy="476.56" r="4.05"/><circle cx="282.63" cy="477.03" r="4.05"/><circle cx="284.40" cy="476.30" r="4.05"/><circle cx="286.27" cy="477.63" r="4.05"/><circle cx="288.13" cy="477.77" r="4.05"/><circle cx="290.00" cy="479.10" r="4.05"/><circle cx="292.15" cy="478.15" r="4.05"/><circle cx="294.30" cy="478.40" r="4.05"/><circle cx="296.17" cy="477.50" r="4.05"/><circle cx="298.03" cy="477.80" r="4.05"/><circle cx="299.90" cy="476.90" r="4.05"/><circle cx="301.62" cy="477.88" r="4.05"/><circle cx="303.34" cy="477.66" r="4.05"/><circle cx="305.06" cy="478.64" r="4.05"/><circle cx="306.78" cy="478.42" r="4.05"/><circle cx="308.50" cy="479.40" r="4.05"/><circle cx="310.24" cy="479.18" r="4.05"/><circle cx="311.98" cy="480.16" r="4.05"/><circle cx="313.72" cy="479.94" r="4.05"/><circle cx="315.46" cy="480.92" r="4.05"/><circle cx="317.20" cy="480.70" r="4.05"/><circle cx="319.35" cy="482.05" r="4.05"/><circle cx="321.50" cy="482.20" r="4.05"/><circle cx="322.50" cy="484.35" r="4.05"/><circle cx="323.50" cy="485.30" r="4.05"/></g>
<text transform="translate(127.50,493.89) scale(0.975,1)" text-anchor="end" font-size="19.7" fill="#262626">0</text>
<text transform="translate(127.50,465.19) scale(0.975,1)" text-anchor="end" font-size="19.7" fill="#262626">500</text>
<text transform="translate(127.50,435.09) scale(0.975,1)" text-anchor="end" font-size="19.7" fill="#262626">1000</text>
</g>
<g>
<path d="M485.90 95.78h1.2v1.8h-1.2zM485.90 89.96h1.2v1.8h-1.2zM485.90 84.14h1.2v1.8h-1.2zM485.90 78.32h1.2v1.8h-1.2zM485.90 66.68h1.2v1.8h-1.2zM485.90 60.86h1.2v1.8h-1.2zM485.90 55.04h1.2v1.8h-1.2zM485.90 49.22h1.2v1.8h-1.2zM491.45 95.78h1.2v1.8h-1.2zM491.45 89.96h1.2v1.8h-1.2zM491.45 84.14h1.2v1.8h-1.2zM491.45 78.32h1.2v1.8h-1.2zM491.45 66.68h1.2v1.8h-1.2zM491.45 60.86h1.2v1.8h-1.2zM491.45 55.04h1.2v1.8h-1.2zM491.45 49.22h1.2v1.8h-1.2zM497.01 95.78h1.2v1.8h-1.2zM497.01 89.96h1.2v1.8h-1.2zM497.01 84.14h1.2v1.8h-1.2zM497.01 78.32h1.2v1.8h-1.2zM497.01 66.68h1.2v1.8h-1.2zM497.01 60.86h1.2v1.8h-1.2zM497.01 55.04h1.2v1.8h-1.2zM497.01 49.22h1.2v1.8h-1.2zM502.56 95.78h1.2v1.8h-1.2zM502.56 89.96h1.2v1.8h-1.2zM502.56 84.14h1.2v1.8h-1.2zM502.56 78.32h1.2v1.8h-1.2zM502.56 66.68h1.2v1.8h-1.2zM502.56 60.86h1.2v1.8h-1.2zM502.56 55.04h1.2v1.8h-1.2zM502.56 49.22h1.2v1.8h-1.2zM508.12 95.78h1.2v1.8h-1.2zM508.12 89.96h1.2v1.8h-1.2zM508.12 84.14h1.2v1.8h-1.2zM508.12 78.32h1.2v1.8h-1.2zM508.12 66.68h1.2v1.8h-1.2zM508.12 60.86h1.2v1.8h-1.2zM508.12 55.04h1.2v1.8h-1.2zM508.12 49.22h1.2v1.8h-1.2zM513.67 95.78h1.2v1.8h-1.2zM513.67 89.96h1.2v1.8h-1.2zM513.67 84.14h1.2v1.8h-1.2zM513.67 78.32h1.2v1.8h-1.2zM513.67 66.68h1.2v1.8h-1.2zM513.67 60.86h1.2v1.8h-1.2zM513.67 55.04h1.2v1.8h-1.2zM513.67 49.22h1.2v1.8h-1.2zM519.23 95.78h1.2v1.8h-1.2zM519.23 89.96h1.2v1.8h-1.2zM519.23 84.14h1.2v1.8h-1.2zM519.23 78.32h1.2v1.8h-1.2zM519.23 66.68h1.2v1.8h-1.2zM519.23 60.86h1.2v1.8h-1.2zM519.23 55.04h1.2v1.8h-1.2zM519.23 49.22h1.2v1.8h-1.2zM524.78 95.78h1.2v1.8h-1.2zM524.78 89.96h1.2v1.8h-1.2zM524.78 84.14h1.2v1.8h-1.2zM524.78 78.32h1.2v1.8h-1.2zM524.78 66.68h1.2v1.8h-1.2zM524.78 60.86h1.2v1.8h-1.2zM524.78 55.04h1.2v1.8h-1.2zM524.78 49.22h1.2v1.8h-1.2zM530.34 95.78h1.2v1.8h-1.2zM530.34 89.96h1.2v1.8h-1.2zM530.34 84.14h1.2v1.8h-1.2zM530.34 78.32h1.2v1.8h-1.2zM530.34 66.68h1.2v1.8h-1.2zM530.34 60.86h1.2v1.8h-1.2zM530.34 55.04h1.2v1.8h-1.2zM530.34 49.22h1.2v1.8h-1.2zM535.89 95.78h1.2v1.8h-1.2zM535.89 89.96h1.2v1.8h-1.2zM535.89 84.14h1.2v1.8h-1.2zM535.89 78.32h1.2v1.8h-1.2zM535.89 66.68h1.2v1.8h-1.2zM535.89 60.86h1.2v1.8h-1.2zM535.89 55.04h1.2v1.8h-1.2zM535.89 49.22h1.2v1.8h-1.2zM541.45 95.78h1.2v1.8h-1.2zM541.45 89.96h1.2v1.8h-1.2zM541.45 84.14h1.2v1.8h-1.2zM541.45 78.32h1.2v1.8h-1.2zM541.45 66.68h1.2v1.8h-1.2zM541.45 60.86h1.2v1.8h-1.2zM541.45 55.04h1.2v1.8h-1.2zM541.45 49.22h1.2v1.8h-1.2zM547.00 95.78h1.2v1.8h-1.2zM547.00 89.96h1.2v1.8h-1.2zM547.00 84.14h1.2v1.8h-1.2zM547.00 78.32h1.2v1.8h-1.2zM547.00 66.68h1.2v1.8h-1.2zM547.00 60.86h1.2v1.8h-1.2zM547.00 55.04h1.2v1.8h-1.2zM547.00 49.22h1.2v1.8h-1.2zM552.56 95.78h1.2v1.8h-1.2zM552.56 89.96h1.2v1.8h-1.2zM552.56 84.14h1.2v1.8h-1.2zM552.56 78.32h1.2v1.8h-1.2zM552.56 66.68h1.2v1.8h-1.2zM552.56 60.86h1.2v1.8h-1.2zM552.56 55.04h1.2v1.8h-1.2zM552.56 49.22h1.2v1.8h-1.2zM558.11 95.78h1.2v1.8h-1.2zM558.11 89.96h1.2v1.8h-1.2zM558.11 84.14h1.2v1.8h-1.2zM558.11 78.32h1.2v1.8h-1.2zM558.11 66.68h1.2v1.8h-1.2zM558.11 60.86h1.2v1.8h-1.2zM558.11 55.04h1.2v1.8h-1.2zM558.11 49.22h1.2v1.8h-1.2zM563.67 95.78h1.2v1.8h-1.2zM563.67 89.96h1.2v1.8h-1.2zM563.67 84.14h1.2v1.8h-1.2zM563.67 78.32h1.2v1.8h-1.2zM563.67 66.68h1.2v1.8h-1.2zM563.67 60.86h1.2v1.8h-1.2zM563.67 55.04h1.2v1.8h-1.2zM563.67 49.22h1.2v1.8h-1.2zM569.22 95.78h1.2v1.8h-1.2zM569.22 89.96h1.2v1.8h-1.2zM569.22 84.14h1.2v1.8h-1.2zM569.22 78.32h1.2v1.8h-1.2zM569.22 66.68h1.2v1.8h-1.2zM569.22 60.86h1.2v1.8h-1.2zM569.22 55.04h1.2v1.8h-1.2zM569.22 49.22h1.2v1.8h-1.2zM574.78 95.78h1.2v1.8h-1.2zM574.78 89.96h1.2v1.8h-1.2zM574.78 84.14h1.2v1.8h-1.2zM574.78 78.32h1.2v1.8h-1.2zM574.78 66.68h1.2v1.8h-1.2zM574.78 60.86h1.2v1.8h-1.2zM574.78 55.04h1.2v1.8h-1.2zM574.78 49.22h1.2v1.8h-1.2zM580.33 95.78h1.2v1.8h-1.2zM580.33 89.96h1.2v1.8h-1.2zM580.33 84.14h1.2v1.8h-1.2zM580.33 78.32h1.2v1.8h-1.2zM580.33 66.68h1.2v1.8h-1.2zM580.33 60.86h1.2v1.8h-1.2zM580.33 55.04h1.2v1.8h-1.2zM580.33 49.22h1.2v1.8h-1.2zM585.89 95.78h1.2v1.8h-1.2zM585.89 89.96h1.2v1.8h-1.2zM585.89 84.14h1.2v1.8h-1.2zM585.89 78.32h1.2v1.8h-1.2zM585.89 66.68h1.2v1.8h-1.2zM585.89 60.86h1.2v1.8h-1.2zM585.89 55.04h1.2v1.8h-1.2zM585.89 49.22h1.2v1.8h-1.2zM591.44 95.78h1.2v1.8h-1.2zM591.44 89.96h1.2v1.8h-1.2zM591.44 84.14h1.2v1.8h-1.2zM591.44 78.32h1.2v1.8h-1.2zM591.44 66.68h1.2v1.8h-1.2zM591.44 60.86h1.2v1.8h-1.2zM591.44 55.04h1.2v1.8h-1.2zM591.44 49.22h1.2v1.8h-1.2zM597.00 95.78h1.2v1.8h-1.2zM597.00 89.96h1.2v1.8h-1.2zM597.00 84.14h1.2v1.8h-1.2zM597.00 78.32h1.2v1.8h-1.2zM597.00 66.68h1.2v1.8h-1.2zM597.00 60.86h1.2v1.8h-1.2zM597.00 55.04h1.2v1.8h-1.2zM597.00 49.22h1.2v1.8h-1.2zM602.55 95.78h1.2v1.8h-1.2zM602.55 89.96h1.2v1.8h-1.2zM602.55 84.14h1.2v1.8h-1.2zM602.55 78.32h1.2v1.8h-1.2zM602.55 66.68h1.2v1.8h-1.2zM602.55 60.86h1.2v1.8h-1.2zM602.55 55.04h1.2v1.8h-1.2zM602.55 49.22h1.2v1.8h-1.2zM608.11 95.78h1.2v1.8h-1.2zM608.11 89.96h1.2v1.8h-1.2zM608.11 84.14h1.2v1.8h-1.2zM608.11 78.32h1.2v1.8h-1.2zM608.11 66.68h1.2v1.8h-1.2zM608.11 60.86h1.2v1.8h-1.2zM608.11 55.04h1.2v1.8h-1.2zM608.11 49.22h1.2v1.8h-1.2zM613.66 95.78h1.2v1.8h-1.2zM613.66 89.96h1.2v1.8h-1.2zM613.66 84.14h1.2v1.8h-1.2zM613.66 78.32h1.2v1.8h-1.2zM613.66 66.68h1.2v1.8h-1.2zM613.66 60.86h1.2v1.8h-1.2zM613.66 55.04h1.2v1.8h-1.2zM613.66 49.22h1.2v1.8h-1.2zM619.22 95.78h1.2v1.8h-1.2zM619.22 89.96h1.2v1.8h-1.2zM619.22 84.14h1.2v1.8h-1.2zM619.22 78.32h1.2v1.8h-1.2zM619.22 66.68h1.2v1.8h-1.2zM619.22 60.86h1.2v1.8h-1.2zM619.22 55.04h1.2v1.8h-1.2zM619.22 49.22h1.2v1.8h-1.2zM624.77 95.78h1.2v1.8h-1.2zM624.77 89.96h1.2v1.8h-1.2zM624.77 84.14h1.2v1.8h-1.2zM624.77 78.32h1.2v1.8h-1.2zM624.77 66.68h1.2v1.8h-1.2zM624.77 60.86h1.2v1.8h-1.2zM624.77 55.04h1.2v1.8h-1.2zM624.77 49.22h1.2v1.8h-1.2zM630.33 95.78h1.2v1.8h-1.2zM630.33 89.96h1.2v1.8h-1.2zM630.33 84.14h1.2v1.8h-1.2zM630.33 78.32h1.2v1.8h-1.2zM630.33 66.68h1.2v1.8h-1.2zM630.33 60.86h1.2v1.8h-1.2zM630.33 55.04h1.2v1.8h-1.2zM630.33 49.22h1.2v1.8h-1.2zM635.88 95.78h1.2v1.8h-1.2zM635.88 89.96h1.2v1.8h-1.2zM635.88 84.14h1.2v1.8h-1.2zM635.88 78.32h1.2v1.8h-1.2zM635.88 66.68h1.2v1.8h-1.2zM635.88 60.86h1.2v1.8h-1.2zM635.88 55.04h1.2v1.8h-1.2zM635.88 49.22h1.2v1.8h-1.2zM641.44 95.78h1.2v1.8h-1.2zM641.44 89.96h1.2v1.8h-1.2zM641.44 84.14h1.2v1.8h-1.2zM641.44 78.32h1.2v1.8h-1.2zM641.44 66.68h1.2v1.8h-1.2zM641.44 60.86h1.2v1.8h-1.2zM641.44 55.04h1.2v1.8h-1.2zM641.44 49.22h1.2v1.8h-1.2zM646.99 95.78h1.2v1.8h-1.2zM646.99 89.96h1.2v1.8h-1.2zM646.99 84.14h1.2v1.8h-1.2zM646.99 78.32h1.2v1.8h-1.2zM646.99 66.68h1.2v1.8h-1.2zM646.99 60.86h1.2v1.8h-1.2zM646.99 55.04h1.2v1.8h-1.2zM646.99 49.22h1.2v1.8h-1.2zM652.55 95.78h1.2v1.8h-1.2zM652.55 89.96h1.2v1.8h-1.2zM652.55 84.14h1.2v1.8h-1.2zM652.55 78.32h1.2v1.8h-1.2zM652.55 66.68h1.2v1.8h-1.2zM652.55 60.86h1.2v1.8h-1.2zM652.55 55.04h1.2v1.8h-1.2zM652.55 49.22h1.2v1.8h-1.2zM658.10 95.78h1.2v1.8h-1.2zM658.10 89.96h1.2v1.8h-1.2zM658.10 84.14h1.2v1.8h-1.2zM658.10 78.32h1.2v1.8h-1.2zM658.10 66.68h1.2v1.8h-1.2zM658.10 60.86h1.2v1.8h-1.2zM658.10 55.04h1.2v1.8h-1.2zM658.10 49.22h1.2v1.8h-1.2zM663.66 95.78h1.2v1.8h-1.2zM663.66 89.96h1.2v1.8h-1.2zM663.66 84.14h1.2v1.8h-1.2zM663.66 78.32h1.2v1.8h-1.2zM663.66 66.68h1.2v1.8h-1.2zM663.66 60.86h1.2v1.8h-1.2zM663.66 55.04h1.2v1.8h-1.2zM663.66 49.22h1.2v1.8h-1.2zM669.21 95.78h1.2v1.8h-1.2zM669.21 89.96h1.2v1.8h-1.2zM669.21 84.14h1.2v1.8h-1.2zM669.21 78.32h1.2v1.8h-1.2zM669.21 66.68h1.2v1.8h-1.2zM669.21 60.86h1.2v1.8h-1.2zM669.21 55.04h1.2v1.8h-1.2zM669.21 49.22h1.2v1.8h-1.2zM674.77 95.78h1.2v1.8h-1.2zM674.77 89.96h1.2v1.8h-1.2zM674.77 84.14h1.2v1.8h-1.2zM674.77 78.32h1.2v1.8h-1.2zM674.77 66.68h1.2v1.8h-1.2zM674.77 60.86h1.2v1.8h-1.2zM674.77 55.04h1.2v1.8h-1.2zM674.77 49.22h1.2v1.8h-1.2zM680.32 95.78h1.2v1.8h-1.2zM680.32 89.96h1.2v1.8h-1.2zM680.32 84.14h1.2v1.8h-1.2zM680.32 78.32h1.2v1.8h-1.2zM680.32 66.68h1.2v1.8h-1.2zM680.32 60.86h1.2v1.8h-1.2zM680.32 55.04h1.2v1.8h-1.2zM680.32 49.22h1.2v1.8h-1.2zM685.88 95.78h1.2v1.8h-1.2zM685.88 89.96h1.2v1.8h-1.2zM685.88 84.14h1.2v1.8h-1.2zM685.88 78.32h1.2v1.8h-1.2zM685.88 66.68h1.2v1.8h-1.2zM685.88 60.86h1.2v1.8h-1.2zM685.88 55.04h1.2v1.8h-1.2zM685.88 49.22h1.2v1.8h-1.2zM691.43 95.78h1.2v1.8h-1.2zM691.43 89.96h1.2v1.8h-1.2zM691.43 84.14h1.2v1.8h-1.2zM691.43 78.32h1.2v1.8h-1.2zM691.43 66.68h1.2v1.8h-1.2zM691.43 60.86h1.2v1.8h-1.2zM691.43 55.04h1.2v1.8h-1.2zM691.43 49.22h1.2v1.8h-1.2zM696.99 95.78h1.2v1.8h-1.2zM696.99 89.96h1.2v1.8h-1.2zM696.99 84.14h1.2v1.8h-1.2zM696.99 78.32h1.2v1.8h-1.2zM696.99 66.68h1.2v1.8h-1.2zM696.99 60.86h1.2v1.8h-1.2zM696.99 55.04h1.2v1.8h-1.2zM696.99 49.22h1.2v1.8h-1.2z" fill="#262626" fill-opacity="0.3"/>
<path d="M523.30 44.30V104.20M567.10 44.30V104.20M610.90 44.30V104.20M654.70 44.30V104.20M479.50 102.50H698.50M479.50 73.40H698.50" stroke="#e0e0e0" stroke-width="1.5" fill="none"/>
<rect x="479.5" y="44.3" width="219.00" height="59.90" fill="none" stroke="#262626" stroke-width="2.0"/>
<path d="M523.30 44.30v2.3M523.30 104.20v-2.3M567.10 44.30v2.3M567.10 104.20v-2.3M610.90 44.30v2.3M610.90 104.20v-2.3M654.70 44.30v2.3M654.70 104.20v-2.3M479.50 102.50h2.3M698.50 102.50h-2.3M479.50 73.40h2.3M698.50 73.40h-2.3M479.50 44.30h2.3M698.50 44.30h-2.3" stroke="#262626" stroke-width="1.6" fill="none"/>
<path d="M551.60 66.68L552.50 67.00L556.80 69.00L558.20 71.40L562.50 75.60L565.30 77.00L569.50 74.00L575.20 73.00L580.80 73.50L586.50 76.30L592.40 79.60L599.60 78.40L603.00 76.00L605.60 72.40L608.00 68.00L610.40 65.50L617.60 66.10L626.00 65.50L632.00 69.10L634.00 70.00L640.00 74.20L646.00 80.30L652.00 86.30L658.00 88.70L662.00 89.30L663.00 89.30" fill="none" stroke="#0072BD" stroke-width="3.6" stroke-linecap="round" stroke-linejoin="round"/>
<g fill="none" stroke="#0072BD" stroke-width="2.0"><circle cx="489.80" cy="104.50" r="4.05"/><circle cx="491.10" cy="102.25" r="4.05"/><circle cx="492.40" cy="102.00" r="4.05"/><circle cx="493.70" cy="99.75" r="4.05"/><circle cx="495.00" cy="99.50" r="4.05"/><circle cx="496.30" cy="97.25" r="4.05"/><circle cx="497.60" cy="97.00" r="4.05"/><circle cx="498.90" cy="94.75" r="4.05"/><circle cx="500.20" cy="94.50" r="4.05"/><circle cx="501.40" cy="92.25" r="4.05"/><circle cx="502.60" cy="92.00" r="4.05"/><circle cx="503.80" cy="89.75" r="4.05"/><circle cx="505.00" cy="89.50" r="4.05"/><circle cx="506.33" cy="87.17" r="4.05"/><circle cx="507.67" cy="86.83" r="4.05"/><circle cx="509.00" cy="84.50" r="4.05"/><circle cx="510.35" cy="84.47" r="4.05"/><circle cx="511.70" cy="82.45" r="4.05"/><circle cx="513.05" cy="82.43" r="4.05"/><circle cx="514.40" cy="80.40" r="4.05"/><circle cx="515.80" cy="80.62" r="4.05"/><circle cx="517.20" cy="78.84" r="4.05"/><circle cx="518.60" cy="79.06" r="4.05"/><circle cx="520.00" cy="77.28" r="4.05"/><circle cx="521.40" cy="77.50" r="4.05"/><circle cx="522.93" cy="75.67" r="4.05"/><circle cx="524.47" cy="75.83" r="4.05"/><circle cx="526.00" cy="74.00" r="4.05"/><circle cx="527.75" cy="73.75" r="4.05"/><circle cx="529.50" cy="71.50" r="4.05"/><circle cx="531.00" cy="70.00" r="4.05"/><circle cx="530.60" cy="77.00" r="4.05"/><circle cx="531.30" cy="55.10" r="4.05"/><circle cx="534.20" cy="48.00" r="4.05"/><circle cx="536.30" cy="55.80" r="4.05"/><circle cx="538.00" cy="56.50" r="4.05"/><circle cx="539.80" cy="57.90" r="4.05"/><circle cx="541.20" cy="59.50" r="4.05"/><circle cx="542.60" cy="60.80" r="4.05"/><circle cx="544.10" cy="66.40" r="4.05"/><circle cx="546.00" cy="64.50" r="4.05"/><circle cx="548.30" cy="64.30" r="4.05"/><circle cx="548.30" cy="65.80" r="4.05"/><circle cx="550.40" cy="65.95" r="4.05"/><circle cx="552.50" cy="67.30" r="4.05"/><circle cx="554.65" cy="67.70" r="4.05"/><circle cx="556.80" cy="69.30" r="4.05"/><circle cx="558.20" cy="71.10" r="4.05"/><circle cx="559.63" cy="73.10" r="4.05"/><circle cx="561.07" cy="73.90" r="4.05"/><circle cx="562.50" cy="75.90" r="4.05"/><circle cx="565.30" cy="76.70" r="4.05"/><circle cx="566.70" cy="76.30" r="4.05"/><circle cx="568.10" cy="74.70" r="4.05"/><circle cx="569.50" cy="74.30" r="4.05"/><circle cx="571.40" cy="73.37" r="4.05"/><circle cx="573.30" cy="73.63" r="4.05"/><circle cx="575.20" cy="72.70" r="4.05"/><circle cx="577.07" cy="73.47" r="4.05"/><circle cx="578.93" cy="73.03" r="4.05"/><circle cx="580.80" cy="73.80" r="4.05"/><circle cx="582.70" cy="74.13" r="4.05"/><circle cx="584.60" cy="75.67" r="4.05"/><circle cx="586.50" cy="76.00" r="4.05"/><circle cx="587.98" cy="77.42" r="4.05"/><circle cx="589.45" cy="77.65" r="4.05"/><circle cx="590.92" cy="79.07" r="4.05"/><circle cx="592.40" cy="79.30" r="4.05"/><circle cx="594.20" cy="79.60" r="4.05"/><circle cx="596.00" cy="78.70" r="4.05"/><circle cx="597.80" cy="79.00" r="4.05"/><circle cx="599.60" cy="78.10" r="4.05"/><circle cx="601.30" cy="77.50" r="4.05"/><circle cx="603.00" cy="75.70" r="4.05"/><circle cx="604.30" cy="74.50" r="4.05"/><circle cx="605.60" cy="72.10" r="4.05"/><circle cx="606.40" cy="71.23" r="4.05"/><circle cx="607.20" cy="69.17" r="4.05"/><circle cx="608.00" cy="68.30" r="4.05"/><circle cx="609.20" cy="66.45" r="4.05"/><circle cx="610.40" cy="65.80" r="4.05"/><circle cx="612.20" cy="65.35" r="4.05"/><circle cx="614.00" cy="66.10" r="4.05"/><circle cx="615.80" cy="65.65" r="4.05"/><circle cx="617.60" cy="66.40" r="4.05"/><circle cx="619.28" cy="65.68" r="4.05"/><circle cx="620.96" cy="66.16" r="4.05"/><circle cx="622.64" cy="65.44" r="4.05"/><circle cx="624.32" cy="65.92" r="4.05"/><circle cx="626.00" cy="65.20" r="4.05"/><circle cx="627.50" cy="66.70" r="4.05"/><circle cx="629.00" cy="67.00" r="4.05"/><circle cx="630.50" cy="68.50" r="4.05"/><circle cx="632.00" cy="68.80" r="4.05"/><circle cx="634.00" cy="70.30" r="4.05"/><circle cx="635.50" cy="70.75" r="4.05"/><circle cx="637.00" cy="72.40" r="4.05"/><circle cx="638.50" cy="72.85" r="4.05"/><circle cx="640.00" cy="74.50" r="4.05"/><circle cx="641.20" cy="75.12" r="4.05"/><circle cx="642.40" cy="76.94" r="4.05"/><circle cx="643.60" cy="77.56" r="4.05"/><circle cx="644.80" cy="79.38" r="4.05"/><circle cx="646.00" cy="80.00" r="4.05"/><circle cx="647.20" cy="81.80" r="4.05"/><circle cx="648.40" cy="82.40" r="4.05"/><circle cx="649.60" cy="84.20" r="4.05"/><circle cx="650.80" cy="84.80" r="4.05"/><circle cx="652.00" cy="86.60" r="4.05"/><circle cx="653.50" cy="86.60" r="4.05"/><circle cx="655.00" cy="87.80" r="4.05"/><circle cx="656.50" cy="87.80" r="4.05"/><circle cx="658.00" cy="89.00" r="4.05"/><circle cx="660.00" cy="88.70" r="4.05"/><circle cx="662.00" cy="89.60" r="4.05"/><circle cx="664.25" cy="89.00" r="4.05"/><circle cx="666.50" cy="89.60" r="4.05"/></g>
<text transform="translate(470.50,109.69) scale(0.975,1)" text-anchor="end" font-size="19.7" fill="#262626">270</text>
<text transform="translate(470.50,81.09) scale(0.975,1)" text-anchor="end" font-size="19.7" fill="#262626">275</text>
<text transform="translate(470.50,51.09) scale(0.975,1)" text-anchor="end" font-size="19.7" fill="#262626">280</text>
</g>
<g>
<path d="M485.90 225.82h1.2v1.8h-1.2zM485.90 221.24h1.2v1.8h-1.2zM485.90 216.66h1.2v1.8h-1.2zM485.90 212.08h1.2v1.8h-1.2zM485.90 202.92h1.2v1.8h-1.2zM485.90 198.34h1.2v1.8h-1.2zM485.90 193.76h1.2v1.8h-1.2zM485.90 189.18h1.2v1.8h-1.2zM485.90 180.02h1.2v1.8h-1.2zM485.90 175.44h1.2v1.8h-1.2zM491.45 225.82h1.2v1.8h-1.2zM491.45 221.24h1.2v1.8h-1.2zM491.45 216.66h1.2v1.8h-1.2zM491.45 212.08h1.2v1.8h-1.2zM491.45 202.92h1.2v1.8h-1.2zM491.45 198.34h1.2v1.8h-1.2zM491.45 193.76h1.2v1.8h-1.2zM491.45 189.18h1.2v1.8h-1.2zM491.45 180.02h1.2v1.8h-1.2zM491.45 175.44h1.2v1.8h-1.2zM497.01 225.82h1.2v1.8h-1.2zM497.01 221.24h1.2v1.8h-1.2zM497.01 216.66h1.2v1.8h-1.2zM497.01 212.08h1.2v1.8h-1.2zM497.01 202.92h1.2v1.8h-1.2zM497.01 198.34h1.2v1.8h-1.2zM497.01 193.76h1.2v1.8h-1.2zM497.01 189.18h1.2v1.8h-1.2zM497.01 180.02h1.2v1.8h-1.2zM497.01 175.44h1.2v1.8h-1.2zM502.56 225.82h1.2v1.8h-1.2zM502.56 221.24h1.2v1.8h-1.2zM502.56 216.66h1.2v1.8h-1.2zM502.56 212.08h1.2v1.8h-1.2zM502.56 202.92h1.2v1.8h-1.2zM502.56 198.34h1.2v1.8h-1.2zM502.56 193.76h1.2v1.8h-1.2zM502.56 189.18h1.2v1.8h-1.2zM502.56 180.02h1.2v1.8h-1.2zM502.56 175.44h1.2v1.8h-1.2zM508.12 225.82h1.2v1.8h-1.2zM508.12 221.24h1.2v1.8h-1.2zM508.12 216.66h1.2v1.8h-1.2zM508.12 212.08h1.2v1.8h-1.2zM508.12 202.92h1.2v1.8h-1.2zM508.12 198.34h1.2v1.8h-1.2zM508.12 193.76h1.2v1.8h-1.2zM508.12 189.18h1.2v1.8h-1.2zM508.12 180.02h1.2v1.8h-1.2zM508.12 175.44h1.2v1.8h-1.2zM513.67 225.82h1.2v1.8h-1.2zM513.67 221.24h1.2v1.8h-1.2zM513.67 216.66h1.2v1.8h-1.2zM513.67 212.08h1.2v1.8h-1.2zM513.67 202.92h1.2v1.8h-1.2zM513.67 198.34h1.2v1.8h-1.2zM513.67 193.76h1.2v1.8h-1.2zM513.67 189.18h1.2v1.8h-1.2zM513.67 180.02h1.2v1.8h-1.2zM513.67 175.44h1.2v1.8h-1.2zM519.23 225.82h1.2v1.8h-1.2zM519.23 221.24h1.2v1.8h-1.2zM519.23 216.66h1.2v1.8h-1.2zM519.23 212.08h1.2v1.8h-1.2zM519.23 202.92h1.2v1.8h-1.2zM519.23 198.34h1.2v1.8h-1.2zM519.23 193.76h1.2v1.8h-1.2zM519.23 189.18h1.2v1.8h-1.2zM519.23 180.02h1.2v1.8h-1.2zM519.23 175.44h1.2v1.8h-1.2zM524.78 225.82h1.2v1.8h-1.2zM524.78 221.24h1.2v1.8h-1.2zM524.78 216.66h1.2v1.8h-1.2zM524.78 212.08h1.2v1.8h-1.2zM524.78 202.92h1.2v1.8h-1.2zM524.78 198.34h1.2v1.8h-1.2zM524.78 193.76h1.2v1.8h-1.2zM524.78 189.18h1.2v1.8h-1.2zM524.78 180.02h1.2v1.8h-1.2zM524.78 175.44h1.2v1.8h-1.2zM530.34 225.82h1.2v1.8h-1.2zM530.34 221.24h1.2v1.8h-1.2zM530.34 216.66h1.2v1.8h-1.2zM530.34 212.08h1.2v1.8h-1.2zM530.34 202.92h1.2v1.8h-1.2zM530.34 198.34h1.2v1.8h-1.2zM530.34 193.76h1.2v1.8h-1.2zM530.34 189.18h1.2v1.8h-1.2zM530.34 180.02h1.2v1.8h-1.2zM530.34 175.44h1.2v1.8h-1.2zM535.89 225.82h1.2v1.8h-1.2zM535.89 221.24h1.2v1.8h-1.2zM535.89 216.66h1.2v1.8h-1.2zM535.89 212.08h1.2v1.8h-1.2zM535.89 202.92h1.2v1.8h-1.2zM535.89 198.34h1.2v1.8h-1.2zM535.89 193.76h1.2v1.8h-1.2zM535.89 189.18h1.2v1.8h-1.2zM535.89 180.02h1.2v1.8h-1.2zM535.89 175.44h1.2v1.8h-1.2zM541.45 225.82h1.2v1.8h-1.2zM541.45 221.24h1.2v1.8h-1.2zM541.45 216.66h1.2v1.8h-1.2zM541.45 212.08h1.2v1.8h-1.2zM541.45 202.92h1.2v1.8h-1.2zM541.45 198.34h1.2v1.8h-1.2zM541.45 193.76h1.2v1.8h-1.2zM541.45 189.18h1.2v1.8h-1.2zM541.45 180.02h1.2v1.8h-1.2zM541.45 175.44h1.2v1.8h-1.2zM547.00 225.82h1.2v1.8h-1.2zM547.00 221.24h1.2v1.8h-1.2zM547.00 216.66h1.2v1.8h-1.2zM547.00 212.08h1.2v1.8h-1.2zM547.00 202.92h1.2v1.8h-1.2zM547.00 198.34h1.2v1.8h-1.2zM547.00 193.76h1.2v1.8h-1.2zM547.00 189.18h1.2v1.8h-1.2zM547.00 180.02h1.2v1.8h-1.2zM547.00 175.44h1.2v1.8h-1.2zM552.56 225.82h1.2v1.8h-1.2zM552.56 221.24h1.2v1.8h-1.2zM552.56 216.66h1.2v1.8h-1.2zM552.56 212.08h1.2v1.8h-1.2zM552.56 202.92h1.2v1.8h-1.2zM552.56 198.34h1.2v1.8h-1.2zM552.56 193.76h1.2v1.8h-1.2zM552.56 189.18h1.2v1.8h-1.2zM552.56 180.02h1.2v1.8h-1.2zM552.56 175.44h1.2v1.8h-1.2zM558.11 225.82h1.2v1.8h-1.2zM558.11 221.24h1.2v1.8h-1.2zM558.11 216.66h1.2v1.8h-1.2zM558.11 212.08h1.2v1.8h-1.2zM558.11 202.92h1.2v1.8h-1.2zM558.11 198.34h1.2v1.8h-1.2zM558.11 193.76h1.2v1.8h-1.2zM558.11 189.18h1.2v1.8h-1.2zM558.11 180.02h1.2v1.8h-1.2zM558.11 175.44h1.2v1.8h-1.2zM563.67 225.82h1.2v1.8h-1.2zM563.67 221.24h1.2v1.8h-1.2zM563.67 216.66h1.2v1.8h-1.2zM563.67 212.08h1.2v1.8h-1.2zM563.67 202.92h1.2v1.8h-1.2zM563.67 198.34h1.2v1.8h-1.2zM563.67 193.76h1.2v1.8h-1.2zM563.67 189.18h1.2v1.8h-1.2zM563.67 180.02h1.2v1.8h-1.2zM563.67 175.44h1.2v1.8h-1.2zM569.22 225.82h1.2v1.8h-1.2zM569.22 221.24h1.2v1.8h-1.2zM569.22 216.66h1.2v1.8h-1.2zM569.22 212.08h1.2v1.8h-1.2zM569.22 202.92h1.2v1.8h-1.2zM569.22 198.34h1.2v1.8h-1.2zM569.22 193.76h1.2v1.8h-1.2zM569.22 189.18h1.2v1.8h-1.2zM569.22 180.02h1.2v1.8h-1.2zM569.22 175.44h1.2v1.8h-1.2zM574.78 225.82h1.2v1.8h-1.2zM574.78 221.24h1.2v1.8h-1.2zM574.78 216.66h1.2v1.8h-1.2zM574.78 212.08h1.2v1.8h-1.2zM574.78 202.92h1.2v1.8h-1.2zM574.78 198.34h1.2v1.8h-1.2zM574.78 193.76h1.2v1.8h-1.2zM574.78 189.18h1.2v1.8h-1.2zM574.78 180.02h1.2v1.8h-1.2zM574.78 175.44h1.2v1.8h-1.2zM580.33 225.82h1.2v1.8h-1.2zM580.33 221.24h1.2v1.8h-1.2zM580.33 216.66h1.2v1.8h-1.2zM580.33 212.08h1.2v1.8h-1.2zM580.33 202.92h1.2v1.8h-1.2zM580.33 198.34h1.2v1.8h-1.2zM580.33 193.76h1.2v1.8h-1.2zM580.33 189.18h1.2v1.8h-1.2zM580.33 180.02h1.2v1.8h-1.2zM580.33 175.44h1.2v1.8h-1.2zM585.89 225.82h1.2v1.8h-1.2zM585.89 221.24h1.2v1.8h-1.2zM585.89 216.66h1.2v1.8h-1.2zM585.89 212.08h1.2v1.8h-1.2zM585.89 202.92h1.2v1.8h-1.2zM585.89 198.34h1.2v1.8h-1.2zM585.89 193.76h1.2v1.8h-1.2zM585.89 189.18h1.2v1.8h-1.2zM585.89 180.02h1.2v1.8h-1.2zM585.89 175.44h1.2v1.8h-1.2zM591.44 225.82h1.2v1.8h-1.2zM591.44 221.24h1.2v1.8h-1.2zM591.44 216.66h1.2v1.8h-1.2zM591.44 212.08h1.2v1.8h-1.2zM591.44 202.92h1.2v1.8h-1.2zM591.44 198.34h1.2v1.8h-1.2zM591.44 193.76h1.2v1.8h-1.2zM591.44 189.18h1.2v1.8h-1.2zM591.44 180.02h1.2v1.8h-1.2zM591.44 175.44h1.2v1.8h-1.2zM597.00 225.82h1.2v1.8h-1.2zM597.00 221.24h1.2v1.8h-1.2zM597.00 216.66h1.2v1.8h-1.2zM597.00 212.08h1.2v1.8h-1.2zM597.00 202.92h1.2v1.8h-1.2zM597.00 198.34h1.2v1.8h-1.2zM597.00 193.76h1.2v1.8h-1.2zM597.00 189.18h1.2v1.8h-1.2zM597.00 180.02h1.2v1.8h-1.2zM597.00 175.44h1.2v1.8h-1.2zM602.55 225.82h1.2v1.8h-1.2zM602.55 221.24h1.2v1.8h-1.2zM602.55 216.66h1.2v1.8h-1.2zM602.55 212.08h1.2v1.8h-1.2zM602.55 202.92h1.2v1.8h-1.2zM602.55 198.34h1.2v1.8h-1.2zM602.55 193.76h1.2v1.8h-1.2zM602.55 189.18h1.2v1.8h-1.2zM602.55 180.02h1.2v1.8h-1.2zM602.55 175.44h1.2v1.8h-1.2zM608.11 225.82h1.2v1.8h-1.2zM608.11 221.24h1.2v1.8h-1.2zM608.11 216.66h1.2v1.8h-1.2zM608.11 212.08h1.2v1.8h-1.2zM608.11 202.92h1.2v1.8h-1.2zM608.11 198.34h1.2v1.8h-1.2zM608.11 193.76h1.2v1.8h-1.2zM608.11 189.18h1.2v1.8h-1.2zM608.11 180.02h1.2v1.8h-1.2zM608.11 175.44h1.2v1.8h-1.2zM613.66 225.82h1.2v1.8h-1.2zM613.66 221.24h1.2v1.8h-1.2zM613.66 216.66h1.2v1.8h-1.2zM613.66 212.08h1.2v1.8h-1.2zM613.66 202.92h1.2v1.8h-1.2zM613.66 198.34h1.2v1.8h-1.2zM613.66 193.76h1.2v1.8h-1.2zM613.66 189.18h1.2v1.8h-1.2zM613.66 180.02h1.2v1.8h-1.2zM613.66 175.44h1.2v1.8h-1.2zM619.22 225.82h1.2v1.8h-1.2zM619.22 221.24h1.2v1.8h-1.2zM619.22 216.66h1.2v1.8h-1.2zM619.22 212.08h1.2v1.8h-1.2zM619.22 202.92h1.2v1.8h-1.2zM619.22 198.34h1.2v1.8h-1.2zM619.22 193.76h1.2v1.8h-1.2zM619.22 189.18h1.2v1.8h-1.2zM619.22 180.02h1.2v1.8h-1.2zM619.22 175.44h1.2v1.8h-1.2zM624.77 225.82h1.2v1.8h-1.2zM624.77 221.24h1.2v1.8h-1.2zM624.77 216.66h1.2v1.8h-1.2zM624.77 212.08h1.2v1.8h-1.2zM624.77 202.92h1.2v1.8h-1.2zM624.77 198.34h1.2v1.8h-1.2zM624.77 193.76h1.2v1.8h-1.2zM624.77 189.18h1.2v1.8h-1.2zM624.77 180.02h1.2v1.8h-1.2zM624.77 175.44h1.2v1.8h-1.2zM630.33 225.82h1.2v1.8h-1.2zM630.33 221.24h1.2v1.8h-1.2zM630.33 216.66h1.2v1.8h-1.2zM630.33 212.08h1.2v1.8h-1.2zM630.33 202.92h1.2v1.8h-1.2zM630.33 198.34h1.2v1.8h-1.2zM630.33 193.76h1.2v1.8h-1.2zM630.33 189.18h1.2v1.8h-1.2zM630.33 180.02h1.2v1.8h-1.2zM630.33 175.44h1.2v1.8h-1.2zM635.88 225.82h1.2v1.8h-1.2zM635.88 221.24h1.2v1.8h-1.2zM635.88 216.66h1.2v1.8h-1.2zM635.88 212.08h1.2v1.8h-1.2zM635.88 202.92h1.2v1.8h-1.2zM635.88 198.34h1.2v1.8h-1.2zM635.88 193.76h1.2v1.8h-1.2zM635.88 189.18h1.2v1.8h-1.2zM635.88 180.02h1.2v1.8h-1.2zM635.88 175.44h1.2v1.8h-1.2zM641.44 225.82h1.2v1.8h-1.2zM641.44 221.24h1.2v1.8h-1.2zM641.44 216.66h1.2v1.8h-1.2zM641.44 212.08h1.2v1.8h-1.2zM641.44 202.92h1.2v1.8h-1.2zM641.44 198.34h1.2v1.8h-1.2zM641.44 193.76h1.2v1.8h-1.2zM641.44 189.18h1.2v1.8h-1.2zM641.44 180.02h1.2v1.8h-1.2zM641.44 175.44h1.2v1.8h-1.2zM646.99 225.82h1.2v1.8h-1.2zM646.99 221.24h1.2v1.8h-1.2zM646.99 216.66h1.2v1.8h-1.2zM646.99 212.08h1.2v1.8h-1.2zM646.99 202.92h1.2v1.8h-1.2zM646.99 198.34h1.2v1.8h-1.2zM646.99 193.76h1.2v1.8h-1.2zM646.99 189.18h1.2v1.8h-1.2zM646.99 180.02h1.2v1.8h-1.2zM646.99 175.44h1.2v1.8h-1.2zM652.55 225.82h1.2v1.8h-1.2zM652.55 221.24h1.2v1.8h-1.2zM652.55 216.66h1.2v1.8h-1.2zM652.55 212.08h1.2v1.8h-1.2zM652.55 202.92h1.2v1.8h-1.2zM652.55 198.34h1.2v1.8h-1.2zM652.55 193.76h1.2v1.8h-1.2zM652.55 189.18h1.2v1.8h-1.2zM652.55 180.02h1.2v1.8h-1.2zM652.55 175.44h1.2v1.8h-1.2zM658.10 225.82h1.2v1.8h-1.2zM658.10 221.24h1.2v1.8h-1.2zM658.10 216.66h1.2v1.8h-1.2zM658.10 212.08h1.2v1.8h-1.2zM658.10 202.92h1.2v1.8h-1.2zM658.10 198.34h1.2v1.8h-1.2zM658.10 193.76h1.2v1.8h-1.2zM658.10 189.18h1.2v1.8h-1.2zM658.10 180.02h1.2v1.8h-1.2zM658.10 175.44h1.2v1.8h-1.2zM663.66 225.82h1.2v1.8h-1.2zM663.66 221.24h1.2v1.8h-1.2zM663.66 216.66h1.2v1.8h-1.2zM663.66 212.08h1.2v1.8h-1.2zM663.66 202.92h1.2v1.8h-1.2zM663.66 198.34h1.2v1.8h-1.2zM663.66 193.76h1.2v1.8h-1.2zM663.66 189.18h1.2v1.8h-1.2zM663.66 180.02h1.2v1.8h-1.2zM663.66 175.44h1.2v1.8h-1.2zM669.21 225.82h1.2v1.8h-1.2zM669.21 221.24h1.2v1.8h-1.2zM669.21 216.66h1.2v1.8h-1.2zM669.21 212.08h1.2v1.8h-1.2zM669.21 202.92h1.2v1.8h-1.2zM669.21 198.34h1.2v1.8h-1.2zM669.21 193.76h1.2v1.8h-1.2zM669.21 189.18h1.2v1.8h-1.2zM669.21 180.02h1.2v1.8h-1.2zM669.21 175.44h1.2v1.8h-1.2zM674.77 225.82h1.2v1.8h-1.2zM674.77 221.24h1.2v1.8h-1.2zM674.77 216.66h1.2v1.8h-1.2zM674.77 212.08h1.2v1.8h-1.2zM674.77 202.92h1.2v1.8h-1.2zM674.77 198.34h1.2v1.8h-1.2zM674.77 193.76h1.2v1.8h-1.2zM674.77 189.18h1.2v1.8h-1.2zM674.77 180.02h1.2v1.8h-1.2zM674.77 175.44h1.2v1.8h-1.2zM680.32 225.82h1.2v1.8h-1.2zM680.32 221.24h1.2v1.8h-1.2zM680.32 216.66h1.2v1.8h-1.2zM680.32 212.08h1.2v1.8h-1.2zM680.32 202.92h1.2v1.8h-1.2zM680.32 198.34h1.2v1.8h-1.2zM680.32 193.76h1.2v1.8h-1.2zM680.32 189.18h1.2v1.8h-1.2zM680.32 180.02h1.2v1.8h-1.2zM680.32 175.44h1.2v1.8h-1.2zM685.88 225.82h1.2v1.8h-1.2zM685.88 221.24h1.2v1.8h-1.2zM685.88 216.66h1.2v1.8h-1.2zM685.88 212.08h1.2v1.8h-1.2zM685.88 202.92h1.2v1.8h-1.2zM685.88 198.34h1.2v1.8h-1.2zM685.88 193.76h1.2v1.8h-1.2zM685.88 189.18h1.2v1.8h-1.2zM685.88 180.02h1.2v1.8h-1.2zM685.88 175.44h1.2v1.8h-1.2zM691.43 225.82h1.2v1.8h-1.2zM691.43 221.24h1.2v1.8h-1.2zM691.43 216.66h1.2v1.8h-1.2zM691.43 212.08h1.2v1.8h-1.2zM691.43 202.92h1.2v1.8h-1.2zM691.43 198.34h1.2v1.8h-1.2zM691.43 193.76h1.2v1.8h-1.2zM691.43 189.18h1.2v1.8h-1.2zM691.43 180.02h1.2v1.8h-1.2zM691.43 175.44h1.2v1.8h-1.2zM696.99 225.82h1.2v1.8h-1.2zM696.99 221.24h1.2v1.8h-1.2zM696.99 216.66h1.2v1.8h-1.2zM696.99 212.08h1.2v1.8h-1.2zM696.99 202.92h1.2v1.8h-1.2zM696.99 198.34h1.2v1.8h-1.2zM696.99 193.76h1.2v1.8h-1.2zM696.99 189.18h1.2v1.8h-1.2zM696.99 180.02h1.2v1.8h-1.2zM696.99 175.44h1.2v1.8h-1.2z" fill="#262626" fill-opacity="0.3"/>
<path d="M523.30 172.35V231.40M567.10 172.35V231.40M610.90 172.35V231.40M654.70 172.35V231.40M479.50 208.40H698.50M479.50 185.50H698.50" stroke="#e0e0e0" stroke-width="1.5" fill="none"/>
<rect x="479.5" y="172.35" width="219.00" height="59.05" fill="none" stroke="#262626" stroke-width="2.0"/>
<path d="M523.30 172.35v2.3M523.30 231.40v-2.3M567.10 172.35v2.3M567.10 231.40v-2.3M610.90 172.35v2.3M610.90 231.40v-2.3M654.70 172.35v2.3M654.70 231.40v-2.3M479.50 231.30h2.3M698.50 231.30h-2.3M479.50 208.40h2.3M698.50 208.40h-2.3M479.50 185.50h2.3M698.50 185.50h-2.3" stroke="#262626" stroke-width="1.6" fill="none"/>
<path d="M493.00 231.40L509.50 231.40" fill="none" stroke="#0072BD" stroke-width="3.0" stroke-linecap="round" stroke-linejoin="round"/>
<path d="M537.30 231.40L589.00 231.40" fill="none" stroke="#0072BD" stroke-width="3.0" stroke-linecap="round" stroke-linejoin="round"/>
<path d="M604.50 231.40L611.00 231.40" fill="none" stroke="#0072BD" stroke-width="3.0" stroke-linecap="round" stroke-linejoin="round"/>
<path d="M631.50 231.40L662.80 231.40" fill="none" stroke="#0072BD" stroke-width="3.0" stroke-linecap="round" stroke-linejoin="round"/>
<g fill="none" stroke="#0072BD" stroke-width="2.0"><circle cx="489.50" cy="231.40" r="4.05"/><circle cx="491.18" cy="231.40" r="4.05"/><circle cx="492.86" cy="231.40" r="4.05"/><circle cx="494.54" cy="231.40" r="4.05"/><circle cx="496.21" cy="231.40" r="4.05"/><circle cx="497.89" cy="231.40" r="4.05"/><circle cx="499.57" cy="231.40" r="4.05"/><circle cx="501.25" cy="231.40" r="4.05"/><circle cx="502.93" cy="231.40" r="4.05"/><circle cx="504.61" cy="231.40" r="4.05"/><circle cx="506.29" cy="231.40" r="4.05"/><circle cx="507.96" cy="231.40" r="4.05"/><circle cx="509.64" cy="231.40" r="4.05"/><circle cx="511.32" cy="231.40" r="4.05"/><circle cx="513.00" cy="231.40" r="4.05"/><circle cx="533.80" cy="231.40" r="4.05"/><circle cx="535.43" cy="231.40" r="4.05"/><circle cx="537.06" cy="231.40" r="4.05"/><circle cx="538.69" cy="231.40" r="4.05"/><circle cx="540.32" cy="231.40" r="4.05"/><circle cx="541.95" cy="231.40" r="4.05"/><circle cx="543.58" cy="231.40" r="4.05"/><circle cx="545.21" cy="231.40" r="4.05"/><circle cx="546.84" cy="231.40" r="4.05"/><circle cx="548.47" cy="231.40" r="4.05"/><circle cx="550.11" cy="231.40" r="4.05"/><circle cx="551.74" cy="231.40" r="4.05"/><circle cx="553.37" cy="231.40" r="4.05"/><circle cx="555.00" cy="231.40" r="4.05"/><circle cx="556.63" cy="231.40" r="4.05"/><circle cx="558.26" cy="231.40" r="4.05"/><circle cx="559.89" cy="231.40" r="4.05"/><circle cx="561.52" cy="231.40" r="4.05"/><circle cx="563.15" cy="231.40" r="4.05"/><circle cx="564.78" cy="231.40" r="4.05"/><circle cx="566.41" cy="231.40" r="4.05"/><circle cx="568.04" cy="231.40" r="4.05"/><circle cx="569.67" cy="231.40" r="4.05"/><circle cx="571.30" cy="231.40" r="4.05"/><circle cx="572.93" cy="231.40" r="4.05"/><circle cx="574.56" cy="231.40" r="4.05"/><circle cx="576.19" cy="231.40" r="4.05"/><circle cx="577.83" cy="231.40" r="4.05"/><circle cx="579.46" cy="231.40" r="4.05"/><circle cx="581.09" cy="231.40" r="4.05"/><circle cx="582.72" cy="231.40" r="4.05"/><circle cx="584.35" cy="231.40" r="4.05"/><circle cx="585.98" cy="231.40" r="4.05"/><circle cx="587.61" cy="231.40" r="4.05"/><circle cx="589.24" cy="231.40" r="4.05"/><circle cx="590.87" cy="231.40" r="4.05"/><circle cx="592.50" cy="231.40" r="4.05"/><circle cx="601.00" cy="231.40" r="4.05"/><circle cx="602.69" cy="231.40" r="4.05"/><circle cx="604.38" cy="231.40" r="4.05"/><circle cx="606.06" cy="231.40" r="4.05"/><circle cx="607.75" cy="231.40" r="4.05"/><circle cx="609.44" cy="231.40" r="4.05"/><circle cx="611.12" cy="231.40" r="4.05"/><circle cx="612.81" cy="231.40" r="4.05"/><circle cx="614.50" cy="231.40" r="4.05"/><circle cx="628.00" cy="231.40" r="4.05"/><circle cx="629.67" cy="231.40" r="4.05"/><circle cx="631.33" cy="231.40" r="4.05"/><circle cx="633.00" cy="231.40" r="4.05"/><circle cx="634.66" cy="231.40" r="4.05"/><circle cx="636.33" cy="231.40" r="4.05"/><circle cx="637.99" cy="231.40" r="4.05"/><circle cx="639.66" cy="231.40" r="4.05"/><circle cx="641.32" cy="231.40" r="4.05"/><circle cx="642.99" cy="231.40" r="4.05"/><circle cx="644.65" cy="231.40" r="4.05"/><circle cx="646.32" cy="231.40" r="4.05"/><circle cx="647.98" cy="231.40" r="4.05"/><circle cx="649.65" cy="231.40" r="4.05"/><circle cx="651.31" cy="231.40" r="4.05"/><circle cx="652.98" cy="231.40" r="4.05"/><circle cx="654.64" cy="231.40" r="4.05"/><circle cx="656.31" cy="231.40" r="4.05"/><circle cx="657.97" cy="231.40" r="4.05"/><circle cx="659.64" cy="231.40" r="4.05"/><circle cx="661.30" cy="231.40" r="4.05"/><circle cx="662.97" cy="231.40" r="4.05"/><circle cx="664.63" cy="231.40" r="4.05"/><circle cx="666.30" cy="231.40" r="4.05"/><circle cx="516.50" cy="232.60" r="4.05"/><circle cx="519.00" cy="221.50" r="4.05"/><circle cx="523.00" cy="219.00" r="4.05"/><circle cx="526.00" cy="219.50" r="4.05"/><circle cx="511.70" cy="225.90" r="4.05"/><circle cx="516.70" cy="220.90" r="4.05"/><circle cx="521.00" cy="219.10" r="4.05"/><circle cx="524.70" cy="216.60" r="4.05"/><circle cx="527.80" cy="222.20" r="4.05"/><circle cx="527.80" cy="209.50" r="4.05"/><circle cx="529.00" cy="206.70" r="4.05"/><circle cx="530.90" cy="203.00" r="4.05"/><circle cx="532.20" cy="172.20" r="4.05"/><circle cx="594.20" cy="208.60" r="4.05"/><circle cx="596.00" cy="217.50" r="4.05"/><circle cx="597.50" cy="218.30" r="4.05"/><circle cx="603.80" cy="221.90" r="4.05"/><circle cx="617.00" cy="217.50" r="4.05"/><circle cx="617.80" cy="218.30" r="4.05"/><circle cx="619.70" cy="208.60" r="4.05"/><circle cx="621.90" cy="199.10" r="4.05"/><circle cx="624.50" cy="203.50" r="4.05"/><circle cx="625.50" cy="204.20" r="4.05"/><circle cx="650.00" cy="222.20" r="4.05"/><circle cx="653.20" cy="217.20" r="4.05"/></g>
<text transform="translate(470.50,239.00) scale(0.975,1)" text-anchor="end" font-size="19.7" fill="#262626">0</text>
<text transform="translate(470.50,216.09) scale(0.975,1)" text-anchor="end" font-size="19.7" fill="#262626">0.5</text>
<text transform="translate(470.50,193.00) scale(0.975,1)" text-anchor="end" font-size="19.7" fill="#262626">1</text>
</g>
<g>
<path d="M485.90 345.20h1.2v1.8h-1.2zM485.90 351.80h1.2v1.8h-1.2zM485.90 332.00h1.2v1.8h-1.2zM485.90 325.40h1.2v1.8h-1.2zM485.90 318.80h1.2v1.8h-1.2zM485.90 312.20h1.2v1.8h-1.2zM491.45 345.20h1.2v1.8h-1.2zM491.45 351.80h1.2v1.8h-1.2zM491.45 332.00h1.2v1.8h-1.2zM491.45 325.40h1.2v1.8h-1.2zM491.45 318.80h1.2v1.8h-1.2zM491.45 312.20h1.2v1.8h-1.2zM497.01 345.20h1.2v1.8h-1.2zM497.01 351.80h1.2v1.8h-1.2zM497.01 332.00h1.2v1.8h-1.2zM497.01 325.40h1.2v1.8h-1.2zM497.01 318.80h1.2v1.8h-1.2zM497.01 312.20h1.2v1.8h-1.2zM502.56 345.20h1.2v1.8h-1.2zM502.56 351.80h1.2v1.8h-1.2zM502.56 332.00h1.2v1.8h-1.2zM502.56 325.40h1.2v1.8h-1.2zM502.56 318.80h1.2v1.8h-1.2zM502.56 312.20h1.2v1.8h-1.2zM508.12 345.20h1.2v1.8h-1.2zM508.12 351.80h1.2v1.8h-1.2zM508.12 332.00h1.2v1.8h-1.2zM508.12 325.40h1.2v1.8h-1.2zM508.12 318.80h1.2v1.8h-1.2zM508.12 312.20h1.2v1.8h-1.2zM513.67 345.20h1.2v1.8h-1.2zM513.67 351.80h1.2v1.8h-1.2zM513.67 332.00h1.2v1.8h-1.2zM513.67 325.40h1.2v1.8h-1.2zM513.67 318.80h1.2v1.8h-1.2zM513.67 312.20h1.2v1.8h-1.2zM519.23 345.20h1.2v1.8h-1.2zM519.23 351.80h1.2v1.8h-1.2zM519.23 332.00h1.2v1.8h-1.2zM519.23 325.40h1.2v1.8h-1.2zM519.23 318.80h1.2v1.8h-1.2zM519.23 312.20h1.2v1.8h-1.2zM524.78 345.20h1.2v1.8h-1.2zM524.78 351.80h1.2v1.8h-1.2zM524.78 332.00h1.2v1.8h-1.2zM524.78 325.40h1.2v1.8h-1.2zM524.78 318.80h1.2v1.8h-1.2zM524.78 312.20h1.2v1.8h-1.2zM530.34 345.20h1.2v1.8h-1.2zM530.34 351.80h1.2v1.8h-1.2zM530.34 332.00h1.2v1.8h-1.2zM530.34 325.40h1.2v1.8h-1.2zM530.34 318.80h1.2v1.8h-1.2zM530.34 312.20h1.2v1.8h-1.2zM535.89 345.20h1.2v1.8h-1.2zM535.89 351.80h1.2v1.8h-1.2zM535.89 332.00h1.2v1.8h-1.2zM535.89 325.40h1.2v1.8h-1.2zM535.89 318.80h1.2v1.8h-1.2zM535.89 312.20h1.2v1.8h-1.2zM541.45 345.20h1.2v1.8h-1.2zM541.45 351.80h1.2v1.8h-1.2zM541.45 332.00h1.2v1.8h-1.2zM541.45 325.40h1.2v1.8h-1.2zM541.45 318.80h1.2v1.8h-1.2zM541.45 312.20h1.2v1.8h-1.2zM547.00 345.20h1.2v1.8h-1.2zM547.00 351.80h1.2v1.8h-1.2zM547.00 332.00h1.2v1.8h-1.2zM547.00 325.40h1.2v1.8h-1.2zM547.00 318.80h1.2v1.8h-1.2zM547.00 312.20h1.2v1.8h-1.2zM552.56 345.20h1.2v1.8h-1.2zM552.56 351.80h1.2v1.8h-1.2zM552.56 332.00h1.2v1.8h-1.2zM552.56 325.40h1.2v1.8h-1.2zM552.56 318.80h1.2v1.8h-1.2zM552.56 312.20h1.2v1.8h-1.2zM558.11 345.20h1.2v1.8h-1.2zM558.11 351.80h1.2v1.8h-1.2zM558.11 332.00h1.2v1.8h-1.2zM558.11 325.40h1.2v1.8h-1.2zM558.11 318.80h1.2v1.8h-1.2zM558.11 312.20h1.2v1.8h-1.2zM563.67 345.20h1.2v1.8h-1.2zM563.67 351.80h1.2v1.8h-1.2zM563.67 332.00h1.2v1.8h-1.2zM563.67 325.40h1.2v1.8h-1.2zM563.67 318.80h1.2v1.8h-1.2zM563.67 312.20h1.2v1.8h-1.2zM569.22 345.20h1.2v1.8h-1.2zM569.22 351.80h1.2v1.8h-1.2zM569.22 332.00h1.2v1.8h-1.2zM569.22 325.40h1.2v1.8h-1.2zM569.22 318.80h1.2v1.8h-1.2zM569.22 312.20h1.2v1.8h-1.2zM574.78 345.20h1.2v1.8h-1.2zM574.78 351.80h1.2v1.8h-1.2zM574.78 332.00h1.2v1.8h-1.2zM574.78 325.40h1.2v1.8h-1.2zM574.78 318.80h1.2v1.8h-1.2zM574.78 312.20h1.2v1.8h-1.2zM580.33 345.20h1.2v1.8h-1.2zM580.33 351.80h1.2v1.8h-1.2zM580.33 332.00h1.2v1.8h-1.2zM580.33 325.40h1.2v1.8h-1.2zM580.33 318.80h1.2v1.8h-1.2zM580.33 312.20h1.2v1.8h-1.2zM585.89 345.20h1.2v1.8h-1.2zM585.89 351.80h1.2v1.8h-1.2zM585.89 332.00h1.2v1.8h-1.2zM585.89 325.40h1.2v1.8h-1.2zM585.89 318.80h1.2v1.8h-1.2zM585.89 312.20h1.2v1.8h-1.2zM591.44 345.20h1.2v1.8h-1.2zM591.44 351.80h1.2v1.8h-1.2zM591.44 332.00h1.2v1.8h-1.2zM591.44 325.40h1.2v1.8h-1.2zM591.44 318.80h1.2v1.8h-1.2zM591.44 312.20h1.2v1.8h-1.2zM597.00 345.20h1.2v1.8h-1.2zM597.00 351.80h1.2v1.8h-1.2zM597.00 332.00h1.2v1.8h-1.2zM597.00 325.40h1.2v1.8h-1.2zM597.00 318.80h1.2v1.8h-1.2zM597.00 312.20h1.2v1.8h-1.2zM602.55 345.20h1.2v1.8h-1.2zM602.55 351.80h1.2v1.8h-1.2zM602.55 332.00h1.2v1.8h-1.2zM602.55 325.40h1.2v1.8h-1.2zM602.55 318.80h1.2v1.8h-1.2zM602.55 312.20h1.2v1.8h-1.2zM608.11 345.20h1.2v1.8h-1.2zM608.11 351.80h1.2v1.8h-1.2zM608.11 332.00h1.2v1.8h-1.2zM608.11 325.40h1.2v1.8h-1.2zM608.11 318.80h1.2v1.8h-1.2zM608.11 312.20h1.2v1.8h-1.2zM613.66 345.20h1.2v1.8h-1.2zM613.66 351.80h1.2v1.8h-1.2zM613.66 332.00h1.2v1.8h-1.2zM613.66 325.40h1.2v1.8h-1.2zM613.66 318.80h1.2v1.8h-1.2zM613.66 312.20h1.2v1.8h-1.2zM619.22 345.20h1.2v1.8h-1.2zM619.22 351.80h1.2v1.8h-1.2zM619.22 332.00h1.2v1.8h-1.2zM619.22 325.40h1.2v1.8h-1.2zM619.22 318.80h1.2v1.8h-1.2zM619.22 312.20h1.2v1.8h-1.2zM624.77 345.20h1.2v1.8h-1.2zM624.77 351.80h1.2v1.8h-1.2zM624.77 332.00h1.2v1.8h-1.2zM624.77 325.40h1.2v1.8h-1.2zM624.77 318.80h1.2v1.8h-1.2zM624.77 312.20h1.2v1.8h-1.2zM630.33 345.20h1.2v1.8h-1.2zM630.33 351.80h1.2v1.8h-1.2zM630.33 332.00h1.2v1.8h-1.2zM630.33 325.40h1.2v1.8h-1.2zM630.33 318.80h1.2v1.8h-1.2zM630.33 312.20h1.2v1.8h-1.2zM635.88 345.20h1.2v1.8h-1.2zM635.88 351.80h1.2v1.8h-1.2zM635.88 332.00h1.2v1.8h-1.2zM635.88 325.40h1.2v1.8h-1.2zM635.88 318.80h1.2v1.8h-1.2zM635.88 312.20h1.2v1.8h-1.2zM641.44 345.20h1.2v1.8h-1.2zM641.44 351.80h1.2v1.8h-1.2zM641.44 332.00h1.2v1.8h-1.2zM641.44 325.40h1.2v1.8h-1.2zM641.44 318.80h1.2v1.8h-1.2zM641.44 312.20h1.2v1.8h-1.2zM646.99 345.20h1.2v1.8h-1.2zM646.99 351.80h1.2v1.8h-1.2zM646.99 332.00h1.2v1.8h-1.2zM646.99 325.40h1.2v1.8h-1.2zM646.99 318.80h1.2v1.8h-1.2zM646.99 312.20h1.2v1.8h-1.2zM652.55 345.20h1.2v1.8h-1.2zM652.55 351.80h1.2v1.8h-1.2zM652.55 332.00h1.2v1.8h-1.2zM652.55 325.40h1.2v1.8h-1.2zM652.55 318.80h1.2v1.8h-1.2zM652.55 312.20h1.2v1.8h-1.2zM658.10 345.20h1.2v1.8h-1.2zM658.10 351.80h1.2v1.8h-1.2zM658.10 332.00h1.2v1.8h-1.2zM658.10 325.40h1.2v1.8h-1.2zM658.10 318.80h1.2v1.8h-1.2zM658.10 312.20h1.2v1.8h-1.2zM663.66 345.20h1.2v1.8h-1.2zM663.66 351.80h1.2v1.8h-1.2zM663.66 332.00h1.2v1.8h-1.2zM663.66 325.40h1.2v1.8h-1.2zM663.66 318.80h1.2v1.8h-1.2zM663.66 312.20h1.2v1.8h-1.2zM669.21 345.20h1.2v1.8h-1.2zM669.21 351.80h1.2v1.8h-1.2zM669.21 332.00h1.2v1.8h-1.2zM669.21 325.40h1.2v1.8h-1.2zM669.21 318.80h1.2v1.8h-1.2zM669.21 312.20h1.2v1.8h-1.2zM674.77 345.20h1.2v1.8h-1.2zM674.77 351.80h1.2v1.8h-1.2zM674.77 332.00h1.2v1.8h-1.2zM674.77 325.40h1.2v1.8h-1.2zM674.77 318.80h1.2v1.8h-1.2zM674.77 312.20h1.2v1.8h-1.2zM680.32 345.20h1.2v1.8h-1.2zM680.32 351.80h1.2v1.8h-1.2zM680.32 332.00h1.2v1.8h-1.2zM680.32 325.40h1.2v1.8h-1.2zM680.32 318.80h1.2v1.8h-1.2zM680.32 312.20h1.2v1.8h-1.2zM685.88 345.20h1.2v1.8h-1.2zM685.88 351.80h1.2v1.8h-1.2zM685.88 332.00h1.2v1.8h-1.2zM685.88 325.40h1.2v1.8h-1.2zM685.88 318.80h1.2v1.8h-1.2zM685.88 312.20h1.2v1.8h-1.2zM691.43 345.20h1.2v1.8h-1.2zM691.43 351.80h1.2v1.8h-1.2zM691.43 332.00h1.2v1.8h-1.2zM691.43 325.40h1.2v1.8h-1.2zM691.43 318.80h1.2v1.8h-1.2zM691.43 312.20h1.2v1.8h-1.2zM696.99 345.20h1.2v1.8h-1.2zM696.99 351.80h1.2v1.8h-1.2zM696.99 332.00h1.2v1.8h-1.2zM696.99 325.40h1.2v1.8h-1.2zM696.99 318.80h1.2v1.8h-1.2zM696.99 312.20h1.2v1.8h-1.2z" fill="#262626" fill-opacity="0.3"/>
<path d="M523.30 299.40V359.40M567.10 299.40V359.40M610.90 299.40V359.40M654.70 299.40V359.40M479.50 339.50H698.50M479.50 306.50H698.50" stroke="#e0e0e0" stroke-width="1.5" fill="none"/>
<rect x="479.5" y="299.4" width="219.00" height="60.00" fill="none" stroke="#262626" stroke-width="2.0"/>
<path d="M523.30 299.40v2.3M523.30 359.40v-2.3M567.10 299.40v2.3M567.10 359.40v-2.3M610.90 299.40v2.3M610.90 359.40v-2.3M654.70 299.40v2.3M654.70 359.40v-2.3M479.50 339.50h2.3M698.50 339.50h-2.3M479.50 306.50h2.3M698.50 306.50h-2.3" stroke="#262626" stroke-width="1.6" fill="none"/>
<path d="M492.33 350.61L493.10 350.00L493.21 349.92" fill="none" stroke="#0072BD" stroke-width="3.6" stroke-linecap="round" stroke-linejoin="round"/>
<path d="M592.78 325.59L596.80 324.50L603.54 324.50" fill="none" stroke="#0072BD" stroke-width="3.6" stroke-linecap="round" stroke-linejoin="round"/>
<path d="M615.10 300.60L618.50 304.00L621.50 307.00L624.40 310.50L628.00 313.00L631.40 314.30L635.00 315.50L638.50 315.80L642.00 314.50L645.60 312.50L649.50 309.50L652.50 311.50L656.90 315.50L660.50 317.00L663.19 317.77" fill="none" stroke="#0072BD" stroke-width="3.8" stroke-linecap="round" stroke-linejoin="round"/>
<g fill="none" stroke="#0072BD" stroke-width="2.0"><circle cx="489.60" cy="353.10" r="4.05"/><circle cx="491.35" cy="351.10" r="4.05"/><circle cx="493.10" cy="350.30" r="4.05"/><circle cx="494.55" cy="348.60" r="4.05"/><circle cx="496.00" cy="348.10" r="4.05"/><circle cx="489.60" cy="353.40" r="4.05"/><circle cx="493.10" cy="349.40" r="4.05"/><circle cx="497.40" cy="347.80" r="4.05"/><circle cx="499.50" cy="344.45" r="4.05"/><circle cx="501.60" cy="343.50" r="4.05"/><circle cx="503.80" cy="338.10" r="4.05"/><circle cx="506.60" cy="335.70" r="4.05"/><circle cx="508.70" cy="331.00" r="4.05"/><circle cx="510.80" cy="328.00" r="4.05"/><circle cx="511.90" cy="323.95" r="4.05"/><circle cx="513.00" cy="322.30" r="4.05"/><circle cx="515.10" cy="317.60" r="4.05"/><circle cx="515.80" cy="315.97" r="4.05"/><circle cx="516.50" cy="311.93" r="4.05"/><circle cx="517.20" cy="310.30" r="4.05"/><circle cx="517.20" cy="310.50" r="4.05"/><circle cx="519.30" cy="309.95" r="4.05"/><circle cx="521.40" cy="312.60" r="4.05"/><circle cx="524.30" cy="308.20" r="4.05"/><circle cx="526.40" cy="308.00" r="4.05"/><circle cx="528.50" cy="304.60" r="4.05"/><circle cx="519.00" cy="313.50" r="4.05"/><circle cx="525.70" cy="316.00" r="4.05"/><circle cx="529.90" cy="316.00" r="4.05"/><circle cx="531.50" cy="314.00" r="4.05"/><circle cx="532.70" cy="359.90" r="4.05"/><circle cx="532.00" cy="346.50" r="4.05"/><circle cx="534.50" cy="349.00" r="4.05"/><circle cx="537.00" cy="350.00" r="4.05"/><circle cx="539.80" cy="344.30" r="4.05"/><circle cx="539.80" cy="345.30" r="4.05"/><circle cx="541.90" cy="341.20" r="4.05"/><circle cx="544.00" cy="341.10" r="4.05"/><circle cx="546.15" cy="338.40" r="4.05"/><circle cx="548.30" cy="339.70" r="4.05"/><circle cx="550.40" cy="337.00" r="4.05"/><circle cx="552.50" cy="338.30" r="4.05"/><circle cx="554.65" cy="334.15" r="4.05"/><circle cx="556.80" cy="334.00" r="4.05"/><circle cx="558.90" cy="330.60" r="4.05"/><circle cx="561.00" cy="331.20" r="4.05"/><circle cx="562.80" cy="327.10" r="4.05"/><circle cx="564.60" cy="327.00" r="4.05"/><circle cx="565.77" cy="326.87" r="4.05"/><circle cx="566.93" cy="330.73" r="4.05"/><circle cx="568.10" cy="330.60" r="4.05"/><circle cx="569.53" cy="334.50" r="4.05"/><circle cx="570.97" cy="334.40" r="4.05"/><circle cx="572.40" cy="338.30" r="4.05"/><circle cx="575.20" cy="337.70" r="4.05"/><circle cx="578.00" cy="341.10" r="4.05"/><circle cx="582.30" cy="339.10" r="4.05"/><circle cx="583.35" cy="338.98" r="4.05"/><circle cx="584.40" cy="334.85" r="4.05"/><circle cx="585.45" cy="334.73" r="4.05"/><circle cx="586.50" cy="330.60" r="4.05"/><circle cx="587.75" cy="329.80" r="4.05"/><circle cx="589.00" cy="325.00" r="4.05"/><circle cx="589.40" cy="326.80" r="4.05"/><circle cx="591.25" cy="325.70" r="4.05"/><circle cx="593.10" cy="325.80" r="4.05"/><circle cx="594.95" cy="324.70" r="4.05"/><circle cx="596.80" cy="324.80" r="4.05"/><circle cx="598.65" cy="324.20" r="4.05"/><circle cx="600.50" cy="324.80" r="4.05"/><circle cx="602.35" cy="324.20" r="4.05"/><circle cx="604.20" cy="324.80" r="4.05"/><circle cx="607.00" cy="324.70" r="4.05"/><circle cx="607.70" cy="318.70" r="4.05"/><circle cx="609.00" cy="312.50" r="4.05"/><circle cx="609.60" cy="303.30" r="4.05"/><circle cx="614.50" cy="298.30" r="4.05"/><circle cx="612.00" cy="302.40" r="4.05"/><circle cx="613.50" cy="300.85" r="4.05"/><circle cx="615.00" cy="300.90" r="4.05"/><circle cx="616.17" cy="301.27" r="4.05"/><circle cx="617.33" cy="303.23" r="4.05"/><circle cx="618.50" cy="303.60" r="4.05"/><circle cx="620.00" cy="305.90" r="4.05"/><circle cx="621.50" cy="306.60" r="4.05"/><circle cx="622.95" cy="309.15" r="4.05"/><circle cx="624.40" cy="310.10" r="4.05"/><circle cx="626.20" cy="312.15" r="4.05"/><circle cx="628.00" cy="312.60" r="4.05"/><circle cx="629.70" cy="314.05" r="4.05"/><circle cx="631.40" cy="313.90" r="4.05"/><circle cx="633.20" cy="315.30" r="4.05"/><circle cx="635.00" cy="315.10" r="4.05"/><circle cx="636.75" cy="316.05" r="4.05"/><circle cx="638.50" cy="315.40" r="4.05"/><circle cx="640.25" cy="315.55" r="4.05"/><circle cx="642.00" cy="314.10" r="4.05"/><circle cx="643.80" cy="313.90" r="4.05"/><circle cx="645.60" cy="312.10" r="4.05"/><circle cx="646.90" cy="311.90" r="4.05"/><circle cx="648.20" cy="310.10" r="4.05"/><circle cx="649.50" cy="309.90" r="4.05"/><circle cx="651.00" cy="310.10" r="4.05"/><circle cx="652.50" cy="311.90" r="4.05"/><circle cx="653.97" cy="312.43" r="4.05"/><circle cx="655.43" cy="314.57" r="4.05"/><circle cx="656.90" cy="315.10" r="4.05"/><circle cx="658.70" cy="316.65" r="4.05"/><circle cx="660.50" cy="316.60" r="4.05"/><circle cx="662.25" cy="317.90" r="4.05"/><circle cx="664.00" cy="317.60" r="4.05"/><circle cx="666.20" cy="316.90" r="4.05"/></g>
<text transform="translate(470.50,346.89) scale(0.975,1)" text-anchor="end" font-size="19.7" fill="#262626">2</text>
<text transform="translate(470.50,312.94) scale(0.975,1)" text-anchor="end" font-size="19.7" fill="#262626">3</text>
</g>
<g>
<path d="M485.90 480.74h1.2v1.8h-1.2zM485.90 475.28h1.2v1.8h-1.2zM485.90 469.82h1.2v1.8h-1.2zM485.90 464.36h1.2v1.8h-1.2zM485.90 453.44h1.2v1.8h-1.2zM485.90 447.98h1.2v1.8h-1.2zM485.90 442.52h1.2v1.8h-1.2zM485.90 437.06h1.2v1.8h-1.2zM491.45 480.74h1.2v1.8h-1.2zM491.45 475.28h1.2v1.8h-1.2zM491.45 469.82h1.2v1.8h-1.2zM491.45 464.36h1.2v1.8h-1.2zM491.45 453.44h1.2v1.8h-1.2zM491.45 447.98h1.2v1.8h-1.2zM491.45 442.52h1.2v1.8h-1.2zM491.45 437.06h1.2v1.8h-1.2zM497.01 480.74h1.2v1.8h-1.2zM497.01 475.28h1.2v1.8h-1.2zM497.01 469.82h1.2v1.8h-1.2zM497.01 464.36h1.2v1.8h-1.2zM497.01 453.44h1.2v1.8h-1.2zM497.01 447.98h1.2v1.8h-1.2zM497.01 442.52h1.2v1.8h-1.2zM497.01 437.06h1.2v1.8h-1.2zM502.56 480.74h1.2v1.8h-1.2zM502.56 475.28h1.2v1.8h-1.2zM502.56 469.82h1.2v1.8h-1.2zM502.56 464.36h1.2v1.8h-1.2zM502.56 453.44h1.2v1.8h-1.2zM502.56 447.98h1.2v1.8h-1.2zM502.56 442.52h1.2v1.8h-1.2zM502.56 437.06h1.2v1.8h-1.2zM508.12 480.74h1.2v1.8h-1.2zM508.12 475.28h1.2v1.8h-1.2zM508.12 469.82h1.2v1.8h-1.2zM508.12 464.36h1.2v1.8h-1.2zM508.12 453.44h1.2v1.8h-1.2zM508.12 447.98h1.2v1.8h-1.2zM508.12 442.52h1.2v1.8h-1.2zM508.12 437.06h1.2v1.8h-1.2zM513.67 480.74h1.2v1.8h-1.2zM513.67 475.28h1.2v1.8h-1.2zM513.67 469.82h1.2v1.8h-1.2zM513.67 464.36h1.2v1.8h-1.2zM513.67 453.44h1.2v1.8h-1.2zM513.67 447.98h1.2v1.8h-1.2zM513.67 442.52h1.2v1.8h-1.2zM513.67 437.06h1.2v1.8h-1.2zM519.23 480.74h1.2v1.8h-1.2zM519.23 475.28h1.2v1.8h-1.2zM519.23 469.82h1.2v1.8h-1.2zM519.23 464.36h1.2v1.8h-1.2zM519.23 453.44h1.2v1.8h-1.2zM519.23 447.98h1.2v1.8h-1.2zM519.23 442.52h1.2v1.8h-1.2zM519.23 437.06h1.2v1.8h-1.2zM524.78 480.74h1.2v1.8h-1.2zM524.78 475.28h1.2v1.8h-1.2zM524.78 469.82h1.2v1.8h-1.2zM524.78 464.36h1.2v1.8h-1.2zM524.78 453.44h1.2v1.8h-1.2zM524.78 447.98h1.2v1.8h-1.2zM524.78 442.52h1.2v1.8h-1.2zM524.78 437.06h1.2v1.8h-1.2zM530.34 480.74h1.2v1.8h-1.2zM530.34 475.28h1.2v1.8h-1.2zM530.34 469.82h1.2v1.8h-1.2zM530.34 464.36h1.2v1.8h-1.2zM530.34 453.44h1.2v1.8h-1.2zM530.34 447.98h1.2v1.8h-1.2zM530.34 442.52h1.2v1.8h-1.2zM530.34 437.06h1.2v1.8h-1.2zM535.89 480.74h1.2v1.8h-1.2zM535.89 475.28h1.2v1.8h-1.2zM535.89 469.82h1.2v1.8h-1.2zM535.89 464.36h1.2v1.8h-1.2zM535.89 453.44h1.2v1.8h-1.2zM535.89 447.98h1.2v1.8h-1.2zM535.89 442.52h1.2v1.8h-1.2zM535.89 437.06h1.2v1.8h-1.2zM541.45 480.74h1.2v1.8h-1.2zM541.45 475.28h1.2v1.8h-1.2zM541.45 469.82h1.2v1.8h-1.2zM541.45 464.36h1.2v1.8h-1.2zM541.45 453.44h1.2v1.8h-1.2zM541.45 447.98h1.2v1.8h-1.2zM541.45 442.52h1.2v1.8h-1.2zM541.45 437.06h1.2v1.8h-1.2zM547.00 480.74h1.2v1.8h-1.2zM547.00 475.28h1.2v1.8h-1.2zM547.00 469.82h1.2v1.8h-1.2zM547.00 464.36h1.2v1.8h-1.2zM547.00 453.44h1.2v1.8h-1.2zM547.00 447.98h1.2v1.8h-1.2zM547.00 442.52h1.2v1.8h-1.2zM547.00 437.06h1.2v1.8h-1.2zM552.56 480.74h1.2v1.8h-1.2zM552.56 475.28h1.2v1.8h-1.2zM552.56 469.82h1.2v1.8h-1.2zM552.56 464.36h1.2v1.8h-1.2zM552.56 453.44h1.2v1.8h-1.2zM552.56 447.98h1.2v1.8h-1.2zM552.56 442.52h1.2v1.8h-1.2zM552.56 437.06h1.2v1.8h-1.2zM558.11 480.74h1.2v1.8h-1.2zM558.11 475.28h1.2v1.8h-1.2zM558.11 469.82h1.2v1.8h-1.2zM558.11 464.36h1.2v1.8h-1.2zM558.11 453.44h1.2v1.8h-1.2zM558.11 447.98h1.2v1.8h-1.2zM558.11 442.52h1.2v1.8h-1.2zM558.11 437.06h1.2v1.8h-1.2zM563.67 480.74h1.2v1.8h-1.2zM563.67 475.28h1.2v1.8h-1.2zM563.67 469.82h1.2v1.8h-1.2zM563.67 464.36h1.2v1.8h-1.2zM563.67 453.44h1.2v1.8h-1.2zM563.67 447.98h1.2v1.8h-1.2zM563.67 442.52h1.2v1.8h-1.2zM563.67 437.06h1.2v1.8h-1.2zM569.22 480.74h1.2v1.8h-1.2zM569.22 475.28h1.2v1.8h-1.2zM569.22 469.82h1.2v1.8h-1.2zM569.22 464.36h1.2v1.8h-1.2zM569.22 453.44h1.2v1.8h-1.2zM569.22 447.98h1.2v1.8h-1.2zM569.22 442.52h1.2v1.8h-1.2zM569.22 437.06h1.2v1.8h-1.2zM574.78 480.74h1.2v1.8h-1.2zM574.78 475.28h1.2v1.8h-1.2zM574.78 469.82h1.2v1.8h-1.2zM574.78 464.36h1.2v1.8h-1.2zM574.78 453.44h1.2v1.8h-1.2zM574.78 447.98h1.2v1.8h-1.2zM574.78 442.52h1.2v1.8h-1.2zM574.78 437.06h1.2v1.8h-1.2zM580.33 480.74h1.2v1.8h-1.2zM580.33 475.28h1.2v1.8h-1.2zM580.33 469.82h1.2v1.8h-1.2zM580.33 464.36h1.2v1.8h-1.2zM580.33 453.44h1.2v1.8h-1.2zM580.33 447.98h1.2v1.8h-1.2zM580.33 442.52h1.2v1.8h-1.2zM580.33 437.06h1.2v1.8h-1.2zM585.89 480.74h1.2v1.8h-1.2zM585.89 475.28h1.2v1.8h-1.2zM585.89 469.82h1.2v1.8h-1.2zM585.89 464.36h1.2v1.8h-1.2zM585.89 453.44h1.2v1.8h-1.2zM585.89 447.98h1.2v1.8h-1.2zM585.89 442.52h1.2v1.8h-1.2zM585.89 437.06h1.2v1.8h-1.2zM591.44 480.74h1.2v1.8h-1.2zM591.44 475.28h1.2v1.8h-1.2zM591.44 469.82h1.2v1.8h-1.2zM591.44 464.36h1.2v1.8h-1.2zM591.44 453.44h1.2v1.8h-1.2zM591.44 447.98h1.2v1.8h-1.2zM591.44 442.52h1.2v1.8h-1.2zM591.44 437.06h1.2v1.8h-1.2zM597.00 480.74h1.2v1.8h-1.2zM597.00 475.28h1.2v1.8h-1.2zM597.00 469.82h1.2v1.8h-1.2zM597.00 464.36h1.2v1.8h-1.2zM597.00 453.44h1.2v1.8h-1.2zM597.00 447.98h1.2v1.8h-1.2zM597.00 442.52h1.2v1.8h-1.2zM597.00 437.06h1.2v1.8h-1.2zM602.55 480.74h1.2v1.8h-1.2zM602.55 475.28h1.2v1.8h-1.2zM602.55 469.82h1.2v1.8h-1.2zM602.55 464.36h1.2v1.8h-1.2zM602.55 453.44h1.2v1.8h-1.2zM602.55 447.98h1.2v1.8h-1.2zM602.55 442.52h1.2v1.8h-1.2zM602.55 437.06h1.2v1.8h-1.2zM608.11 480.74h1.2v1.8h-1.2zM608.11 475.28h1.2v1.8h-1.2zM608.11 469.82h1.2v1.8h-1.2zM608.11 464.36h1.2v1.8h-1.2zM608.11 453.44h1.2v1.8h-1.2zM608.11 447.98h1.2v1.8h-1.2zM608.11 442.52h1.2v1.8h-1.2zM608.11 437.06h1.2v1.8h-1.2zM613.66 480.74h1.2v1.8h-1.2zM613.66 475.28h1.2v1.8h-1.2zM613.66 469.82h1.2v1.8h-1.2zM613.66 464.36h1.2v1.8h-1.2zM613.66 453.44h1.2v1.8h-1.2zM613.66 447.98h1.2v1.8h-1.2zM613.66 442.52h1.2v1.8h-1.2zM613.66 437.06h1.2v1.8h-1.2zM619.22 480.74h1.2v1.8h-1.2zM619.22 475.28h1.2v1.8h-1.2zM619.22 469.82h1.2v1.8h-1.2zM619.22 464.36h1.2v1.8h-1.2zM619.22 453.44h1.2v1.8h-1.2zM619.22 447.98h1.2v1.8h-1.2zM619.22 442.52h1.2v1.8h-1.2zM619.22 437.06h1.2v1.8h-1.2zM624.77 480.74h1.2v1.8h-1.2zM624.77 475.28h1.2v1.8h-1.2zM624.77 469.82h1.2v1.8h-1.2zM624.77 464.36h1.2v1.8h-1.2zM624.77 453.44h1.2v1.8h-1.2zM624.77 447.98h1.2v1.8h-1.2zM624.77 442.52h1.2v1.8h-1.2zM624.77 437.06h1.2v1.8h-1.2zM630.33 480.74h1.2v1.8h-1.2zM630.33 475.28h1.2v1.8h-1.2zM630.33 469.82h1.2v1.8h-1.2zM630.33 464.36h1.2v1.8h-1.2zM630.33 453.44h1.2v1.8h-1.2zM630.33 447.98h1.2v1.8h-1.2zM630.33 442.52h1.2v1.8h-1.2zM630.33 437.06h1.2v1.8h-1.2zM635.88 480.74h1.2v1.8h-1.2zM635.88 475.28h1.2v1.8h-1.2zM635.88 469.82h1.2v1.8h-1.2zM635.88 464.36h1.2v1.8h-1.2zM635.88 453.44h1.2v1.8h-1.2zM635.88 447.98h1.2v1.8h-1.2zM635.88 442.52h1.2v1.8h-1.2zM635.88 437.06h1.2v1.8h-1.2zM641.44 480.74h1.2v1.8h-1.2zM641.44 475.28h1.2v1.8h-1.2zM641.44 469.82h1.2v1.8h-1.2zM641.44 464.36h1.2v1.8h-1.2zM641.44 453.44h1.2v1.8h-1.2zM641.44 447.98h1.2v1.8h-1.2zM641.44 442.52h1.2v1.8h-1.2zM641.44 437.06h1.2v1.8h-1.2zM646.99 480.74h1.2v1.8h-1.2zM646.99 475.28h1.2v1.8h-1.2zM646.99 469.82h1.2v1.8h-1.2zM646.99 464.36h1.2v1.8h-1.2zM646.99 453.44h1.2v1.8h-1.2zM646.99 447.98h1.2v1.8h-1.2zM646.99 442.52h1.2v1.8h-1.2zM646.99 437.06h1.2v1.8h-1.2zM652.55 480.74h1.2v1.8h-1.2zM652.55 475.28h1.2v1.8h-1.2zM652.55 469.82h1.2v1.8h-1.2zM652.55 464.36h1.2v1.8h-1.2zM652.55 453.44h1.2v1.8h-1.2zM652.55 447.98h1.2v1.8h-1.2zM652.55 442.52h1.2v1.8h-1.2zM652.55 437.06h1.2v1.8h-1.2zM658.10 480.74h1.2v1.8h-1.2zM658.10 475.28h1.2v1.8h-1.2zM658.10 469.82h1.2v1.8h-1.2zM658.10 464.36h1.2v1.8h-1.2zM658.10 453.44h1.2v1.8h-1.2zM658.10 447.98h1.2v1.8h-1.2zM658.10 442.52h1.2v1.8h-1.2zM658.10 437.06h1.2v1.8h-1.2zM663.66 480.74h1.2v1.8h-1.2zM663.66 475.28h1.2v1.8h-1.2zM663.66 469.82h1.2v1.8h-1.2zM663.66 464.36h1.2v1.8h-1.2zM663.66 453.44h1.2v1.8h-1.2zM663.66 447.98h1.2v1.8h-1.2zM663.66 442.52h1.2v1.8h-1.2zM663.66 437.06h1.2v1.8h-1.2zM669.21 480.74h1.2v1.8h-1.2zM669.21 475.28h1.2v1.8h-1.2zM669.21 469.82h1.2v1.8h-1.2zM669.21 464.36h1.2v1.8h-1.2zM669.21 453.44h1.2v1.8h-1.2zM669.21 447.98h1.2v1.8h-1.2zM669.21 442.52h1.2v1.8h-1.2zM669.21 437.06h1.2v1.8h-1.2zM674.77 480.74h1.2v1.8h-1.2zM674.77 475.28h1.2v1.8h-1.2zM674.77 469.82h1.2v1.8h-1.2zM674.77 464.36h1.2v1.8h-1.2zM674.77 453.44h1.2v1.8h-1.2zM674.77 447.98h1.2v1.8h-1.2zM674.77 442.52h1.2v1.8h-1.2zM674.77 437.06h1.2v1.8h-1.2zM680.32 480.74h1.2v1.8h-1.2zM680.32 475.28h1.2v1.8h-1.2zM680.32 469.82h1.2v1.8h-1.2zM680.32 464.36h1.2v1.8h-1.2zM680.32 453.44h1.2v1.8h-1.2zM680.32 447.98h1.2v1.8h-1.2zM680.32 442.52h1.2v1.8h-1.2zM680.32 437.06h1.2v1.8h-1.2zM685.88 480.74h1.2v1.8h-1.2zM685.88 475.28h1.2v1.8h-1.2zM685.88 469.82h1.2v1.8h-1.2zM685.88 464.36h1.2v1.8h-1.2zM685.88 453.44h1.2v1.8h-1.2zM685.88 447.98h1.2v1.8h-1.2zM685.88 442.52h1.2v1.8h-1.2zM685.88 437.06h1.2v1.8h-1.2zM691.43 480.74h1.2v1.8h-1.2zM691.43 475.28h1.2v1.8h-1.2zM691.43 469.82h1.2v1.8h-1.2zM691.43 464.36h1.2v1.8h-1.2zM691.43 453.44h1.2v1.8h-1.2zM691.43 447.98h1.2v1.8h-1.2zM691.43 442.52h1.2v1.8h-1.2zM691.43 437.06h1.2v1.8h-1.2zM696.99 480.74h1.2v1.8h-1.2zM696.99 475.28h1.2v1.8h-1.2zM696.99 469.82h1.2v1.8h-1.2zM696.99 464.36h1.2v1.8h-1.2zM696.99 453.44h1.2v1.8h-1.2zM696.99 447.98h1.2v1.8h-1.2zM696.99 442.52h1.2v1.8h-1.2zM696.99 437.06h1.2v1.8h-1.2z" fill="#262626" fill-opacity="0.3"/>
<path d="M523.30 427.40V487.30M567.10 427.40V487.30M610.90 427.40V487.30M654.70 427.40V487.30M479.50 459.80H698.50M479.50 432.50H698.50" stroke="#e0e0e0" stroke-width="1.5" fill="none"/>
<rect x="479.5" y="427.4" width="219.00" height="59.90" fill="none" stroke="#262626" stroke-width="2.0"/>
<path d="M523.30 427.40v2.3M523.30 487.30v-2.3M567.10 427.40v2.3M567.10 487.30v-2.3M610.90 427.40v2.3M610.90 487.30v-2.3M654.70 427.40v2.3M654.70 487.30v-2.3M479.50 487.10h2.3M698.50 487.10h-2.3M479.50 459.80h2.3M698.50 459.80h-2.3M479.50 432.50h2.3M698.50 432.50h-2.3" stroke="#262626" stroke-width="1.6" fill="none"/>
<path d="M493.00 487.20L536.00 487.20" fill="none" stroke="#0072BD" stroke-width="3.0" stroke-linecap="round" stroke-linejoin="round"/>
<path d="M554.00 487.20L574.50 487.20" fill="none" stroke="#0072BD" stroke-width="3.0" stroke-linecap="round" stroke-linejoin="round"/>
<path d="M598.00 487.20L619.10 487.20" fill="none" stroke="#0072BD" stroke-width="3.0" stroke-linecap="round" stroke-linejoin="round"/>
<path d="M653.30 487.20L663.00 487.20" fill="none" stroke="#0072BD" stroke-width="3.0" stroke-linecap="round" stroke-linejoin="round"/>
<path d="M641.00 472.30h0.01" fill="none" stroke="#0072BD" stroke-width="3.6" stroke-linecap="round" stroke-linejoin="round"/>
<g fill="none" stroke="#0072BD" stroke-width="2.0"><circle cx="489.50" cy="487.20" r="4.05"/><circle cx="491.11" cy="487.20" r="4.05"/><circle cx="492.73" cy="487.20" r="4.05"/><circle cx="494.34" cy="487.20" r="4.05"/><circle cx="495.95" cy="487.20" r="4.05"/><circle cx="497.56" cy="487.20" r="4.05"/><circle cx="499.18" cy="487.20" r="4.05"/><circle cx="500.79" cy="487.20" r="4.05"/><circle cx="502.40" cy="487.20" r="4.05"/><circle cx="504.02" cy="487.20" r="4.05"/><circle cx="505.63" cy="487.20" r="4.05"/><circle cx="507.24" cy="487.20" r="4.05"/><circle cx="508.85" cy="487.20" r="4.05"/><circle cx="510.47" cy="487.20" r="4.05"/><circle cx="512.08" cy="487.20" r="4.05"/><circle cx="513.69" cy="487.20" r="4.05"/><circle cx="515.31" cy="487.20" r="4.05"/><circle cx="516.92" cy="487.20" r="4.05"/><circle cx="518.53" cy="487.20" r="4.05"/><circle cx="520.15" cy="487.20" r="4.05"/><circle cx="521.76" cy="487.20" r="4.05"/><circle cx="523.37" cy="487.20" r="4.05"/><circle cx="524.98" cy="487.20" r="4.05"/><circle cx="526.60" cy="487.20" r="4.05"/><circle cx="528.21" cy="487.20" r="4.05"/><circle cx="529.82" cy="487.20" r="4.05"/><circle cx="531.44" cy="487.20" r="4.05"/><circle cx="533.05" cy="487.20" r="4.05"/><circle cx="534.66" cy="487.20" r="4.05"/><circle cx="536.27" cy="487.20" r="4.05"/><circle cx="537.89" cy="487.20" r="4.05"/><circle cx="539.50" cy="487.20" r="4.05"/><circle cx="550.50" cy="487.20" r="4.05"/><circle cx="552.12" cy="487.20" r="4.05"/><circle cx="553.74" cy="487.20" r="4.05"/><circle cx="555.35" cy="487.20" r="4.05"/><circle cx="556.97" cy="487.20" r="4.05"/><circle cx="558.59" cy="487.20" r="4.05"/><circle cx="560.21" cy="487.20" r="4.05"/><circle cx="561.82" cy="487.20" r="4.05"/><circle cx="563.44" cy="487.20" r="4.05"/><circle cx="565.06" cy="487.20" r="4.05"/><circle cx="566.68" cy="487.20" r="4.05"/><circle cx="568.29" cy="487.20" r="4.05"/><circle cx="569.91" cy="487.20" r="4.05"/><circle cx="571.53" cy="487.20" r="4.05"/><circle cx="573.15" cy="487.20" r="4.05"/><circle cx="574.76" cy="487.20" r="4.05"/><circle cx="576.38" cy="487.20" r="4.05"/><circle cx="578.00" cy="487.20" r="4.05"/><circle cx="594.50" cy="487.20" r="4.05"/><circle cx="596.15" cy="487.20" r="4.05"/><circle cx="597.81" cy="487.20" r="4.05"/><circle cx="599.46" cy="487.20" r="4.05"/><circle cx="601.11" cy="487.20" r="4.05"/><circle cx="602.76" cy="487.20" r="4.05"/><circle cx="604.42" cy="487.20" r="4.05"/><circle cx="606.07" cy="487.20" r="4.05"/><circle cx="607.72" cy="487.20" r="4.05"/><circle cx="609.38" cy="487.20" r="4.05"/><circle cx="611.03" cy="487.20" r="4.05"/><circle cx="612.68" cy="487.20" r="4.05"/><circle cx="614.34" cy="487.20" r="4.05"/><circle cx="615.99" cy="487.20" r="4.05"/><circle cx="617.64" cy="487.20" r="4.05"/><circle cx="619.29" cy="487.20" r="4.05"/><circle cx="620.95" cy="487.20" r="4.05"/><circle cx="622.60" cy="487.20" r="4.05"/><circle cx="649.80" cy="487.20" r="4.05"/><circle cx="651.47" cy="487.20" r="4.05"/><circle cx="653.14" cy="487.20" r="4.05"/><circle cx="654.81" cy="487.20" r="4.05"/><circle cx="656.48" cy="487.20" r="4.05"/><circle cx="658.15" cy="487.20" r="4.05"/><circle cx="659.82" cy="487.20" r="4.05"/><circle cx="661.49" cy="487.20" r="4.05"/><circle cx="663.16" cy="487.20" r="4.05"/><circle cx="664.83" cy="487.20" r="4.05"/><circle cx="666.50" cy="487.20" r="4.05"/><circle cx="503.10" cy="480.60" r="4.05"/><circle cx="508.60" cy="480.60" r="4.05"/><circle cx="541.20" cy="473.90" r="4.05"/><circle cx="543.00" cy="461.50" r="4.05"/><circle cx="545.50" cy="448.50" r="4.05"/><circle cx="546.70" cy="461.50" r="4.05"/><circle cx="549.20" cy="474.50" r="4.05"/><circle cx="579.40" cy="477.60" r="4.05"/><circle cx="581.30" cy="469.50" r="4.05"/><circle cx="583.80" cy="460.30" r="4.05"/><circle cx="584.40" cy="449.80" r="4.05"/><circle cx="586.90" cy="438.70" r="4.05"/><circle cx="588.70" cy="427.60" r="4.05"/><circle cx="591.20" cy="448.50" r="4.05"/><circle cx="592.40" cy="472.60" r="4.05"/><circle cx="623.70" cy="473.40" r="4.05"/><circle cx="625.60" cy="458.80" r="4.05"/><circle cx="626.80" cy="445.40" r="4.05"/><circle cx="628.80" cy="437.20" r="4.05"/><circle cx="630.70" cy="433.30" r="4.05"/><circle cx="633.20" cy="427.00" r="4.05"/><circle cx="635.10" cy="437.20" r="4.05"/><circle cx="636.40" cy="451.80" r="4.05"/><circle cx="638.50" cy="472.60" r="4.05"/><circle cx="640.17" cy="472.00" r="4.05"/><circle cx="641.83" cy="472.60" r="4.05"/><circle cx="643.50" cy="472.00" r="4.05"/><circle cx="643.50" cy="472.30" r="4.05"/><circle cx="644.10" cy="474.10" r="4.05"/><circle cx="644.70" cy="475.90" r="4.05"/><circle cx="645.65" cy="477.80" r="4.05"/><circle cx="646.60" cy="479.70" r="4.05"/><circle cx="647.25" cy="481.60" r="4.05"/><circle cx="647.90" cy="483.50" r="4.05"/><circle cx="648.85" cy="485.35" r="4.05"/><circle cx="649.80" cy="487.20" r="4.05"/></g>
<text transform="translate(470.50,493.89) scale(0.975,1)" text-anchor="end" font-size="19.7" fill="#262626">0</text>
<text transform="translate(470.50,467.00) scale(0.975,1)" text-anchor="end" font-size="19.7" fill="#262626">10</text>
<text transform="translate(470.50,440.09) scale(0.975,1)" text-anchor="end" font-size="19.7" fill="#262626">20</text>
</g>
<text transform="translate(73.30,124.77) rotate(-90) scale(0.8228,1)" font-size="22.32" fill="#262626">PRESSURE</text>
<text transform="translate(75.90,245.10) rotate(-90) scale(0.9245,1)" font-size="22.17" fill="#262626">AIR<tspan font-size="17.30" dy="9.6">T</tspan><tspan dy="-9.6">EMP</tspan></text>
<text transform="translate(73.30,383.66) rotate(-90) scale(0.9966,1)" font-size="20.87" fill="#262626">MIXDEPTH</text>
<text transform="translate(65.20,502.19) rotate(-90) scale(0.8657,1)" font-size="22.61" fill="#262626">TERR<tspan font-size="17.63" dy="9.6">M</tspan><tspan dy="-9.6">SL</tspan></text>
<text transform="translate(427.50,107.41) rotate(-90) scale(0.9618,1)" font-size="21.45" fill="#262626">THETA</text>
<text transform="translate(435.10,251.04) rotate(-90) scale(0.9086,1)" font-size="22.61" fill="#262626">RAINFALL</text>
<text transform="translate(449.90,384.69) rotate(-90) scale(0.9269,1)" font-size="22.75" fill="#262626">H2OMIXRA</text>
<text transform="translate(399.30,503.63) rotate(-90) scale(0.9462,1)" font-size="21.74" fill="#262626">SUN<tspan font-size="16.96" dy="9.6">F</tspan><tspan dy="-9.6">LUX</tspan></text>
<text transform="translate(156.45,31.80) scale(1.0737,1)" font-size="20.83" font-weight="bold" fill="#000">Figure 3 medium</text>
<text transform="translate(220.85,575.80) scale(1.0780,1)" font-size="20.83" fill="#262626">Time</text>
<text transform="translate(563.85,575.80) scale(1.0780,1)" font-size="20.83" fill="#262626">Time</text>
<text transform="translate(140.70,499.70) rotate(-45) scale(1.03,1)" text-anchor="end" y="13.51" font-size="19.3" fill="#262626">11/14</text>
<text transform="translate(184.48,499.70) rotate(-45) scale(1.03,1)" text-anchor="end" y="13.51" font-size="19.3" fill="#262626">11/15</text>
<text transform="translate(228.26,499.70) rotate(-45) scale(1.03,1)" text-anchor="end" y="13.51" font-size="19.3" fill="#262626">11/16</text>
<text transform="translate(272.04,499.70) rotate(-45) scale(1.03,1)" text-anchor="end" y="13.51" font-size="19.3" fill="#262626">11/17</text>
<text transform="translate(315.82,499.70) rotate(-45) scale(1.03,1)" text-anchor="end" y="13.51" font-size="19.3" fill="#262626">11/18</text>
<text transform="translate(359.60,499.70) rotate(-45) scale(1.03,1)" text-anchor="end" y="13.51" font-size="19.3" fill="#262626">11/19</text>
<text transform="translate(483.70,499.70) rotate(-45) scale(1.03,1)" text-anchor="end" y="13.51" font-size="19.3" fill="#262626">11/14</text>
<text transform="translate(527.50,499.70) rotate(-45) scale(1.03,1)" text-anchor="end" y="13.51" font-size="19.3" fill="#262626">11/15</text>
<text transform="translate(571.30,499.70) rotate(-45) scale(1.03,1)" text-anchor="end" y="13.51" font-size="19.3" fill="#262626">11/16</text>
<text transform="translate(615.10,499.70) rotate(-45) scale(1.03,1)" text-anchor="end" y="13.51" font-size="19.3" fill="#262626">11/17</text>
<text transform="translate(658.90,499.70) rotate(-45) scale(1.03,1)" text-anchor="end" y="13.51" font-size="19.3" fill="#262626">11/18</text>
<text transform="translate(702.70,499.70) rotate(-45) scale(1.03,1)" text-anchor="end" y="13.51" font-size="19.3" fill="#262626">11/19</text>
</svg>
</body></html>
